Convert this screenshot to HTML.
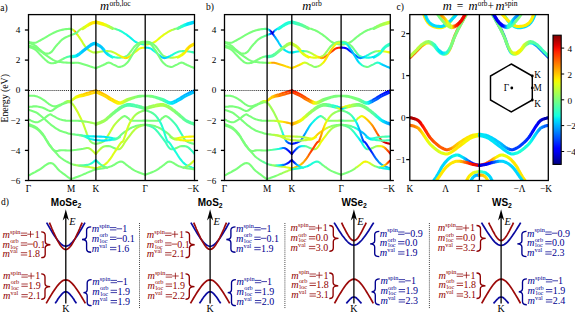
<!DOCTYPE html>
<html><head><meta charset="utf-8"><title>fig</title>
<style>
html,body{margin:0;padding:0;background:#fff;}
body{width:575px;height:313px;overflow:hidden;font-family:"Liberation Serif",serif;}
svg{display:block;}
</style></head><body>
<svg width="575" height="313" viewBox="0 0 575 313">
<defs>
<clipPath id="clipa"><rect x="28.5" y="14.6" width="166" height="165.9"/></clipPath>
<clipPath id="clipb"><rect x="224.5" y="14.6" width="165.8" height="165.9"/></clipPath>
<clipPath id="clipc"><rect x="409.8" y="14.6" width="138.5" height="165.9"/></clipPath>
<linearGradient id="cbar" x1="0" y1="0" x2="0" y2="1"><stop offset="0.000" stop-color="#800000"/><stop offset="0.025" stop-color="#9c0000"/><stop offset="0.050" stop-color="#b90000"/><stop offset="0.075" stop-color="#d60000"/><stop offset="0.100" stop-color="#f30900"/><stop offset="0.125" stop-color="#ff2100"/><stop offset="0.150" stop-color="#ff3900"/><stop offset="0.175" stop-color="#ff5000"/><stop offset="0.200" stop-color="#ff6800"/><stop offset="0.225" stop-color="#ff8000"/><stop offset="0.250" stop-color="#ff9700"/><stop offset="0.275" stop-color="#ffaf00"/><stop offset="0.300" stop-color="#ffc600"/><stop offset="0.325" stop-color="#ffde00"/><stop offset="0.350" stop-color="#f7f600"/><stop offset="0.375" stop-color="#e2ff15"/><stop offset="0.400" stop-color="#ceff29"/><stop offset="0.425" stop-color="#b9ff3e"/><stop offset="0.450" stop-color="#a5ff52"/><stop offset="0.475" stop-color="#90ff67"/><stop offset="0.500" stop-color="#7bff7b"/><stop offset="0.525" stop-color="#67ff90"/><stop offset="0.550" stop-color="#52ffa5"/><stop offset="0.575" stop-color="#3effb9"/><stop offset="0.600" stop-color="#29ffce"/><stop offset="0.625" stop-color="#15ffe2"/><stop offset="0.650" stop-color="#00e5f7"/><stop offset="0.675" stop-color="#00ccff"/><stop offset="0.700" stop-color="#00b2ff"/><stop offset="0.725" stop-color="#0099ff"/><stop offset="0.750" stop-color="#0080ff"/><stop offset="0.775" stop-color="#0066ff"/><stop offset="0.800" stop-color="#004dff"/><stop offset="0.825" stop-color="#0033ff"/><stop offset="0.850" stop-color="#0019ff"/><stop offset="0.875" stop-color="#0000ff"/><stop offset="0.900" stop-color="#0000f3"/><stop offset="0.925" stop-color="#0000d6"/><stop offset="0.950" stop-color="#0000b9"/><stop offset="0.975" stop-color="#00009c"/><stop offset="1.000" stop-color="#000080"/></linearGradient>
<linearGradient id="g1" gradientUnits="userSpaceOnUse" x1="28.6" y1="0" x2="95.9" y2="0"><stop offset="0.0000" stop-color="#7bff7b"/><stop offset="0.6345" stop-color="#7bff7b"/><stop offset="0.6485" stop-color="#a0ff56"/><stop offset="0.6605" stop-color="#c5ff31"/><stop offset="0.6709" stop-color="#deff19"/><stop offset="0.6801" stop-color="#ffe700"/><stop offset="0.6886" stop-color="#ffbd00"/><stop offset="0.6969" stop-color="#ff9200"/><stop offset="0.7044" stop-color="#ffaf00"/><stop offset="0.7109" stop-color="#ffcb00"/><stop offset="0.7166" stop-color="#ffd900"/><stop offset="0.7220" stop-color="#f7f600"/><stop offset="0.7277" stop-color="#deff19"/><stop offset="0.7340" stop-color="#d2ff25"/><stop offset="0.7901" stop-color="#d2ff25"/><stop offset="0.8031" stop-color="#c5ff31"/><stop offset="0.9166" stop-color="#c5ff31"/><stop offset="0.9298" stop-color="#b9ff3e"/></linearGradient>
<linearGradient id="g2" gradientUnits="userSpaceOnUse" x1="28.6" y1="0" x2="95.9" y2="0"><stop offset="0.0000" stop-color="#7bff7b"/><stop offset="0.6499" stop-color="#7bff7b"/><stop offset="0.6639" stop-color="#6fff88"/><stop offset="0.6882" stop-color="#6fff88"/><stop offset="0.6989" stop-color="#63ff94"/><stop offset="0.7088" stop-color="#63ff94"/><stop offset="0.7172" stop-color="#6fff88"/><stop offset="0.7241" stop-color="#7bff7b"/><stop offset="0.7299" stop-color="#88ff6f"/><stop offset="0.7356" stop-color="#94ff63"/><stop offset="0.7416" stop-color="#94ff63"/><stop offset="0.7489" stop-color="#a0ff56"/><stop offset="0.7567" stop-color="#adff4a"/><stop offset="0.7645" stop-color="#adff4a"/><stop offset="0.7728" stop-color="#b9ff3e"/><stop offset="0.7820" stop-color="#c5ff31"/><stop offset="0.7927" stop-color="#c5ff31"/><stop offset="0.8053" stop-color="#d2ff25"/><stop offset="0.8209" stop-color="#d2ff25"/><stop offset="0.8390" stop-color="#deff19"/><stop offset="0.8586" stop-color="#eaff0c"/><stop offset="0.8785" stop-color="#eaff0c"/><stop offset="0.8978" stop-color="#f7f600"/><stop offset="0.9153" stop-color="#ffe700"/></linearGradient>
<linearGradient id="g4" gradientUnits="userSpaceOnUse" x1="28.6" y1="0" x2="95.9" y2="0"><stop offset="0.0000" stop-color="#7bff7b"/><stop offset="0.4948" stop-color="#7bff7b"/><stop offset="0.5093" stop-color="#6fff88"/><stop offset="0.5233" stop-color="#6fff88"/><stop offset="0.5366" stop-color="#63ff94"/><stop offset="0.5494" stop-color="#63ff94"/><stop offset="0.5617" stop-color="#56ffa0"/><stop offset="0.5736" stop-color="#56ffa0"/><stop offset="0.5844" stop-color="#4affad"/><stop offset="0.5942" stop-color="#4affad"/><stop offset="0.6035" stop-color="#3effb9"/><stop offset="0.6128" stop-color="#31ffc5"/><stop offset="0.6230" stop-color="#31ffc5"/><stop offset="0.6345" stop-color="#25ffd2"/><stop offset="0.6473" stop-color="#25ffd2"/><stop offset="0.6609" stop-color="#19ffde"/><stop offset="0.6752" stop-color="#0cf5ea"/><stop offset="0.6903" stop-color="#0cf5ea"/><stop offset="0.7059" stop-color="#00e5f7"/><stop offset="0.7221" stop-color="#00d6ff"/><stop offset="0.7757" stop-color="#00d6ff"/><stop offset="0.7946" stop-color="#00c7ff"/><stop offset="0.9674" stop-color="#00c7ff"/><stop offset="0.9779" stop-color="#00d6ff"/></linearGradient>
<linearGradient id="g5" gradientUnits="userSpaceOnUse" x1="71.3" y1="0" x2="95.9" y2="0"><stop offset="0.0000" stop-color="#25ffd2"/><stop offset="0.0254" stop-color="#25ffd2"/><stop offset="0.0599" stop-color="#19ffde"/><stop offset="0.1011" stop-color="#0cf5ea"/><stop offset="0.1465" stop-color="#0cf5ea"/><stop offset="0.1936" stop-color="#00e5f7"/><stop offset="0.2398" stop-color="#00d6ff"/><stop offset="0.3864" stop-color="#00d6ff"/><stop offset="0.4381" stop-color="#00c7ff"/><stop offset="0.9107" stop-color="#00c7ff"/><stop offset="0.9395" stop-color="#00d6ff"/></linearGradient>
<linearGradient id="g6" gradientUnits="userSpaceOnUse" x1="82.8" y1="0" x2="95.9" y2="0"><stop offset="0.0000" stop-color="#d2ff25"/><stop offset="0.0630" stop-color="#d2ff25"/><stop offset="0.1513" stop-color="#deff19"/><stop offset="0.2552" stop-color="#eaff0c"/><stop offset="0.3653" stop-color="#eaff0c"/><stop offset="0.4717" stop-color="#f7f600"/><stop offset="0.5649" stop-color="#ffe700"/></linearGradient>
<linearGradient id="g7" gradientUnits="userSpaceOnUse" x1="29.1" y1="0" x2="95.9" y2="0"><stop offset="0.0000" stop-color="#7bff7b"/><stop offset="0.4746" stop-color="#7bff7b"/><stop offset="0.4902" stop-color="#88ff6f"/><stop offset="0.5062" stop-color="#88ff6f"/><stop offset="0.5222" stop-color="#94ff63"/><stop offset="0.5377" stop-color="#94ff63"/><stop offset="0.5524" stop-color="#a0ff56"/><stop offset="0.5659" stop-color="#a0ff56"/><stop offset="0.5776" stop-color="#adff4a"/><stop offset="0.5972" stop-color="#adff4a"/><stop offset="0.6065" stop-color="#b9ff3e"/><stop offset="0.6272" stop-color="#b9ff3e"/><stop offset="0.6391" stop-color="#c5ff31"/><stop offset="0.6510" stop-color="#d2ff25"/><stop offset="0.6635" stop-color="#deff19"/><stop offset="0.6770" stop-color="#deff19"/><stop offset="0.6917" stop-color="#eaff0c"/><stop offset="0.7081" stop-color="#f7f600"/><stop offset="0.7262" stop-color="#f7f600"/><stop offset="0.7457" stop-color="#ffe700"/><stop offset="0.7665" stop-color="#ffe700"/><stop offset="0.7884" stop-color="#ffd900"/><stop offset="0.8114" stop-color="#ffd900"/><stop offset="0.8353" stop-color="#ffcb00"/><stop offset="0.8935" stop-color="#ffcb00"/><stop offset="0.9256" stop-color="#ffbd00"/><stop offset="0.9817" stop-color="#ffbd00"/><stop offset="1.0000" stop-color="#ffaf00"/></linearGradient>
<linearGradient id="g8" gradientUnits="userSpaceOnUse" x1="71.0" y1="0" x2="95.9" y2="0"><stop offset="0.0000" stop-color="#b9ff3e"/><stop offset="0.0222" stop-color="#c5ff31"/><stop offset="0.0516" stop-color="#d2ff25"/><stop offset="0.0871" stop-color="#d2ff25"/><stop offset="0.1273" stop-color="#deff19"/><stop offset="0.1710" stop-color="#eaff0c"/><stop offset="0.2169" stop-color="#eaff0c"/><stop offset="0.2654" stop-color="#f7f600"/><stop offset="0.3735" stop-color="#f7f600"/><stop offset="0.4324" stop-color="#ffe700"/><stop offset="0.6312" stop-color="#ffe700"/><stop offset="0.7144" stop-color="#ffd900"/></linearGradient>
<linearGradient id="g9" gradientUnits="userSpaceOnUse" x1="29.1" y1="0" x2="95.8" y2="0"><stop offset="0.0000" stop-color="#7bff7b"/><stop offset="0.5367" stop-color="#7bff7b"/><stop offset="0.5539" stop-color="#88ff6f"/><stop offset="0.5699" stop-color="#88ff6f"/><stop offset="0.5851" stop-color="#94ff63"/><stop offset="0.5996" stop-color="#a0ff56"/><stop offset="0.6139" stop-color="#a0ff56"/><stop offset="0.6282" stop-color="#adff4a"/><stop offset="0.6422" stop-color="#adff4a"/><stop offset="0.6558" stop-color="#b9ff3e"/><stop offset="0.6690" stop-color="#b9ff3e"/><stop offset="0.6822" stop-color="#c5ff31"/><stop offset="0.6955" stop-color="#c5ff31"/><stop offset="0.7091" stop-color="#d2ff25"/><stop offset="0.7946" stop-color="#d2ff25"/><stop offset="0.8049" stop-color="#c5ff31"/><stop offset="0.8364" stop-color="#c5ff31"/><stop offset="0.8456" stop-color="#b9ff3e"/><stop offset="0.8558" stop-color="#b9ff3e"/><stop offset="0.8666" stop-color="#adff4a"/><stop offset="0.8779" stop-color="#adff4a"/><stop offset="0.8897" stop-color="#a0ff56"/><stop offset="0.9019" stop-color="#a0ff56"/><stop offset="0.9145" stop-color="#94ff63"/><stop offset="0.9288" stop-color="#94ff63"/><stop offset="0.9450" stop-color="#88ff6f"/><stop offset="0.9772" stop-color="#88ff6f"/><stop offset="0.9905" stop-color="#7bff7b"/></linearGradient>
<linearGradient id="g10" gradientUnits="userSpaceOnUse" x1="29.1" y1="0" x2="95.9" y2="0"><stop offset="0.0000" stop-color="#7bff7b"/><stop offset="0.6482" stop-color="#7bff7b"/><stop offset="0.6738" stop-color="#6fff88"/><stop offset="0.7019" stop-color="#6fff88"/><stop offset="0.7306" stop-color="#63ff94"/><stop offset="0.7578" stop-color="#63ff94"/><stop offset="0.7814" stop-color="#56ffa0"/><stop offset="0.8011" stop-color="#4affad"/><stop offset="0.8182" stop-color="#3effb9"/><stop offset="0.8338" stop-color="#31ffc5"/><stop offset="0.8490" stop-color="#25ffd2"/><stop offset="0.8646" stop-color="#19ffde"/><stop offset="0.8817" stop-color="#0cf5ea"/><stop offset="0.9471" stop-color="#0cf5ea"/><stop offset="0.9687" stop-color="#00e5f7"/></linearGradient>
<linearGradient id="g11" gradientUnits="userSpaceOnUse" x1="79.0" y1="0" x2="95.9" y2="0"><stop offset="0.0000" stop-color="#7bff7b"/><stop offset="0.0322" stop-color="#6fff88"/><stop offset="0.0767" stop-color="#63ff94"/><stop offset="0.1294" stop-color="#56ffa0"/><stop offset="0.1863" stop-color="#4affad"/><stop offset="0.2431" stop-color="#4affad"/><stop offset="0.2959" stop-color="#3effb9"/><stop offset="0.3439" stop-color="#31ffc5"/><stop offset="0.3903" stop-color="#31ffc5"/><stop offset="0.4368" stop-color="#25ffd2"/><stop offset="0.4848" stop-color="#19ffde"/><stop offset="0.5359" stop-color="#19ffde"/><stop offset="0.5917" stop-color="#0cf5ea"/><stop offset="0.8143" stop-color="#0cf5ea"/><stop offset="0.8900" stop-color="#00e5f7"/></linearGradient>
<linearGradient id="g12" gradientUnits="userSpaceOnUse" x1="29.1" y1="0" x2="95.7" y2="0"><stop offset="0.0000" stop-color="#7bff7b"/><stop offset="0.7754" stop-color="#7bff7b"/><stop offset="0.7974" stop-color="#88ff6f"/><stop offset="0.8196" stop-color="#88ff6f"/><stop offset="0.8417" stop-color="#94ff63"/><stop offset="0.8634" stop-color="#94ff63"/><stop offset="0.8844" stop-color="#a0ff56"/></linearGradient>
<linearGradient id="g13" gradientUnits="userSpaceOnUse" x1="29.1" y1="0" x2="95.8" y2="0"><stop offset="0.0000" stop-color="#7bff7b"/><stop offset="0.7916" stop-color="#7bff7b"/><stop offset="0.8127" stop-color="#88ff6f"/><stop offset="0.8312" stop-color="#88ff6f"/><stop offset="0.8480" stop-color="#94ff63"/><stop offset="0.8640" stop-color="#94ff63"/><stop offset="0.8799" stop-color="#a0ff56"/><stop offset="0.8966" stop-color="#a0ff56"/><stop offset="0.9151" stop-color="#adff4a"/><stop offset="0.9350" stop-color="#b9ff3e"/><stop offset="0.9548" stop-color="#c5ff31"/><stop offset="0.9732" stop-color="#c5ff31"/><stop offset="0.9888" stop-color="#d2ff25"/><stop offset="1.0000" stop-color="#deff19"/></linearGradient>
<linearGradient id="g14" gradientUnits="userSpaceOnUse" x1="29.1" y1="0" x2="95.8" y2="0"><stop offset="0.0000" stop-color="#7bff7b"/><stop offset="0.6237" stop-color="#7bff7b"/><stop offset="0.6455" stop-color="#88ff6f"/><stop offset="0.6662" stop-color="#88ff6f"/><stop offset="0.6865" stop-color="#94ff63"/><stop offset="0.7068" stop-color="#94ff63"/><stop offset="0.7276" stop-color="#a0ff56"/><stop offset="0.7496" stop-color="#a0ff56"/><stop offset="0.7734" stop-color="#adff4a"/><stop offset="0.8245" stop-color="#adff4a"/><stop offset="0.8500" stop-color="#b9ff3e"/><stop offset="0.8966" stop-color="#b9ff3e"/><stop offset="0.9175" stop-color="#c5ff31"/><stop offset="0.9892" stop-color="#c5ff31"/><stop offset="1.0000" stop-color="#d2ff25"/></linearGradient>
<linearGradient id="g15" gradientUnits="userSpaceOnUse" x1="79.1" y1="0" x2="95.8" y2="0"><stop offset="0.0000" stop-color="#7bff7b"/><stop offset="0.0659" stop-color="#6fff88"/><stop offset="0.1586" stop-color="#63ff94"/><stop offset="0.2676" stop-color="#56ffa0"/><stop offset="0.3823" stop-color="#4affad"/><stop offset="0.4923" stop-color="#4affad"/><stop offset="0.5868" stop-color="#3effb9"/><stop offset="0.6705" stop-color="#31ffc5"/><stop offset="0.7527" stop-color="#25ffd2"/><stop offset="0.8301" stop-color="#19ffde"/><stop offset="0.8993" stop-color="#19ffde"/><stop offset="0.9571" stop-color="#0cf5ea"/><stop offset="1.0000" stop-color="#00e5f7"/></linearGradient>
<linearGradient id="g17" gradientUnits="userSpaceOnUse" x1="95.9" y1="0" x2="145.2" y2="0"><stop offset="0.0000" stop-color="#ffe700"/><stop offset="0.0497" stop-color="#ffe700"/><stop offset="0.0838" stop-color="#f7f600"/><stop offset="0.1553" stop-color="#f7f600"/><stop offset="0.1866" stop-color="#eaff0c"/><stop offset="0.2140" stop-color="#deff19"/><stop offset="0.2400" stop-color="#d2ff25"/><stop offset="0.2650" stop-color="#c5ff31"/><stop offset="0.2895" stop-color="#adff4a"/><stop offset="0.3139" stop-color="#a0ff56"/><stop offset="0.3387" stop-color="#94ff63"/><stop offset="0.3639" stop-color="#88ff6f"/><stop offset="0.3889" stop-color="#6fff88"/><stop offset="0.4139" stop-color="#63ff94"/><stop offset="0.4389" stop-color="#4affad"/><stop offset="0.4639" stop-color="#3effb9"/><stop offset="0.4888" stop-color="#25ffd2"/><stop offset="0.5389" stop-color="#25ffd2"/><stop offset="0.5639" stop-color="#19ffde"/><stop offset="0.6139" stop-color="#19ffde"/><stop offset="0.6389" stop-color="#0cf5ea"/><stop offset="0.8105" stop-color="#0cf5ea"/><stop offset="0.8309" stop-color="#19ffde"/><stop offset="0.9228" stop-color="#19ffde"/><stop offset="0.9415" stop-color="#25ffd2"/><stop offset="0.9596" stop-color="#25ffd2"/><stop offset="0.9760" stop-color="#31ffc5"/><stop offset="0.9899" stop-color="#31ffc5"/><stop offset="1.0000" stop-color="#3effb9"/></linearGradient>
<linearGradient id="g18" gradientUnits="userSpaceOnUse" x1="145.2" y1="0" x2="194.5" y2="0"><stop offset="0.0000" stop-color="#b9ff3e"/><stop offset="0.0101" stop-color="#c5ff31"/><stop offset="0.0240" stop-color="#c5ff31"/><stop offset="0.0404" stop-color="#d2ff25"/><stop offset="0.0585" stop-color="#d2ff25"/><stop offset="0.0772" stop-color="#deff19"/><stop offset="0.1691" stop-color="#deff19"/><stop offset="0.1895" stop-color="#eaff0c"/><stop offset="0.3611" stop-color="#eaff0c"/><stop offset="0.3861" stop-color="#deff19"/><stop offset="0.4361" stop-color="#deff19"/><stop offset="0.4611" stop-color="#d2ff25"/><stop offset="0.5112" stop-color="#d2ff25"/><stop offset="0.5361" stop-color="#b9ff3e"/><stop offset="0.5611" stop-color="#adff4a"/><stop offset="0.5861" stop-color="#94ff63"/><stop offset="0.6111" stop-color="#88ff6f"/><stop offset="0.6361" stop-color="#6fff88"/><stop offset="0.6613" stop-color="#63ff94"/><stop offset="0.6861" stop-color="#56ffa0"/><stop offset="0.7105" stop-color="#4affad"/><stop offset="0.7350" stop-color="#31ffc5"/><stop offset="0.7600" stop-color="#25ffd2"/><stop offset="0.7860" stop-color="#19ffde"/><stop offset="0.8134" stop-color="#0cf5ea"/><stop offset="0.8447" stop-color="#00e5f7"/><stop offset="0.9162" stop-color="#00e5f7"/><stop offset="0.9503" stop-color="#00d6ff"/></linearGradient>
<linearGradient id="g19" gradientUnits="userSpaceOnUse" x1="95.9" y1="0" x2="145.2" y2="0"><stop offset="0.0000" stop-color="#00d6ff"/><stop offset="0.0487" stop-color="#00d6ff"/><stop offset="0.0701" stop-color="#00c7ff"/><stop offset="0.1304" stop-color="#00c7ff"/><stop offset="0.1493" stop-color="#00d6ff"/><stop offset="0.1872" stop-color="#00d6ff"/><stop offset="0.2062" stop-color="#00e5f7"/><stop offset="0.2437" stop-color="#00e5f7"/><stop offset="0.2617" stop-color="#0cf5ea"/><stop offset="0.2982" stop-color="#0cf5ea"/><stop offset="0.3177" stop-color="#19ffde"/><stop offset="0.3387" stop-color="#19ffde"/><stop offset="0.3616" stop-color="#25ffd2"/><stop offset="0.3861" stop-color="#31ffc5"/><stop offset="0.4115" stop-color="#31ffc5"/><stop offset="0.4375" stop-color="#3effb9"/><stop offset="0.4634" stop-color="#4affad"/><stop offset="0.4888" stop-color="#56ffa0"/><stop offset="0.5139" stop-color="#56ffa0"/><stop offset="0.5389" stop-color="#63ff94"/><stop offset="0.5639" stop-color="#63ff94"/><stop offset="0.5889" stop-color="#6fff88"/><stop offset="0.6139" stop-color="#6fff88"/><stop offset="0.6389" stop-color="#7bff7b"/></linearGradient>
<linearGradient id="g20" gradientUnits="userSpaceOnUse" x1="145.2" y1="0" x2="194.5" y2="0"><stop offset="0.0000" stop-color="#7bff7b"/><stop offset="0.3611" stop-color="#7bff7b"/><stop offset="0.3861" stop-color="#88ff6f"/><stop offset="0.4111" stop-color="#88ff6f"/><stop offset="0.4361" stop-color="#94ff63"/><stop offset="0.4611" stop-color="#94ff63"/><stop offset="0.4861" stop-color="#a0ff56"/><stop offset="0.5112" stop-color="#a0ff56"/><stop offset="0.5366" stop-color="#adff4a"/><stop offset="0.5625" stop-color="#b9ff3e"/><stop offset="0.5885" stop-color="#c5ff31"/><stop offset="0.6139" stop-color="#c5ff31"/><stop offset="0.6384" stop-color="#d2ff25"/><stop offset="0.6613" stop-color="#deff19"/><stop offset="0.6823" stop-color="#deff19"/><stop offset="0.7018" stop-color="#eaff0c"/><stop offset="0.7383" stop-color="#eaff0c"/><stop offset="0.7563" stop-color="#f7f600"/><stop offset="0.7938" stop-color="#f7f600"/><stop offset="0.8128" stop-color="#ffe700"/><stop offset="0.8507" stop-color="#ffe700"/><stop offset="0.8696" stop-color="#ffd900"/><stop offset="0.9299" stop-color="#ffd900"/><stop offset="0.9513" stop-color="#ffe700"/></linearGradient>
<linearGradient id="g21" gradientUnits="userSpaceOnUse" x1="95.9" y1="0" x2="145.2" y2="0"><stop offset="0.0000" stop-color="#b9ff3e"/><stop offset="0.0497" stop-color="#b9ff3e"/><stop offset="0.0838" stop-color="#adff4a"/><stop offset="0.1553" stop-color="#adff4a"/><stop offset="0.1866" stop-color="#a0ff56"/><stop offset="0.2136" stop-color="#adff4a"/><stop offset="0.2627" stop-color="#adff4a"/><stop offset="0.2868" stop-color="#b9ff3e"/><stop offset="0.3387" stop-color="#b9ff3e"/><stop offset="0.3687" stop-color="#c5ff31"/><stop offset="0.4011" stop-color="#d2ff25"/><stop offset="0.4345" stop-color="#deff19"/><stop offset="0.4673" stop-color="#deff19"/><stop offset="0.4981" stop-color="#eaff0c"/><stop offset="0.5254" stop-color="#f7f600"/><stop offset="0.5481" stop-color="#f7f600"/><stop offset="0.5673" stop-color="#ffe700"/><stop offset="0.6011" stop-color="#ffe700"/><stop offset="0.6187" stop-color="#ffd900"/><stop offset="0.6389" stop-color="#ffd900"/><stop offset="0.6622" stop-color="#ffe700"/><stop offset="0.6876" stop-color="#ffe700"/><stop offset="0.7139" stop-color="#f7f600"/><stop offset="0.7402" stop-color="#eaff0c"/><stop offset="0.7656" stop-color="#eaff0c"/><stop offset="0.7890" stop-color="#deff19"/><stop offset="0.8309" stop-color="#deff19"/><stop offset="0.8503" stop-color="#eaff0c"/><stop offset="0.9047" stop-color="#eaff0c"/><stop offset="0.9228" stop-color="#f7f600"/><stop offset="0.9899" stop-color="#f7f600"/><stop offset="1.0000" stop-color="#ffe700"/></linearGradient>
<linearGradient id="g22" gradientUnits="userSpaceOnUse" x1="145.2" y1="0" x2="194.5" y2="0"><stop offset="0.0000" stop-color="#00d6ff"/><stop offset="0.0101" stop-color="#00e5f7"/><stop offset="0.0772" stop-color="#00e5f7"/><stop offset="0.0953" stop-color="#0cf5ea"/><stop offset="0.1497" stop-color="#0cf5ea"/><stop offset="0.1691" stop-color="#19ffde"/><stop offset="0.2110" stop-color="#19ffde"/><stop offset="0.2344" stop-color="#0cf5ea"/><stop offset="0.2598" stop-color="#0cf5ea"/><stop offset="0.2861" stop-color="#00e5f7"/><stop offset="0.3124" stop-color="#00d6ff"/><stop offset="0.3378" stop-color="#00d6ff"/><stop offset="0.3611" stop-color="#00c7ff"/><stop offset="0.3813" stop-color="#00c7ff"/><stop offset="0.3989" stop-color="#00d6ff"/><stop offset="0.4327" stop-color="#00d6ff"/><stop offset="0.4519" stop-color="#00e5f7"/><stop offset="0.4746" stop-color="#00e5f7"/><stop offset="0.5019" stop-color="#0cf5ea"/><stop offset="0.5327" stop-color="#19ffde"/><stop offset="0.5655" stop-color="#19ffde"/><stop offset="0.5989" stop-color="#25ffd2"/><stop offset="0.6313" stop-color="#31ffc5"/><stop offset="0.6613" stop-color="#3effb9"/><stop offset="0.7132" stop-color="#3effb9"/><stop offset="0.7373" stop-color="#4affad"/><stop offset="0.7864" stop-color="#4affad"/><stop offset="0.8134" stop-color="#56ffa0"/><stop offset="0.8447" stop-color="#4affad"/><stop offset="0.9162" stop-color="#4affad"/><stop offset="0.9503" stop-color="#3effb9"/></linearGradient>
<linearGradient id="g25" gradientUnits="userSpaceOnUse" x1="95.9" y1="0" x2="112.6" y2="0"><stop offset="0.0000" stop-color="#00d6ff"/><stop offset="0.1437" stop-color="#00d6ff"/><stop offset="0.2069" stop-color="#00c7ff"/><stop offset="0.3849" stop-color="#00c7ff"/><stop offset="0.4407" stop-color="#00d6ff"/><stop offset="0.5527" stop-color="#00d6ff"/><stop offset="0.6087" stop-color="#00e5f7"/><stop offset="0.7244" stop-color="#00e5f7"/><stop offset="0.7889" stop-color="#0cf5ea"/><stop offset="0.9131" stop-color="#0cf5ea"/><stop offset="0.9635" stop-color="#19ffde"/></linearGradient>
<linearGradient id="g26" gradientUnits="userSpaceOnUse" x1="177.8" y1="0" x2="194.5" y2="0"><stop offset="0.0000" stop-color="#deff19"/><stop offset="0.0365" stop-color="#deff19"/><stop offset="0.0869" stop-color="#eaff0c"/><stop offset="0.2111" stop-color="#eaff0c"/><stop offset="0.2756" stop-color="#f7f600"/><stop offset="0.3913" stop-color="#f7f600"/><stop offset="0.4473" stop-color="#ffe700"/><stop offset="0.5593" stop-color="#ffe700"/><stop offset="0.6151" stop-color="#ffd900"/><stop offset="0.7931" stop-color="#ffd900"/><stop offset="0.8563" stop-color="#ffe700"/></linearGradient>
<linearGradient id="g27" gradientUnits="userSpaceOnUse" x1="95.9" y1="0" x2="112.6" y2="0"><stop offset="0.0000" stop-color="#ffe700"/><stop offset="0.1466" stop-color="#ffe700"/><stop offset="0.2474" stop-color="#f7f600"/><stop offset="0.4586" stop-color="#f7f600"/><stop offset="0.5509" stop-color="#eaff0c"/><stop offset="0.6368" stop-color="#deff19"/><stop offset="0.7248" stop-color="#d2ff25"/><stop offset="0.8099" stop-color="#c5ff31"/><stop offset="0.8873" stop-color="#adff4a"/><stop offset="0.9523" stop-color="#a0ff56"/><stop offset="1.0000" stop-color="#94ff63"/></linearGradient>
<linearGradient id="g28" gradientUnits="userSpaceOnUse" x1="177.8" y1="0" x2="194.5" y2="0"><stop offset="0.0000" stop-color="#63ff94"/><stop offset="0.0477" stop-color="#56ffa0"/><stop offset="0.1127" stop-color="#4affad"/><stop offset="0.1901" stop-color="#31ffc5"/><stop offset="0.2752" stop-color="#25ffd2"/><stop offset="0.3632" stop-color="#19ffde"/><stop offset="0.4491" stop-color="#0cf5ea"/><stop offset="0.5414" stop-color="#00e5f7"/><stop offset="0.7526" stop-color="#00e5f7"/><stop offset="0.8534" stop-color="#00d6ff"/></linearGradient>
<linearGradient id="g29" gradientUnits="userSpaceOnUse" x1="95.9" y1="0" x2="145.2" y2="0"><stop offset="0.0000" stop-color="#ffaf00"/><stop offset="0.0193" stop-color="#ffbd00"/><stop offset="0.1454" stop-color="#ffbd00"/><stop offset="0.1765" stop-color="#ffcb00"/><stop offset="0.2638" stop-color="#ffcb00"/><stop offset="0.2924" stop-color="#ffd900"/><stop offset="0.3718" stop-color="#ffd900"/><stop offset="0.3952" stop-color="#ffe700"/><stop offset="0.4403" stop-color="#ffe700"/><stop offset="0.4637" stop-color="#f7f600"/><stop offset="0.4888" stop-color="#f7f600"/><stop offset="0.5155" stop-color="#eaff0c"/><stop offset="0.5431" stop-color="#deff19"/><stop offset="0.5715" stop-color="#d2ff25"/><stop offset="0.6007" stop-color="#c5ff31"/><stop offset="0.6306" stop-color="#adff4a"/><stop offset="0.6613" stop-color="#a0ff56"/><stop offset="0.6935" stop-color="#a0ff56"/><stop offset="0.7277" stop-color="#94ff63"/><stop offset="0.7627" stop-color="#94ff63"/><stop offset="0.7972" stop-color="#88ff6f"/><stop offset="0.8300" stop-color="#88ff6f"/><stop offset="0.8600" stop-color="#7bff7b"/></linearGradient>
<linearGradient id="g30" gradientUnits="userSpaceOnUse" x1="145.2" y1="0" x2="194.5" y2="0"><stop offset="0.0000" stop-color="#7bff7b"/><stop offset="0.1400" stop-color="#7bff7b"/><stop offset="0.1700" stop-color="#6fff88"/><stop offset="0.2028" stop-color="#6fff88"/><stop offset="0.2373" stop-color="#63ff94"/><stop offset="0.2723" stop-color="#63ff94"/><stop offset="0.3065" stop-color="#56ffa0"/><stop offset="0.3387" stop-color="#56ffa0"/><stop offset="0.3694" stop-color="#4affad"/><stop offset="0.3993" stop-color="#31ffc5"/><stop offset="0.4285" stop-color="#25ffd2"/><stop offset="0.4569" stop-color="#19ffde"/><stop offset="0.4845" stop-color="#0cf5ea"/><stop offset="0.5112" stop-color="#00e5f7"/><stop offset="0.5363" stop-color="#00e5f7"/><stop offset="0.5597" stop-color="#00d6ff"/><stop offset="0.6048" stop-color="#00d6ff"/><stop offset="0.6282" stop-color="#00c7ff"/><stop offset="0.7076" stop-color="#00c7ff"/><stop offset="0.7362" stop-color="#00b8ff"/><stop offset="0.8235" stop-color="#00b8ff"/><stop offset="0.8546" stop-color="#00a8ff"/><stop offset="0.9807" stop-color="#00a8ff"/><stop offset="1.0000" stop-color="#0099ff"/></linearGradient>
<linearGradient id="g31" gradientUnits="userSpaceOnUse" x1="95.9" y1="0" x2="145.2" y2="0"><stop offset="0.0000" stop-color="#ffd900"/><stop offset="0.2924" stop-color="#ffd900"/><stop offset="0.3202" stop-color="#ffe700"/><stop offset="0.3952" stop-color="#ffe700"/><stop offset="0.4177" stop-color="#f7f600"/><stop offset="0.4637" stop-color="#f7f600"/><stop offset="0.4888" stop-color="#eaff0c"/><stop offset="0.5155" stop-color="#deff19"/><stop offset="0.5431" stop-color="#d2ff25"/><stop offset="0.5715" stop-color="#c5ff31"/><stop offset="0.6007" stop-color="#b9ff3e"/><stop offset="0.6306" stop-color="#adff4a"/><stop offset="0.6613" stop-color="#a0ff56"/><stop offset="0.6935" stop-color="#a0ff56"/><stop offset="0.7277" stop-color="#94ff63"/><stop offset="0.7627" stop-color="#94ff63"/><stop offset="0.7972" stop-color="#88ff6f"/><stop offset="0.8300" stop-color="#88ff6f"/><stop offset="0.8600" stop-color="#7bff7b"/></linearGradient>
<linearGradient id="g32" gradientUnits="userSpaceOnUse" x1="145.2" y1="0" x2="194.5" y2="0"><stop offset="0.0000" stop-color="#7bff7b"/><stop offset="0.1400" stop-color="#7bff7b"/><stop offset="0.1700" stop-color="#6fff88"/><stop offset="0.2028" stop-color="#6fff88"/><stop offset="0.2373" stop-color="#63ff94"/><stop offset="0.2723" stop-color="#63ff94"/><stop offset="0.3065" stop-color="#56ffa0"/><stop offset="0.3387" stop-color="#56ffa0"/><stop offset="0.3694" stop-color="#4affad"/><stop offset="0.3993" stop-color="#3effb9"/><stop offset="0.4285" stop-color="#31ffc5"/><stop offset="0.4569" stop-color="#25ffd2"/><stop offset="0.4845" stop-color="#19ffde"/><stop offset="0.5112" stop-color="#0cf5ea"/><stop offset="0.5363" stop-color="#00e5f7"/><stop offset="0.5823" stop-color="#00e5f7"/><stop offset="0.6048" stop-color="#00d6ff"/><stop offset="0.6798" stop-color="#00d6ff"/><stop offset="0.7076" stop-color="#00c7ff"/></linearGradient>
<linearGradient id="g33" gradientUnits="userSpaceOnUse" x1="95.7" y1="0" x2="145.2" y2="0"><stop offset="0.0000" stop-color="#a0ff56"/><stop offset="0.1798" stop-color="#a0ff56"/><stop offset="0.2087" stop-color="#94ff63"/><stop offset="0.2371" stop-color="#94ff63"/><stop offset="0.2653" stop-color="#88ff6f"/><stop offset="0.2933" stop-color="#88ff6f"/><stop offset="0.3213" stop-color="#7bff7b"/><stop offset="0.3781" stop-color="#7bff7b"/><stop offset="0.4070" stop-color="#6fff88"/><stop offset="0.4646" stop-color="#6fff88"/><stop offset="0.4924" stop-color="#63ff94"/><stop offset="0.5440" stop-color="#63ff94"/><stop offset="0.5669" stop-color="#56ffa0"/><stop offset="0.6117" stop-color="#56ffa0"/><stop offset="0.6359" stop-color="#4affad"/><stop offset="0.7969" stop-color="#4affad"/><stop offset="0.8304" stop-color="#56ffa0"/><stop offset="0.8888" stop-color="#56ffa0"/><stop offset="0.9166" stop-color="#63ff94"/><stop offset="0.9427" stop-color="#63ff94"/><stop offset="0.9660" stop-color="#6fff88"/><stop offset="0.9855" stop-color="#6fff88"/><stop offset="1.0000" stop-color="#7bff7b"/></linearGradient>
<linearGradient id="g34" gradientUnits="userSpaceOnUse" x1="145.2" y1="0" x2="194.7" y2="0"><stop offset="0.0000" stop-color="#7bff7b"/><stop offset="0.0145" stop-color="#88ff6f"/><stop offset="0.0340" stop-color="#88ff6f"/><stop offset="0.0573" stop-color="#94ff63"/><stop offset="0.0834" stop-color="#94ff63"/><stop offset="0.1112" stop-color="#a0ff56"/><stop offset="0.1696" stop-color="#a0ff56"/><stop offset="0.2031" stop-color="#adff4a"/><stop offset="0.3641" stop-color="#adff4a"/><stop offset="0.3883" stop-color="#a0ff56"/><stop offset="0.4331" stop-color="#a0ff56"/><stop offset="0.4560" stop-color="#94ff63"/><stop offset="0.5076" stop-color="#94ff63"/><stop offset="0.5354" stop-color="#88ff6f"/><stop offset="0.5930" stop-color="#88ff6f"/><stop offset="0.6219" stop-color="#7bff7b"/><stop offset="0.6787" stop-color="#7bff7b"/><stop offset="0.7067" stop-color="#6fff88"/><stop offset="0.7347" stop-color="#6fff88"/><stop offset="0.7629" stop-color="#63ff94"/><stop offset="0.7913" stop-color="#63ff94"/><stop offset="0.8202" stop-color="#56ffa0"/></linearGradient>
<linearGradient id="g35" gradientUnits="userSpaceOnUse" x1="95.7" y1="0" x2="145.2" y2="0"><stop offset="0.0000" stop-color="#a0ff56"/><stop offset="0.1798" stop-color="#a0ff56"/><stop offset="0.2087" stop-color="#94ff63"/><stop offset="0.2371" stop-color="#94ff63"/><stop offset="0.2653" stop-color="#88ff6f"/><stop offset="0.2933" stop-color="#88ff6f"/><stop offset="0.3213" stop-color="#7bff7b"/><stop offset="0.3781" stop-color="#7bff7b"/><stop offset="0.4070" stop-color="#6fff88"/><stop offset="0.4646" stop-color="#6fff88"/><stop offset="0.4924" stop-color="#63ff94"/><stop offset="0.5440" stop-color="#63ff94"/><stop offset="0.5669" stop-color="#56ffa0"/><stop offset="0.6117" stop-color="#56ffa0"/><stop offset="0.6359" stop-color="#4affad"/><stop offset="0.7969" stop-color="#4affad"/><stop offset="0.8304" stop-color="#56ffa0"/><stop offset="0.8888" stop-color="#56ffa0"/><stop offset="0.9166" stop-color="#63ff94"/><stop offset="0.9427" stop-color="#63ff94"/><stop offset="0.9660" stop-color="#6fff88"/><stop offset="0.9855" stop-color="#6fff88"/><stop offset="1.0000" stop-color="#7bff7b"/></linearGradient>
<linearGradient id="g36" gradientUnits="userSpaceOnUse" x1="145.2" y1="0" x2="194.7" y2="0"><stop offset="0.0000" stop-color="#7bff7b"/><stop offset="0.0145" stop-color="#88ff6f"/><stop offset="0.0340" stop-color="#88ff6f"/><stop offset="0.0573" stop-color="#94ff63"/><stop offset="0.0834" stop-color="#94ff63"/><stop offset="0.1112" stop-color="#a0ff56"/><stop offset="0.1696" stop-color="#a0ff56"/><stop offset="0.2031" stop-color="#adff4a"/><stop offset="0.3641" stop-color="#adff4a"/><stop offset="0.3883" stop-color="#a0ff56"/><stop offset="0.4331" stop-color="#a0ff56"/><stop offset="0.4560" stop-color="#94ff63"/><stop offset="0.5076" stop-color="#94ff63"/><stop offset="0.5354" stop-color="#88ff6f"/><stop offset="0.5930" stop-color="#88ff6f"/><stop offset="0.6219" stop-color="#7bff7b"/><stop offset="0.6787" stop-color="#7bff7b"/><stop offset="0.7067" stop-color="#6fff88"/><stop offset="0.7347" stop-color="#6fff88"/><stop offset="0.7629" stop-color="#63ff94"/><stop offset="0.7913" stop-color="#63ff94"/><stop offset="0.8202" stop-color="#56ffa0"/></linearGradient>
<linearGradient id="g37" gradientUnits="userSpaceOnUse" x1="95.8" y1="0" x2="145.2" y2="0"><stop offset="0.0000" stop-color="#7bff7b"/><stop offset="0.0197" stop-color="#7bff7b"/><stop offset="0.0478" stop-color="#88ff6f"/><stop offset="0.1146" stop-color="#88ff6f"/><stop offset="0.1463" stop-color="#94ff63"/><stop offset="0.1721" stop-color="#94ff63"/><stop offset="0.1910" stop-color="#a0ff56"/><stop offset="0.2057" stop-color="#a0ff56"/><stop offset="0.2181" stop-color="#adff4a"/><stop offset="0.2299" stop-color="#b9ff3e"/><stop offset="0.2430" stop-color="#b9ff3e"/><stop offset="0.2591" stop-color="#c5ff31"/><stop offset="0.3423" stop-color="#c5ff31"/><stop offset="0.3660" stop-color="#b9ff3e"/><stop offset="0.3907" stop-color="#b9ff3e"/><stop offset="0.4177" stop-color="#adff4a"/><stop offset="0.4474" stop-color="#adff4a"/><stop offset="0.4782" stop-color="#a0ff56"/><stop offset="0.5085" stop-color="#94ff63"/><stop offset="0.5365" stop-color="#88ff6f"/><stop offset="0.5607" stop-color="#7bff7b"/></linearGradient>
<linearGradient id="g38" gradientUnits="userSpaceOnUse" x1="145.2" y1="0" x2="194.6" y2="0"><stop offset="0.0000" stop-color="#7bff7b"/><stop offset="0.4393" stop-color="#7bff7b"/><stop offset="0.4635" stop-color="#6fff88"/><stop offset="0.4915" stop-color="#63ff94"/><stop offset="0.5218" stop-color="#56ffa0"/><stop offset="0.5526" stop-color="#4affad"/><stop offset="0.5823" stop-color="#4affad"/><stop offset="0.6093" stop-color="#3effb9"/><stop offset="0.6340" stop-color="#3effb9"/><stop offset="0.6577" stop-color="#31ffc5"/><stop offset="0.7409" stop-color="#31ffc5"/><stop offset="0.7570" stop-color="#3effb9"/><stop offset="0.7701" stop-color="#3effb9"/><stop offset="0.7819" stop-color="#4affad"/><stop offset="0.7943" stop-color="#56ffa0"/><stop offset="0.8090" stop-color="#56ffa0"/><stop offset="0.8279" stop-color="#63ff94"/><stop offset="0.8537" stop-color="#63ff94"/><stop offset="0.8854" stop-color="#6fff88"/><stop offset="0.9522" stop-color="#6fff88"/><stop offset="0.9803" stop-color="#7bff7b"/></linearGradient>
<linearGradient id="g39" gradientUnits="userSpaceOnUse" x1="95.9" y1="0" x2="145.2" y2="0"><stop offset="0.0000" stop-color="#00e5f7"/><stop offset="0.2208" stop-color="#00e5f7"/><stop offset="0.2494" stop-color="#0cf5ea"/><stop offset="0.3266" stop-color="#0cf5ea"/><stop offset="0.3468" stop-color="#19ffde"/><stop offset="0.3643" stop-color="#25ffd2"/><stop offset="0.3801" stop-color="#31ffc5"/><stop offset="0.3952" stop-color="#31ffc5"/><stop offset="0.4109" stop-color="#3effb9"/><stop offset="0.4280" stop-color="#4affad"/><stop offset="0.4461" stop-color="#56ffa0"/><stop offset="0.4642" stop-color="#56ffa0"/><stop offset="0.4828" stop-color="#63ff94"/><stop offset="0.5022" stop-color="#6fff88"/><stop offset="0.5230" stop-color="#6fff88"/><stop offset="0.5456" stop-color="#7bff7b"/></linearGradient>
<linearGradient id="g40" gradientUnits="userSpaceOnUse" x1="145.2" y1="0" x2="194.5" y2="0"><stop offset="0.0000" stop-color="#7bff7b"/><stop offset="0.4544" stop-color="#7bff7b"/><stop offset="0.4770" stop-color="#88ff6f"/><stop offset="0.4978" stop-color="#88ff6f"/><stop offset="0.5172" stop-color="#94ff63"/><stop offset="0.5358" stop-color="#a0ff56"/><stop offset="0.5539" stop-color="#a0ff56"/><stop offset="0.5720" stop-color="#adff4a"/><stop offset="0.5891" stop-color="#b9ff3e"/><stop offset="0.6048" stop-color="#c5ff31"/><stop offset="0.6199" stop-color="#c5ff31"/><stop offset="0.6357" stop-color="#d2ff25"/><stop offset="0.6532" stop-color="#deff19"/><stop offset="0.6734" stop-color="#eaff0c"/><stop offset="0.7506" stop-color="#eaff0c"/><stop offset="0.7792" stop-color="#f7f600"/></linearGradient>
<linearGradient id="g41" gradientUnits="userSpaceOnUse" x1="95.9" y1="0" x2="120.0" y2="0"><stop offset="0.0000" stop-color="#00e5f7"/><stop offset="0.4532" stop-color="#00e5f7"/><stop offset="0.5127" stop-color="#0cf5ea"/><stop offset="0.6680" stop-color="#0cf5ea"/><stop offset="0.7053" stop-color="#19ffde"/><stop offset="0.7357" stop-color="#25ffd2"/><stop offset="0.7614" stop-color="#31ffc5"/><stop offset="0.7848" stop-color="#31ffc5"/><stop offset="0.8083" stop-color="#3effb9"/><stop offset="0.8340" stop-color="#4affad"/><stop offset="0.8636" stop-color="#56ffa0"/><stop offset="0.8955" stop-color="#56ffa0"/><stop offset="0.9274" stop-color="#63ff94"/><stop offset="0.9570" stop-color="#6fff88"/><stop offset="0.9819" stop-color="#6fff88"/><stop offset="1.0000" stop-color="#7bff7b"/></linearGradient>
<linearGradient id="g42" gradientUnits="userSpaceOnUse" x1="170.4" y1="0" x2="194.5" y2="0"><stop offset="0.0000" stop-color="#7bff7b"/><stop offset="0.0181" stop-color="#88ff6f"/><stop offset="0.0430" stop-color="#88ff6f"/><stop offset="0.0726" stop-color="#94ff63"/><stop offset="0.1045" stop-color="#a0ff56"/><stop offset="0.1364" stop-color="#a0ff56"/><stop offset="0.1660" stop-color="#adff4a"/><stop offset="0.1917" stop-color="#b9ff3e"/><stop offset="0.2152" stop-color="#c5ff31"/><stop offset="0.2386" stop-color="#c5ff31"/><stop offset="0.2643" stop-color="#d2ff25"/><stop offset="0.2947" stop-color="#deff19"/><stop offset="0.3320" stop-color="#eaff0c"/><stop offset="0.4873" stop-color="#eaff0c"/><stop offset="0.5468" stop-color="#f7f600"/></linearGradient>
<linearGradient id="g43" gradientUnits="userSpaceOnUse" x1="95.8" y1="0" x2="145.2" y2="0"><stop offset="0.0000" stop-color="#deff19"/><stop offset="0.0154" stop-color="#d2ff25"/><stop offset="0.0368" stop-color="#c5ff31"/><stop offset="0.0621" stop-color="#c5ff31"/><stop offset="0.0894" stop-color="#b9ff3e"/><stop offset="0.1166" stop-color="#adff4a"/><stop offset="0.1417" stop-color="#a0ff56"/><stop offset="0.1651" stop-color="#a0ff56"/><stop offset="0.1883" stop-color="#94ff63"/><stop offset="0.2115" stop-color="#94ff63"/><stop offset="0.2347" stop-color="#88ff6f"/><stop offset="0.2580" stop-color="#88ff6f"/><stop offset="0.2814" stop-color="#7bff7b"/><stop offset="0.4231" stop-color="#7bff7b"/><stop offset="0.4405" stop-color="#88ff6f"/><stop offset="0.4553" stop-color="#94ff63"/><stop offset="0.4686" stop-color="#a0ff56"/><stop offset="0.4815" stop-color="#adff4a"/><stop offset="0.4950" stop-color="#adff4a"/><stop offset="0.5101" stop-color="#b9ff3e"/><stop offset="0.8178" stop-color="#b9ff3e"/><stop offset="0.8512" stop-color="#adff4a"/><stop offset="0.8865" stop-color="#adff4a"/><stop offset="0.9213" stop-color="#a0ff56"/><stop offset="0.9534" stop-color="#94ff63"/><stop offset="0.9804" stop-color="#88ff6f"/><stop offset="1.0000" stop-color="#7bff7b"/></linearGradient>
<linearGradient id="g44" gradientUnits="userSpaceOnUse" x1="145.2" y1="0" x2="194.6" y2="0"><stop offset="0.0000" stop-color="#7bff7b"/><stop offset="0.0196" stop-color="#6fff88"/><stop offset="0.0466" stop-color="#63ff94"/><stop offset="0.0787" stop-color="#56ffa0"/><stop offset="0.1135" stop-color="#4affad"/><stop offset="0.1488" stop-color="#4affad"/><stop offset="0.1822" stop-color="#3effb9"/><stop offset="0.4899" stop-color="#3effb9"/><stop offset="0.5050" stop-color="#4affad"/><stop offset="0.5185" stop-color="#4affad"/><stop offset="0.5314" stop-color="#56ffa0"/><stop offset="0.5447" stop-color="#63ff94"/><stop offset="0.5595" stop-color="#6fff88"/><stop offset="0.5769" stop-color="#7bff7b"/><stop offset="0.7186" stop-color="#7bff7b"/><stop offset="0.7420" stop-color="#6fff88"/><stop offset="0.7653" stop-color="#6fff88"/><stop offset="0.7885" stop-color="#63ff94"/><stop offset="0.8117" stop-color="#63ff94"/><stop offset="0.8349" stop-color="#56ffa0"/><stop offset="0.8583" stop-color="#56ffa0"/><stop offset="0.8834" stop-color="#4affad"/><stop offset="0.9106" stop-color="#3effb9"/><stop offset="0.9379" stop-color="#31ffc5"/><stop offset="0.9632" stop-color="#31ffc5"/><stop offset="0.9846" stop-color="#25ffd2"/><stop offset="1.0000" stop-color="#19ffde"/></linearGradient>
<linearGradient id="g45" gradientUnits="userSpaceOnUse" x1="95.8" y1="0" x2="145.2" y2="0"><stop offset="0.0000" stop-color="#d2ff25"/><stop offset="0.0781" stop-color="#d2ff25"/><stop offset="0.1114" stop-color="#deff19"/><stop offset="0.4347" stop-color="#deff19"/><stop offset="0.4551" stop-color="#d2ff25"/><stop offset="0.6761" stop-color="#d2ff25"/><stop offset="0.6976" stop-color="#c5ff31"/><stop offset="0.7197" stop-color="#c5ff31"/><stop offset="0.7427" stop-color="#b9ff3e"/><stop offset="0.7665" stop-color="#adff4a"/><stop offset="0.7915" stop-color="#adff4a"/><stop offset="0.8178" stop-color="#a0ff56"/><stop offset="0.8479" stop-color="#a0ff56"/><stop offset="0.8823" stop-color="#94ff63"/><stop offset="0.9178" stop-color="#94ff63"/><stop offset="0.9513" stop-color="#88ff6f"/><stop offset="0.9797" stop-color="#88ff6f"/><stop offset="1.0000" stop-color="#7bff7b"/></linearGradient>
<linearGradient id="g46" gradientUnits="userSpaceOnUse" x1="145.2" y1="0" x2="194.6" y2="0"><stop offset="0.0000" stop-color="#7bff7b"/><stop offset="0.0203" stop-color="#6fff88"/><stop offset="0.0487" stop-color="#6fff88"/><stop offset="0.0822" stop-color="#63ff94"/><stop offset="0.1177" stop-color="#63ff94"/><stop offset="0.1521" stop-color="#56ffa0"/><stop offset="0.1822" stop-color="#56ffa0"/><stop offset="0.2085" stop-color="#4affad"/><stop offset="0.2335" stop-color="#4affad"/><stop offset="0.2573" stop-color="#3effb9"/><stop offset="0.2803" stop-color="#31ffc5"/><stop offset="0.3024" stop-color="#31ffc5"/><stop offset="0.3239" stop-color="#25ffd2"/><stop offset="0.5449" stop-color="#25ffd2"/><stop offset="0.5653" stop-color="#19ffde"/><stop offset="0.8886" stop-color="#19ffde"/><stop offset="0.9219" stop-color="#25ffd2"/></linearGradient>
<linearGradient id="g47" gradientUnits="userSpaceOnUse" x1="95.8" y1="0" x2="107.0" y2="0"><stop offset="0.0000" stop-color="#00e5f7"/><stop offset="0.0544" stop-color="#0cf5ea"/><stop offset="0.1296" stop-color="#19ffde"/><stop offset="0.2188" stop-color="#25ffd2"/><stop offset="0.3148" stop-color="#31ffc5"/><stop offset="0.4109" stop-color="#4affad"/><stop offset="0.5000" stop-color="#56ffa0"/><stop offset="0.5891" stop-color="#56ffa0"/><stop offset="0.6852" stop-color="#63ff94"/><stop offset="0.7813" stop-color="#63ff94"/><stop offset="0.8704" stop-color="#6fff88"/><stop offset="0.9456" stop-color="#6fff88"/><stop offset="1.0000" stop-color="#7bff7b"/></linearGradient>
<linearGradient id="g48" gradientUnits="userSpaceOnUse" x1="183.4" y1="0" x2="194.6" y2="0"><stop offset="0.0000" stop-color="#7bff7b"/><stop offset="0.0544" stop-color="#88ff6f"/><stop offset="0.1296" stop-color="#88ff6f"/><stop offset="0.2187" stop-color="#94ff63"/><stop offset="0.3148" stop-color="#94ff63"/><stop offset="0.4109" stop-color="#a0ff56"/><stop offset="0.5000" stop-color="#a0ff56"/><stop offset="0.5891" stop-color="#adff4a"/><stop offset="0.6852" stop-color="#c5ff31"/><stop offset="0.7813" stop-color="#d2ff25"/><stop offset="0.8704" stop-color="#deff19"/><stop offset="0.9456" stop-color="#eaff0c"/><stop offset="1.0000" stop-color="#f7f600"/></linearGradient>
<linearGradient id="g51" gradientUnits="userSpaceOnUse" x1="224.6" y1="0" x2="291.9" y2="0"><stop offset="0.0000" stop-color="#7bff7b"/><stop offset="0.5141" stop-color="#7bff7b"/><stop offset="0.5360" stop-color="#6fff88"/><stop offset="0.5578" stop-color="#6fff88"/><stop offset="0.5791" stop-color="#63ff94"/><stop offset="0.5994" stop-color="#63ff94"/><stop offset="0.6180" stop-color="#56ffa0"/><stop offset="0.6345" stop-color="#56ffa0"/><stop offset="0.6485" stop-color="#19ffde"/><stop offset="0.6605" stop-color="#00c7ff"/><stop offset="0.6709" stop-color="#007aff"/><stop offset="0.6801" stop-color="#002eff"/><stop offset="0.6886" stop-color="#0000ff"/><stop offset="0.6969" stop-color="#0000a8"/><stop offset="0.7044" stop-color="#0000dc"/><stop offset="0.7109" stop-color="#0000ff"/><stop offset="0.7166" stop-color="#000fff"/><stop offset="0.7220" stop-color="#002eff"/><stop offset="0.7277" stop-color="#004dff"/><stop offset="0.7340" stop-color="#007aff"/><stop offset="0.7406" stop-color="#008aff"/><stop offset="0.7470" stop-color="#008aff"/><stop offset="0.7535" stop-color="#0099ff"/><stop offset="0.7607" stop-color="#00a8ff"/><stop offset="0.7689" stop-color="#00b8ff"/><stop offset="0.7786" stop-color="#00c7ff"/><stop offset="0.8031" stop-color="#00c7ff"/><stop offset="0.8171" stop-color="#00d6ff"/><stop offset="0.8742" stop-color="#00d6ff"/><stop offset="0.8884" stop-color="#00e5f7"/></linearGradient>
<linearGradient id="g52" gradientUnits="userSpaceOnUse" x1="224.6" y1="0" x2="291.9" y2="0"><stop offset="0.0000" stop-color="#7bff7b"/><stop offset="0.5141" stop-color="#7bff7b"/><stop offset="0.5335" stop-color="#6fff88"/><stop offset="0.5544" stop-color="#6fff88"/><stop offset="0.5759" stop-color="#63ff94"/><stop offset="0.5970" stop-color="#63ff94"/><stop offset="0.6168" stop-color="#56ffa0"/><stop offset="0.6345" stop-color="#56ffa0"/><stop offset="0.6499" stop-color="#19ffde"/><stop offset="0.6639" stop-color="#00c7ff"/><stop offset="0.6766" stop-color="#007aff"/><stop offset="0.6882" stop-color="#002eff"/><stop offset="0.6989" stop-color="#0000ff"/><stop offset="0.7088" stop-color="#0000a8"/><stop offset="0.7172" stop-color="#0000dc"/><stop offset="0.7241" stop-color="#0000ff"/><stop offset="0.7299" stop-color="#002eff"/><stop offset="0.7356" stop-color="#005cff"/><stop offset="0.7416" stop-color="#008aff"/><stop offset="0.7489" stop-color="#00b8ff"/><stop offset="0.7567" stop-color="#00c7ff"/><stop offset="0.7645" stop-color="#00c7ff"/><stop offset="0.7728" stop-color="#00d6ff"/><stop offset="0.7820" stop-color="#00e5f7"/><stop offset="0.7927" stop-color="#0cf5ea"/><stop offset="0.8053" stop-color="#19ffde"/><stop offset="0.9485" stop-color="#19ffde"/><stop offset="0.9645" stop-color="#25ffd2"/></linearGradient>
<linearGradient id="g53" gradientUnits="userSpaceOnUse" x1="224.6" y1="0" x2="291.9" y2="0"><stop offset="0.0000" stop-color="#7bff7b"/><stop offset="0.6345" stop-color="#7bff7b"/><stop offset="0.6504" stop-color="#a0ff56"/><stop offset="0.6638" stop-color="#c5ff31"/><stop offset="0.6752" stop-color="#deff19"/><stop offset="0.6854" stop-color="#ffe700"/><stop offset="0.6949" stop-color="#ffbd00"/><stop offset="0.7043" stop-color="#ff9200"/><stop offset="0.7123" stop-color="#ffa100"/><stop offset="0.7377" stop-color="#ffa100"/><stop offset="0.7504" stop-color="#ffaf00"/><stop offset="0.7682" stop-color="#ffaf00"/><stop offset="0.7901" stop-color="#ffbd00"/><stop offset="0.8145" stop-color="#ffbd00"/><stop offset="0.8399" stop-color="#ffcb00"/><stop offset="0.8646" stop-color="#ffcb00"/><stop offset="0.8871" stop-color="#ffd900"/></linearGradient>
<linearGradient id="g54" gradientUnits="userSpaceOnUse" x1="224.6" y1="0" x2="291.9" y2="0"><stop offset="0.0000" stop-color="#7bff7b"/><stop offset="0.5736" stop-color="#7bff7b"/><stop offset="0.5844" stop-color="#6fff88"/><stop offset="0.5942" stop-color="#63ff94"/><stop offset="0.6035" stop-color="#56ffa0"/><stop offset="0.6128" stop-color="#4affad"/><stop offset="0.6230" stop-color="#4affad"/><stop offset="0.6345" stop-color="#3effb9"/><stop offset="0.6609" stop-color="#3effb9"/><stop offset="0.6752" stop-color="#4affad"/><stop offset="0.7059" stop-color="#4affad"/><stop offset="0.7221" stop-color="#56ffa0"/><stop offset="0.7392" stop-color="#56ffa0"/><stop offset="0.7571" stop-color="#63ff94"/><stop offset="0.7757" stop-color="#63ff94"/><stop offset="0.7946" stop-color="#6fff88"/><stop offset="0.8135" stop-color="#6fff88"/><stop offset="0.8321" stop-color="#7bff7b"/><stop offset="0.8510" stop-color="#88ff6f"/><stop offset="0.8707" stop-color="#88ff6f"/><stop offset="0.8903" stop-color="#94ff63"/><stop offset="0.9093" stop-color="#a0ff56"/><stop offset="0.9267" stop-color="#a0ff56"/><stop offset="0.9421" stop-color="#adff4a"/><stop offset="0.9674" stop-color="#adff4a"/><stop offset="0.9779" stop-color="#b9ff3e"/></linearGradient>
<linearGradient id="g55" gradientUnits="userSpaceOnUse" x1="267.3" y1="0" x2="291.9" y2="0"><stop offset="0.0000" stop-color="#3effb9"/><stop offset="0.0599" stop-color="#3effb9"/><stop offset="0.1011" stop-color="#4affad"/><stop offset="0.1936" stop-color="#4affad"/><stop offset="0.2398" stop-color="#56ffa0"/><stop offset="0.2864" stop-color="#56ffa0"/><stop offset="0.3356" stop-color="#63ff94"/><stop offset="0.3864" stop-color="#63ff94"/><stop offset="0.4381" stop-color="#6fff88"/><stop offset="0.4898" stop-color="#6fff88"/><stop offset="0.5407" stop-color="#7bff7b"/><stop offset="0.5924" stop-color="#88ff6f"/><stop offset="0.6462" stop-color="#88ff6f"/><stop offset="0.6999" stop-color="#94ff63"/><stop offset="0.7517" stop-color="#a0ff56"/><stop offset="0.7996" stop-color="#a0ff56"/><stop offset="0.8415" stop-color="#adff4a"/><stop offset="0.9107" stop-color="#adff4a"/><stop offset="0.9395" stop-color="#b9ff3e"/></linearGradient>
<linearGradient id="g56" gradientUnits="userSpaceOnUse" x1="278.8" y1="0" x2="291.9" y2="0"><stop offset="0.0000" stop-color="#19ffde"/><stop offset="0.1513" stop-color="#19ffde"/><stop offset="0.2552" stop-color="#25ffd2"/></linearGradient>
<linearGradient id="g57" gradientUnits="userSpaceOnUse" x1="225.1" y1="0" x2="291.9" y2="0"><stop offset="0.0000" stop-color="#7bff7b"/><stop offset="0.4746" stop-color="#7bff7b"/><stop offset="0.4902" stop-color="#88ff6f"/><stop offset="0.5062" stop-color="#94ff63"/><stop offset="0.5222" stop-color="#a0ff56"/><stop offset="0.5377" stop-color="#adff4a"/><stop offset="0.5524" stop-color="#adff4a"/><stop offset="0.5659" stop-color="#b9ff3e"/><stop offset="0.5776" stop-color="#c5ff31"/><stop offset="0.5878" stop-color="#d2ff25"/><stop offset="0.5972" stop-color="#deff19"/><stop offset="0.6065" stop-color="#deff19"/><stop offset="0.6162" stop-color="#eaff0c"/><stop offset="0.6272" stop-color="#f7f600"/><stop offset="0.6391" stop-color="#ffe700"/><stop offset="0.6510" stop-color="#ffe700"/><stop offset="0.6635" stop-color="#ffd900"/><stop offset="0.6770" stop-color="#ffd900"/><stop offset="0.6917" stop-color="#ffcb00"/><stop offset="0.7081" stop-color="#ffcb00"/><stop offset="0.7262" stop-color="#ffbd00"/><stop offset="0.7457" stop-color="#ffa100"/><stop offset="0.7665" stop-color="#ff9200"/><stop offset="0.7884" stop-color="#ff8400"/><stop offset="0.8114" stop-color="#ff7600"/><stop offset="0.8353" stop-color="#ff6800"/><stop offset="0.8625" stop-color="#ff5a00"/><stop offset="0.8935" stop-color="#ff4c00"/><stop offset="0.9256" stop-color="#ff3d00"/><stop offset="0.9559" stop-color="#ff2f00"/><stop offset="0.9817" stop-color="#ff1300"/><stop offset="1.0000" stop-color="#ee0500"/></linearGradient>
<linearGradient id="g58" gradientUnits="userSpaceOnUse" x1="267.0" y1="0" x2="291.9" y2="0"><stop offset="0.0000" stop-color="#f7f600"/><stop offset="0.0222" stop-color="#ffe700"/><stop offset="0.0516" stop-color="#ffe700"/><stop offset="0.0871" stop-color="#ffd900"/><stop offset="0.1273" stop-color="#ffd900"/><stop offset="0.1710" stop-color="#ffcb00"/><stop offset="0.2169" stop-color="#ffcb00"/><stop offset="0.2654" stop-color="#ffbd00"/><stop offset="0.3177" stop-color="#ffaf00"/><stop offset="0.3735" stop-color="#ffa100"/><stop offset="0.4324" stop-color="#ff9200"/><stop offset="0.4941" stop-color="#ff8400"/><stop offset="0.5582" stop-color="#ff7600"/><stop offset="0.6312" stop-color="#ff7600"/><stop offset="0.7144" stop-color="#ff6800"/><stop offset="0.8005" stop-color="#ff5a00"/><stop offset="0.8817" stop-color="#ff4c00"/><stop offset="0.9508" stop-color="#ff3d00"/></linearGradient>
<linearGradient id="g59" gradientUnits="userSpaceOnUse" x1="225.1" y1="0" x2="291.8" y2="0"><stop offset="0.0000" stop-color="#7bff7b"/><stop offset="0.5367" stop-color="#7bff7b"/><stop offset="0.5539" stop-color="#88ff6f"/><stop offset="0.5699" stop-color="#88ff6f"/><stop offset="0.5851" stop-color="#94ff63"/><stop offset="0.5996" stop-color="#94ff63"/><stop offset="0.6139" stop-color="#a0ff56"/><stop offset="0.7946" stop-color="#a0ff56"/><stop offset="0.8049" stop-color="#94ff63"/><stop offset="0.8135" stop-color="#88ff6f"/><stop offset="0.8211" stop-color="#7bff7b"/><stop offset="0.8285" stop-color="#6fff88"/><stop offset="0.8364" stop-color="#63ff94"/><stop offset="0.8456" stop-color="#56ffa0"/><stop offset="0.8558" stop-color="#31ffc5"/><stop offset="0.8666" stop-color="#19ffde"/><stop offset="0.8779" stop-color="#00e5f7"/><stop offset="0.8897" stop-color="#00c7ff"/><stop offset="0.9019" stop-color="#00a8ff"/><stop offset="0.9145" stop-color="#007aff"/><stop offset="0.9288" stop-color="#006bff"/><stop offset="0.9450" stop-color="#004dff"/><stop offset="0.9616" stop-color="#003dff"/><stop offset="0.9772" stop-color="#002eff"/><stop offset="0.9905" stop-color="#000fff"/><stop offset="1.0000" stop-color="#0000ff"/></linearGradient>
<linearGradient id="g60" gradientUnits="userSpaceOnUse" x1="225.1" y1="0" x2="291.9" y2="0"><stop offset="0.0000" stop-color="#7bff7b"/><stop offset="0.6272" stop-color="#7bff7b"/><stop offset="0.6482" stop-color="#88ff6f"/><stop offset="0.6738" stop-color="#94ff63"/><stop offset="0.7019" stop-color="#a0ff56"/><stop offset="0.7306" stop-color="#adff4a"/><stop offset="0.7578" stop-color="#adff4a"/><stop offset="0.7814" stop-color="#b9ff3e"/><stop offset="0.8011" stop-color="#c5ff31"/><stop offset="0.8646" stop-color="#c5ff31"/><stop offset="0.8817" stop-color="#d2ff25"/></linearGradient>
<linearGradient id="g61" gradientUnits="userSpaceOnUse" x1="275.0" y1="0" x2="291.9" y2="0"><stop offset="0.0000" stop-color="#b9ff3e"/><stop offset="0.2959" stop-color="#b9ff3e"/><stop offset="0.3439" stop-color="#c5ff31"/><stop offset="0.5359" stop-color="#c5ff31"/><stop offset="0.5917" stop-color="#d2ff25"/></linearGradient>
<linearGradient id="g62" gradientUnits="userSpaceOnUse" x1="225.1" y1="0" x2="291.7" y2="0"><stop offset="0.0000" stop-color="#7bff7b"/><stop offset="0.6291" stop-color="#7bff7b"/><stop offset="0.6462" stop-color="#88ff6f"/><stop offset="0.6658" stop-color="#94ff63"/><stop offset="0.6871" stop-color="#a0ff56"/><stop offset="0.7094" stop-color="#adff4a"/><stop offset="0.7319" stop-color="#adff4a"/><stop offset="0.7538" stop-color="#b9ff3e"/><stop offset="0.7754" stop-color="#c5ff31"/><stop offset="0.7974" stop-color="#deff19"/><stop offset="0.8196" stop-color="#eaff0c"/><stop offset="0.8417" stop-color="#f7f600"/><stop offset="0.8634" stop-color="#ffe700"/><stop offset="0.8844" stop-color="#ffd900"/><stop offset="0.9059" stop-color="#ffcb00"/><stop offset="0.9283" stop-color="#ffbd00"/><stop offset="0.9504" stop-color="#ffbd00"/><stop offset="0.9706" stop-color="#ffaf00"/><stop offset="0.9876" stop-color="#ffa100"/><stop offset="1.0000" stop-color="#ff9200"/></linearGradient>
<linearGradient id="g63" gradientUnits="userSpaceOnUse" x1="225.1" y1="0" x2="291.8" y2="0"><stop offset="0.0000" stop-color="#7bff7b"/><stop offset="0.6252" stop-color="#7bff7b"/><stop offset="0.6524" stop-color="#6fff88"/><stop offset="0.6814" stop-color="#63ff94"/><stop offset="0.7109" stop-color="#56ffa0"/><stop offset="0.7399" stop-color="#4affad"/><stop offset="0.7672" stop-color="#31ffc5"/><stop offset="0.7916" stop-color="#25ffd2"/><stop offset="0.8127" stop-color="#0cf5ea"/><stop offset="0.8312" stop-color="#00d6ff"/><stop offset="0.8480" stop-color="#00b8ff"/><stop offset="0.8640" stop-color="#008aff"/><stop offset="0.8799" stop-color="#006bff"/><stop offset="0.8966" stop-color="#004dff"/><stop offset="0.9151" stop-color="#002eff"/><stop offset="0.9350" stop-color="#001fff"/><stop offset="0.9548" stop-color="#0000ff"/><stop offset="0.9732" stop-color="#0000ee"/><stop offset="0.9888" stop-color="#0000dc"/><stop offset="1.0000" stop-color="#0000b9"/></linearGradient>
<linearGradient id="g64" gradientUnits="userSpaceOnUse" x1="225.1" y1="0" x2="291.8" y2="0"><stop offset="0.0000" stop-color="#7bff7b"/><stop offset="0.4798" stop-color="#7bff7b"/><stop offset="0.5011" stop-color="#6fff88"/><stop offset="0.5247" stop-color="#6fff88"/><stop offset="0.5498" stop-color="#63ff94"/><stop offset="0.5752" stop-color="#63ff94"/><stop offset="0.6002" stop-color="#56ffa0"/><stop offset="0.6237" stop-color="#56ffa0"/><stop offset="0.6455" stop-color="#63ff94"/><stop offset="0.6662" stop-color="#6fff88"/><stop offset="0.6865" stop-color="#7bff7b"/><stop offset="0.7068" stop-color="#88ff6f"/><stop offset="0.7276" stop-color="#94ff63"/><stop offset="0.7496" stop-color="#a0ff56"/><stop offset="0.7734" stop-color="#adff4a"/><stop offset="0.7987" stop-color="#adff4a"/><stop offset="0.8245" stop-color="#b9ff3e"/><stop offset="0.8500" stop-color="#c5ff31"/><stop offset="0.8743" stop-color="#c5ff31"/><stop offset="0.8966" stop-color="#d2ff25"/><stop offset="0.9175" stop-color="#deff19"/><stop offset="0.9381" stop-color="#deff19"/><stop offset="0.9575" stop-color="#eaff0c"/><stop offset="0.9748" stop-color="#f7f600"/><stop offset="0.9892" stop-color="#ffe700"/><stop offset="1.0000" stop-color="#ffd900"/></linearGradient>
<linearGradient id="g65" gradientUnits="userSpaceOnUse" x1="275.1" y1="0" x2="291.8" y2="0"><stop offset="0.0000" stop-color="#7bff7b"/><stop offset="0.0659" stop-color="#56ffa0"/><stop offset="0.1586" stop-color="#25ffd2"/><stop offset="0.2676" stop-color="#00e5f7"/><stop offset="0.3823" stop-color="#00b8ff"/><stop offset="0.4923" stop-color="#007aff"/><stop offset="0.5868" stop-color="#004dff"/><stop offset="0.6705" stop-color="#002eff"/><stop offset="0.7527" stop-color="#001fff"/><stop offset="0.8301" stop-color="#0000ff"/><stop offset="0.8993" stop-color="#0000ee"/><stop offset="0.9571" stop-color="#0000dc"/><stop offset="1.0000" stop-color="#0000b9"/></linearGradient>
<linearGradient id="g66" gradientUnits="userSpaceOnUse" x1="225.2" y1="0" x2="291.8" y2="0"><stop offset="0.0000" stop-color="#7bff7b"/><stop offset="0.7492" stop-color="#7bff7b"/><stop offset="0.7724" stop-color="#88ff6f"/><stop offset="0.7975" stop-color="#88ff6f"/><stop offset="0.8235" stop-color="#94ff63"/><stop offset="0.8493" stop-color="#94ff63"/><stop offset="0.8740" stop-color="#a0ff56"/><stop offset="0.8964" stop-color="#a0ff56"/><stop offset="0.9174" stop-color="#adff4a"/><stop offset="0.9574" stop-color="#adff4a"/><stop offset="0.9748" stop-color="#b9ff3e"/></linearGradient>
<linearGradient id="g67" gradientUnits="userSpaceOnUse" x1="291.9" y1="0" x2="341.2" y2="0"><stop offset="0.0000" stop-color="#25ffd2"/><stop offset="0.0207" stop-color="#31ffc5"/><stop offset="0.0497" stop-color="#31ffc5"/><stop offset="0.0838" stop-color="#3effb9"/><stop offset="0.1201" stop-color="#4affad"/><stop offset="0.1553" stop-color="#4affad"/><stop offset="0.1866" stop-color="#56ffa0"/><stop offset="0.2140" stop-color="#56ffa0"/><stop offset="0.2400" stop-color="#63ff94"/><stop offset="0.2650" stop-color="#63ff94"/><stop offset="0.2895" stop-color="#6fff88"/><stop offset="0.3139" stop-color="#6fff88"/><stop offset="0.3387" stop-color="#7bff7b"/></linearGradient>
<linearGradient id="g68" gradientUnits="userSpaceOnUse" x1="341.2" y1="0" x2="390.5" y2="0"><stop offset="0.0000" stop-color="#7bff7b"/><stop offset="0.6613" stop-color="#7bff7b"/><stop offset="0.6861" stop-color="#88ff6f"/><stop offset="0.7105" stop-color="#88ff6f"/><stop offset="0.7350" stop-color="#94ff63"/><stop offset="0.7600" stop-color="#94ff63"/><stop offset="0.7860" stop-color="#a0ff56"/><stop offset="0.8134" stop-color="#a0ff56"/><stop offset="0.8447" stop-color="#adff4a"/><stop offset="0.8799" stop-color="#adff4a"/><stop offset="0.9162" stop-color="#b9ff3e"/><stop offset="0.9503" stop-color="#c5ff31"/><stop offset="0.9793" stop-color="#c5ff31"/><stop offset="1.0000" stop-color="#d2ff25"/></linearGradient>
<linearGradient id="g69" gradientUnits="userSpaceOnUse" x1="291.9" y1="0" x2="341.2" y2="0"><stop offset="0.0000" stop-color="#b9ff3e"/><stop offset="0.0121" stop-color="#c5ff31"/><stop offset="0.0916" stop-color="#c5ff31"/><stop offset="0.1116" stop-color="#d2ff25"/><stop offset="0.1682" stop-color="#d2ff25"/><stop offset="0.1872" stop-color="#deff19"/><stop offset="0.2437" stop-color="#deff19"/><stop offset="0.2617" stop-color="#eaff0c"/><stop offset="0.2982" stop-color="#eaff0c"/><stop offset="0.3177" stop-color="#f7f600"/><stop offset="0.3616" stop-color="#f7f600"/><stop offset="0.3861" stop-color="#eaff0c"/><stop offset="0.4375" stop-color="#eaff0c"/><stop offset="0.4634" stop-color="#deff19"/><stop offset="0.4888" stop-color="#deff19"/><stop offset="0.5139" stop-color="#d2ff25"/><stop offset="0.5389" stop-color="#d2ff25"/><stop offset="0.5639" stop-color="#c5ff31"/><stop offset="0.5889" stop-color="#b9ff3e"/><stop offset="0.6139" stop-color="#b9ff3e"/><stop offset="0.6389" stop-color="#adff4a"/><stop offset="0.6644" stop-color="#a0ff56"/><stop offset="0.6903" stop-color="#a0ff56"/><stop offset="0.7162" stop-color="#94ff63"/><stop offset="0.7416" stop-color="#88ff6f"/><stop offset="0.7660" stop-color="#88ff6f"/><stop offset="0.7890" stop-color="#7bff7b"/></linearGradient>
<linearGradient id="g70" gradientUnits="userSpaceOnUse" x1="341.2" y1="0" x2="390.5" y2="0"><stop offset="0.0000" stop-color="#7bff7b"/><stop offset="0.2110" stop-color="#7bff7b"/><stop offset="0.2340" stop-color="#6fff88"/><stop offset="0.2584" stop-color="#6fff88"/><stop offset="0.2838" stop-color="#63ff94"/><stop offset="0.3097" stop-color="#56ffa0"/><stop offset="0.3356" stop-color="#56ffa0"/><stop offset="0.3611" stop-color="#4affad"/><stop offset="0.3861" stop-color="#3effb9"/><stop offset="0.4111" stop-color="#3effb9"/><stop offset="0.4361" stop-color="#31ffc5"/><stop offset="0.4611" stop-color="#25ffd2"/><stop offset="0.4861" stop-color="#25ffd2"/><stop offset="0.5112" stop-color="#19ffde"/><stop offset="0.5366" stop-color="#19ffde"/><stop offset="0.5625" stop-color="#0cf5ea"/><stop offset="0.6139" stop-color="#0cf5ea"/><stop offset="0.6384" stop-color="#00e5f7"/><stop offset="0.6823" stop-color="#00e5f7"/><stop offset="0.7018" stop-color="#0cf5ea"/><stop offset="0.7383" stop-color="#0cf5ea"/><stop offset="0.7563" stop-color="#19ffde"/><stop offset="0.8128" stop-color="#19ffde"/><stop offset="0.8318" stop-color="#25ffd2"/><stop offset="0.8884" stop-color="#25ffd2"/><stop offset="0.9084" stop-color="#31ffc5"/><stop offset="0.9879" stop-color="#31ffc5"/><stop offset="1.0000" stop-color="#3effb9"/></linearGradient>
<linearGradient id="g71" gradientUnits="userSpaceOnUse" x1="291.9" y1="0" x2="341.2" y2="0"><stop offset="0.0000" stop-color="#00e5f7"/><stop offset="0.0207" stop-color="#00e5f7"/><stop offset="0.0497" stop-color="#0cf5ea"/><stop offset="0.1201" stop-color="#0cf5ea"/><stop offset="0.1553" stop-color="#19ffde"/><stop offset="0.1866" stop-color="#19ffde"/><stop offset="0.2136" stop-color="#31ffc5"/><stop offset="0.2386" stop-color="#3effb9"/><stop offset="0.2627" stop-color="#56ffa0"/><stop offset="0.2868" stop-color="#6fff88"/><stop offset="0.3118" stop-color="#7bff7b"/><stop offset="0.3387" stop-color="#94ff63"/><stop offset="0.3687" stop-color="#a0ff56"/><stop offset="0.4011" stop-color="#b9ff3e"/><stop offset="0.4345" stop-color="#c5ff31"/><stop offset="0.4673" stop-color="#deff19"/><stop offset="0.4981" stop-color="#eaff0c"/><stop offset="0.5254" stop-color="#ffe700"/><stop offset="0.5481" stop-color="#ffd900"/><stop offset="0.5673" stop-color="#ffcb00"/><stop offset="0.5844" stop-color="#ffbd00"/><stop offset="0.6011" stop-color="#ffaf00"/><stop offset="0.6187" stop-color="#ffa100"/><stop offset="0.6389" stop-color="#ff9200"/><stop offset="0.6622" stop-color="#ff8400"/><stop offset="0.6876" stop-color="#ff7600"/><stop offset="0.7139" stop-color="#ff6800"/><stop offset="0.7402" stop-color="#ff6800"/><stop offset="0.7656" stop-color="#ff5a00"/><stop offset="0.7890" stop-color="#ff4c00"/><stop offset="0.8105" stop-color="#ff4c00"/><stop offset="0.8309" stop-color="#ff3d00"/><stop offset="0.8503" stop-color="#ff3d00"/><stop offset="0.8689" stop-color="#ff2f00"/><stop offset="0.8870" stop-color="#ff2f00"/><stop offset="0.9047" stop-color="#ff2100"/><stop offset="0.9596" stop-color="#ff2100"/><stop offset="0.9760" stop-color="#ff1300"/></linearGradient>
<linearGradient id="g72" gradientUnits="userSpaceOnUse" x1="341.2" y1="0" x2="390.5" y2="0"><stop offset="0.0000" stop-color="#0000ff"/><stop offset="0.0953" stop-color="#0000ff"/><stop offset="0.1130" stop-color="#000fff"/><stop offset="0.1311" stop-color="#000fff"/><stop offset="0.1497" stop-color="#001fff"/><stop offset="0.1691" stop-color="#001fff"/><stop offset="0.1895" stop-color="#002eff"/><stop offset="0.2110" stop-color="#002eff"/><stop offset="0.2344" stop-color="#003dff"/><stop offset="0.2598" stop-color="#004dff"/><stop offset="0.2861" stop-color="#004dff"/><stop offset="0.3124" stop-color="#005cff"/><stop offset="0.3378" stop-color="#006bff"/><stop offset="0.3611" stop-color="#007aff"/><stop offset="0.3813" stop-color="#008aff"/><stop offset="0.3989" stop-color="#0099ff"/><stop offset="0.4156" stop-color="#00a8ff"/><stop offset="0.4327" stop-color="#00b8ff"/><stop offset="0.4519" stop-color="#00c7ff"/><stop offset="0.4746" stop-color="#00d6ff"/><stop offset="0.5019" stop-color="#0cf5ea"/><stop offset="0.5327" stop-color="#19ffde"/><stop offset="0.5655" stop-color="#31ffc5"/><stop offset="0.5989" stop-color="#3effb9"/><stop offset="0.6313" stop-color="#56ffa0"/><stop offset="0.6613" stop-color="#63ff94"/><stop offset="0.6882" stop-color="#7bff7b"/><stop offset="0.7132" stop-color="#88ff6f"/><stop offset="0.7373" stop-color="#a0ff56"/><stop offset="0.7614" stop-color="#b9ff3e"/><stop offset="0.7864" stop-color="#c5ff31"/><stop offset="0.8134" stop-color="#deff19"/><stop offset="0.8447" stop-color="#deff19"/><stop offset="0.8799" stop-color="#eaff0c"/><stop offset="0.9503" stop-color="#eaff0c"/><stop offset="0.9793" stop-color="#f7f600"/></linearGradient>
<linearGradient id="g73" gradientUnits="userSpaceOnUse" x1="291.9" y1="0" x2="341.2" y2="0"><stop offset="0.0000" stop-color="#ffd900"/><stop offset="0.1501" stop-color="#ffd900"/><stop offset="0.1709" stop-color="#ffe700"/><stop offset="0.1901" stop-color="#f7f600"/><stop offset="0.2082" stop-color="#eaff0c"/><stop offset="0.2258" stop-color="#deff19"/><stop offset="0.2434" stop-color="#deff19"/><stop offset="0.2617" stop-color="#d2ff25"/><stop offset="0.2805" stop-color="#c5ff31"/><stop offset="0.2994" stop-color="#c5ff31"/><stop offset="0.3183" stop-color="#b9ff3e"/><stop offset="0.3373" stop-color="#adff4a"/><stop offset="0.3563" stop-color="#adff4a"/><stop offset="0.3753" stop-color="#a0ff56"/><stop offset="0.3938" stop-color="#a0ff56"/><stop offset="0.4118" stop-color="#94ff63"/><stop offset="0.4298" stop-color="#94ff63"/><stop offset="0.4483" stop-color="#88ff6f"/><stop offset="0.4678" stop-color="#88ff6f"/><stop offset="0.4888" stop-color="#7bff7b"/><stop offset="0.5117" stop-color="#94ff63"/><stop offset="0.5362" stop-color="#a0ff56"/><stop offset="0.5616" stop-color="#b9ff3e"/><stop offset="0.5876" stop-color="#d2ff25"/><stop offset="0.6135" stop-color="#deff19"/><stop offset="0.6389" stop-color="#f7f600"/><stop offset="0.6644" stop-color="#ffe700"/><stop offset="0.6903" stop-color="#ffe700"/><stop offset="0.7162" stop-color="#ffd900"/><stop offset="0.7416" stop-color="#ffd900"/><stop offset="0.7660" stop-color="#ffcb00"/><stop offset="0.7890" stop-color="#ffcb00"/><stop offset="0.8105" stop-color="#ffd900"/><stop offset="0.8309" stop-color="#ffe700"/><stop offset="0.8503" stop-color="#f7f600"/><stop offset="0.8689" stop-color="#eaff0c"/><stop offset="0.8870" stop-color="#deff19"/><stop offset="0.9047" stop-color="#d2ff25"/></linearGradient>
<linearGradient id="g74" gradientUnits="userSpaceOnUse" x1="341.2" y1="0" x2="390.5" y2="0"><stop offset="0.0000" stop-color="#25ffd2"/><stop offset="0.0953" stop-color="#25ffd2"/><stop offset="0.1130" stop-color="#19ffde"/><stop offset="0.1311" stop-color="#0cf5ea"/><stop offset="0.1497" stop-color="#00e5f7"/><stop offset="0.1691" stop-color="#00d6ff"/><stop offset="0.1895" stop-color="#00c7ff"/><stop offset="0.2110" stop-color="#00b8ff"/><stop offset="0.2340" stop-color="#00b8ff"/><stop offset="0.2584" stop-color="#00c7ff"/><stop offset="0.2838" stop-color="#00c7ff"/><stop offset="0.3097" stop-color="#00d6ff"/><stop offset="0.3356" stop-color="#00d6ff"/><stop offset="0.3611" stop-color="#00e5f7"/><stop offset="0.3865" stop-color="#19ffde"/><stop offset="0.4124" stop-color="#25ffd2"/><stop offset="0.4384" stop-color="#3effb9"/><stop offset="0.4638" stop-color="#56ffa0"/><stop offset="0.4883" stop-color="#63ff94"/><stop offset="0.5112" stop-color="#7bff7b"/><stop offset="0.5322" stop-color="#6fff88"/><stop offset="0.5517" stop-color="#6fff88"/><stop offset="0.5702" stop-color="#63ff94"/><stop offset="0.5882" stop-color="#63ff94"/><stop offset="0.6062" stop-color="#56ffa0"/><stop offset="0.6247" stop-color="#56ffa0"/><stop offset="0.6437" stop-color="#4affad"/><stop offset="0.6627" stop-color="#4affad"/><stop offset="0.6817" stop-color="#3effb9"/><stop offset="0.7006" stop-color="#31ffc5"/><stop offset="0.7195" stop-color="#31ffc5"/><stop offset="0.7383" stop-color="#25ffd2"/><stop offset="0.7566" stop-color="#19ffde"/><stop offset="0.7742" stop-color="#19ffde"/><stop offset="0.7918" stop-color="#0cf5ea"/><stop offset="0.8099" stop-color="#00e5f7"/><stop offset="0.8291" stop-color="#00d6ff"/><stop offset="0.8499" stop-color="#00c7ff"/></linearGradient>
<linearGradient id="g75" gradientUnits="userSpaceOnUse" x1="291.9" y1="0" x2="308.6" y2="0"><stop offset="0.0000" stop-color="#b9ff3e"/><stop offset="0.0358" stop-color="#c5ff31"/><stop offset="0.2703" stop-color="#c5ff31"/><stop offset="0.3293" stop-color="#d2ff25"/><stop offset="0.4966" stop-color="#d2ff25"/><stop offset="0.5527" stop-color="#deff19"/><stop offset="0.7244" stop-color="#deff19"/><stop offset="0.7889" stop-color="#eaff0c"/><stop offset="0.9131" stop-color="#eaff0c"/><stop offset="0.9635" stop-color="#f7f600"/></linearGradient>
<linearGradient id="g76" gradientUnits="userSpaceOnUse" x1="373.8" y1="0" x2="390.5" y2="0"><stop offset="0.0000" stop-color="#00e5f7"/><stop offset="0.0365" stop-color="#00e5f7"/><stop offset="0.0869" stop-color="#0cf5ea"/><stop offset="0.2111" stop-color="#0cf5ea"/><stop offset="0.2756" stop-color="#19ffde"/><stop offset="0.4473" stop-color="#19ffde"/><stop offset="0.5034" stop-color="#25ffd2"/><stop offset="0.6707" stop-color="#25ffd2"/><stop offset="0.7297" stop-color="#31ffc5"/><stop offset="0.9642" stop-color="#31ffc5"/><stop offset="1.0000" stop-color="#3effb9"/></linearGradient>
<linearGradient id="g77" gradientUnits="userSpaceOnUse" x1="291.9" y1="0" x2="308.6" y2="0"><stop offset="0.0000" stop-color="#25ffd2"/><stop offset="0.0611" stop-color="#31ffc5"/><stop offset="0.1466" stop-color="#31ffc5"/><stop offset="0.2474" stop-color="#3effb9"/><stop offset="0.3544" stop-color="#4affad"/><stop offset="0.4586" stop-color="#4affad"/><stop offset="0.5509" stop-color="#56ffa0"/><stop offset="0.6368" stop-color="#56ffa0"/><stop offset="0.7248" stop-color="#63ff94"/><stop offset="0.8099" stop-color="#63ff94"/><stop offset="0.8873" stop-color="#6fff88"/><stop offset="0.9523" stop-color="#6fff88"/><stop offset="1.0000" stop-color="#7bff7b"/></linearGradient>
<linearGradient id="g78" gradientUnits="userSpaceOnUse" x1="373.8" y1="0" x2="390.5" y2="0"><stop offset="0.0000" stop-color="#7bff7b"/><stop offset="0.0477" stop-color="#88ff6f"/><stop offset="0.1127" stop-color="#88ff6f"/><stop offset="0.1901" stop-color="#94ff63"/><stop offset="0.2752" stop-color="#94ff63"/><stop offset="0.3632" stop-color="#a0ff56"/><stop offset="0.4491" stop-color="#a0ff56"/><stop offset="0.5414" stop-color="#adff4a"/><stop offset="0.6456" stop-color="#adff4a"/><stop offset="0.7526" stop-color="#b9ff3e"/><stop offset="0.8534" stop-color="#c5ff31"/><stop offset="0.9389" stop-color="#c5ff31"/><stop offset="1.0000" stop-color="#d2ff25"/></linearGradient>
<linearGradient id="g79" gradientUnits="userSpaceOnUse" x1="291.9" y1="0" x2="341.2" y2="0"><stop offset="0.0000" stop-color="#ee0500"/><stop offset="0.0193" stop-color="#ff1300"/><stop offset="0.0460" stop-color="#ff1300"/><stop offset="0.0776" stop-color="#ff2100"/><stop offset="0.1116" stop-color="#ff2f00"/><stop offset="0.1454" stop-color="#ff2f00"/><stop offset="0.1765" stop-color="#ff3d00"/><stop offset="0.2055" stop-color="#ff3d00"/><stop offset="0.2348" stop-color="#ff4c00"/><stop offset="0.2638" stop-color="#ff4c00"/><stop offset="0.2924" stop-color="#ff5a00"/><stop offset="0.3202" stop-color="#ff5a00"/><stop offset="0.3469" stop-color="#ff6800"/><stop offset="0.3718" stop-color="#ff8400"/><stop offset="0.3952" stop-color="#ffa100"/><stop offset="0.4177" stop-color="#ffcb00"/><stop offset="0.4403" stop-color="#ffe700"/><stop offset="0.4637" stop-color="#eaff0c"/><stop offset="0.4888" stop-color="#d2ff25"/><stop offset="0.5155" stop-color="#c5ff31"/><stop offset="0.5431" stop-color="#adff4a"/><stop offset="0.5715" stop-color="#a0ff56"/><stop offset="0.6007" stop-color="#94ff63"/><stop offset="0.6306" stop-color="#88ff6f"/><stop offset="0.6613" stop-color="#7bff7b"/></linearGradient>
<linearGradient id="g80" gradientUnits="userSpaceOnUse" x1="341.2" y1="0" x2="390.5" y2="0"><stop offset="0.0000" stop-color="#7bff7b"/><stop offset="0.3387" stop-color="#7bff7b"/><stop offset="0.3694" stop-color="#6fff88"/><stop offset="0.3993" stop-color="#63ff94"/><stop offset="0.4285" stop-color="#56ffa0"/><stop offset="0.4569" stop-color="#4affad"/><stop offset="0.4845" stop-color="#31ffc5"/><stop offset="0.5112" stop-color="#25ffd2"/><stop offset="0.5363" stop-color="#0cf5ea"/><stop offset="0.5597" stop-color="#00d6ff"/><stop offset="0.5823" stop-color="#00b8ff"/><stop offset="0.6048" stop-color="#008aff"/><stop offset="0.6282" stop-color="#006bff"/><stop offset="0.6531" stop-color="#004dff"/><stop offset="0.6798" stop-color="#003dff"/><stop offset="0.7076" stop-color="#003dff"/><stop offset="0.7362" stop-color="#002eff"/><stop offset="0.7652" stop-color="#002eff"/><stop offset="0.7945" stop-color="#001fff"/><stop offset="0.8235" stop-color="#001fff"/><stop offset="0.8546" stop-color="#000fff"/><stop offset="0.8884" stop-color="#000fff"/><stop offset="0.9224" stop-color="#0000ff"/><stop offset="0.9807" stop-color="#0000ff"/><stop offset="1.0000" stop-color="#0000ee"/></linearGradient>
<linearGradient id="g81" gradientUnits="userSpaceOnUse" x1="291.9" y1="0" x2="341.2" y2="0"><stop offset="0.0000" stop-color="#ff3d00"/><stop offset="0.0460" stop-color="#ff3d00"/><stop offset="0.0776" stop-color="#ff4c00"/><stop offset="0.1454" stop-color="#ff4c00"/><stop offset="0.1765" stop-color="#ff5a00"/><stop offset="0.2055" stop-color="#ff5a00"/><stop offset="0.2348" stop-color="#ff6800"/><stop offset="0.2638" stop-color="#ff7600"/><stop offset="0.2924" stop-color="#ff7600"/><stop offset="0.3202" stop-color="#ff8400"/><stop offset="0.3469" stop-color="#ff9200"/><stop offset="0.3718" stop-color="#ffa100"/><stop offset="0.3952" stop-color="#ffbd00"/><stop offset="0.4177" stop-color="#ffd900"/><stop offset="0.4403" stop-color="#f7f600"/><stop offset="0.4637" stop-color="#deff19"/><stop offset="0.4888" stop-color="#d2ff25"/><stop offset="0.5155" stop-color="#c5ff31"/><stop offset="0.5431" stop-color="#adff4a"/><stop offset="0.5715" stop-color="#a0ff56"/><stop offset="0.6007" stop-color="#94ff63"/><stop offset="0.6306" stop-color="#88ff6f"/><stop offset="0.6613" stop-color="#7bff7b"/></linearGradient>
<linearGradient id="g82" gradientUnits="userSpaceOnUse" x1="341.2" y1="0" x2="390.5" y2="0"><stop offset="0.0000" stop-color="#7bff7b"/><stop offset="0.3387" stop-color="#7bff7b"/><stop offset="0.3694" stop-color="#6fff88"/><stop offset="0.3993" stop-color="#63ff94"/><stop offset="0.4285" stop-color="#56ffa0"/><stop offset="0.4569" stop-color="#4affad"/><stop offset="0.4845" stop-color="#31ffc5"/><stop offset="0.5112" stop-color="#25ffd2"/><stop offset="0.5363" stop-color="#19ffde"/><stop offset="0.5597" stop-color="#00e5f7"/><stop offset="0.5823" stop-color="#00c7ff"/><stop offset="0.6048" stop-color="#00a8ff"/><stop offset="0.6282" stop-color="#008aff"/><stop offset="0.6531" stop-color="#007aff"/><stop offset="0.6798" stop-color="#006bff"/><stop offset="0.7076" stop-color="#005cff"/><stop offset="0.7362" stop-color="#005cff"/><stop offset="0.7652" stop-color="#004dff"/><stop offset="0.7945" stop-color="#003dff"/><stop offset="0.8235" stop-color="#003dff"/><stop offset="0.8546" stop-color="#002eff"/><stop offset="0.9224" stop-color="#002eff"/><stop offset="0.9540" stop-color="#001fff"/></linearGradient>
<linearGradient id="g83" gradientUnits="userSpaceOnUse" x1="291.7" y1="0" x2="341.2" y2="0"><stop offset="0.0000" stop-color="#ff9200"/><stop offset="0.0197" stop-color="#ffa100"/><stop offset="0.0470" stop-color="#ffbd00"/><stop offset="0.0793" stop-color="#ffcb00"/><stop offset="0.1140" stop-color="#ffd900"/><stop offset="0.1483" stop-color="#ffe700"/><stop offset="0.1798" stop-color="#f7f600"/><stop offset="0.2087" stop-color="#eaff0c"/><stop offset="0.2371" stop-color="#deff19"/><stop offset="0.2653" stop-color="#d2ff25"/><stop offset="0.2933" stop-color="#c5ff31"/><stop offset="0.3213" stop-color="#adff4a"/><stop offset="0.3495" stop-color="#a0ff56"/><stop offset="0.3781" stop-color="#a0ff56"/><stop offset="0.4070" stop-color="#94ff63"/><stop offset="0.4360" stop-color="#94ff63"/><stop offset="0.4646" stop-color="#88ff6f"/><stop offset="0.4924" stop-color="#88ff6f"/><stop offset="0.5192" stop-color="#7bff7b"/><stop offset="0.6626" stop-color="#7bff7b"/><stop offset="0.6931" stop-color="#6fff88"/><stop offset="0.7267" stop-color="#63ff94"/><stop offset="0.7619" stop-color="#56ffa0"/><stop offset="0.7969" stop-color="#4affad"/><stop offset="0.8304" stop-color="#31ffc5"/><stop offset="0.8606" stop-color="#25ffd2"/><stop offset="0.8888" stop-color="#19ffde"/><stop offset="0.9166" stop-color="#0cf5ea"/><stop offset="0.9427" stop-color="#00e5f7"/><stop offset="0.9660" stop-color="#00d6ff"/><stop offset="0.9855" stop-color="#00c7ff"/><stop offset="1.0000" stop-color="#00b8ff"/></linearGradient>
<linearGradient id="g84" gradientUnits="userSpaceOnUse" x1="341.2" y1="0" x2="390.7" y2="0"><stop offset="0.0000" stop-color="#ffcb00"/><stop offset="0.0145" stop-color="#ffd900"/><stop offset="0.0340" stop-color="#ffe700"/><stop offset="0.0573" stop-color="#f7f600"/><stop offset="0.0834" stop-color="#eaff0c"/><stop offset="0.1112" stop-color="#deff19"/><stop offset="0.1394" stop-color="#d2ff25"/><stop offset="0.1696" stop-color="#c5ff31"/><stop offset="0.2031" stop-color="#adff4a"/><stop offset="0.2381" stop-color="#a0ff56"/><stop offset="0.2733" stop-color="#94ff63"/><stop offset="0.3069" stop-color="#88ff6f"/><stop offset="0.3374" stop-color="#7bff7b"/><stop offset="0.4808" stop-color="#7bff7b"/><stop offset="0.5076" stop-color="#6fff88"/><stop offset="0.5354" stop-color="#6fff88"/><stop offset="0.5640" stop-color="#63ff94"/><stop offset="0.5930" stop-color="#63ff94"/><stop offset="0.6219" stop-color="#56ffa0"/><stop offset="0.6505" stop-color="#56ffa0"/><stop offset="0.6787" stop-color="#4affad"/><stop offset="0.7067" stop-color="#31ffc5"/><stop offset="0.7347" stop-color="#25ffd2"/><stop offset="0.7629" stop-color="#19ffde"/><stop offset="0.7913" stop-color="#0cf5ea"/><stop offset="0.8202" stop-color="#00e5f7"/><stop offset="0.8517" stop-color="#00d6ff"/><stop offset="0.8860" stop-color="#00c7ff"/><stop offset="0.9207" stop-color="#00b8ff"/><stop offset="0.9530" stop-color="#00a8ff"/><stop offset="0.9803" stop-color="#008aff"/><stop offset="1.0000" stop-color="#007aff"/></linearGradient>
<linearGradient id="g85" gradientUnits="userSpaceOnUse" x1="291.7" y1="0" x2="341.2" y2="0"><stop offset="0.0000" stop-color="#ff9200"/><stop offset="0.0197" stop-color="#ffa100"/><stop offset="0.0470" stop-color="#ffbd00"/><stop offset="0.0793" stop-color="#ffcb00"/><stop offset="0.1140" stop-color="#ffd900"/><stop offset="0.1483" stop-color="#ffe700"/><stop offset="0.1798" stop-color="#f7f600"/><stop offset="0.2087" stop-color="#eaff0c"/><stop offset="0.2371" stop-color="#deff19"/><stop offset="0.2653" stop-color="#d2ff25"/><stop offset="0.2933" stop-color="#c5ff31"/><stop offset="0.3213" stop-color="#adff4a"/><stop offset="0.3495" stop-color="#a0ff56"/><stop offset="0.3781" stop-color="#a0ff56"/><stop offset="0.4070" stop-color="#94ff63"/><stop offset="0.4360" stop-color="#94ff63"/><stop offset="0.4646" stop-color="#88ff6f"/><stop offset="0.4924" stop-color="#88ff6f"/><stop offset="0.5192" stop-color="#7bff7b"/><stop offset="0.6626" stop-color="#7bff7b"/><stop offset="0.6931" stop-color="#6fff88"/><stop offset="0.7267" stop-color="#63ff94"/><stop offset="0.7619" stop-color="#56ffa0"/><stop offset="0.7969" stop-color="#4affad"/><stop offset="0.8304" stop-color="#31ffc5"/><stop offset="0.8606" stop-color="#25ffd2"/><stop offset="0.8888" stop-color="#63ff94"/><stop offset="0.9166" stop-color="#94ff63"/><stop offset="0.9427" stop-color="#d2ff25"/><stop offset="0.9660" stop-color="#ffe700"/><stop offset="0.9855" stop-color="#ffa100"/><stop offset="1.0000" stop-color="#ff6800"/></linearGradient>
<linearGradient id="g86" gradientUnits="userSpaceOnUse" x1="341.2" y1="0" x2="390.7" y2="0"><stop offset="0.0000" stop-color="#004dff"/><stop offset="0.0145" stop-color="#008aff"/><stop offset="0.0340" stop-color="#00d6ff"/><stop offset="0.0573" stop-color="#25ffd2"/><stop offset="0.0834" stop-color="#63ff94"/><stop offset="0.1112" stop-color="#94ff63"/><stop offset="0.1394" stop-color="#d2ff25"/><stop offset="0.1696" stop-color="#c5ff31"/><stop offset="0.2031" stop-color="#adff4a"/><stop offset="0.2381" stop-color="#a0ff56"/><stop offset="0.2733" stop-color="#94ff63"/><stop offset="0.3069" stop-color="#88ff6f"/><stop offset="0.3374" stop-color="#7bff7b"/><stop offset="0.4808" stop-color="#7bff7b"/><stop offset="0.5076" stop-color="#6fff88"/><stop offset="0.5354" stop-color="#6fff88"/><stop offset="0.5640" stop-color="#63ff94"/><stop offset="0.5930" stop-color="#63ff94"/><stop offset="0.6219" stop-color="#56ffa0"/><stop offset="0.6505" stop-color="#56ffa0"/><stop offset="0.6787" stop-color="#4affad"/><stop offset="0.7067" stop-color="#31ffc5"/><stop offset="0.7347" stop-color="#25ffd2"/><stop offset="0.7629" stop-color="#19ffde"/><stop offset="0.7913" stop-color="#0cf5ea"/><stop offset="0.8202" stop-color="#00e5f7"/><stop offset="0.8517" stop-color="#00d6ff"/><stop offset="0.8860" stop-color="#00c7ff"/><stop offset="0.9207" stop-color="#00b8ff"/><stop offset="0.9530" stop-color="#00a8ff"/><stop offset="0.9803" stop-color="#008aff"/><stop offset="1.0000" stop-color="#007aff"/></linearGradient>
<linearGradient id="g87" gradientUnits="userSpaceOnUse" x1="291.8" y1="0" x2="341.2" y2="0"><stop offset="0.0000" stop-color="#0000ff"/><stop offset="0.0197" stop-color="#000fff"/><stop offset="0.0478" stop-color="#000fff"/><stop offset="0.0806" stop-color="#001fff"/><stop offset="0.1146" stop-color="#002eff"/><stop offset="0.1463" stop-color="#003dff"/><stop offset="0.1721" stop-color="#004dff"/><stop offset="0.1910" stop-color="#005cff"/><stop offset="0.2057" stop-color="#006bff"/><stop offset="0.2181" stop-color="#007aff"/><stop offset="0.2299" stop-color="#008aff"/><stop offset="0.2430" stop-color="#008aff"/><stop offset="0.2591" stop-color="#0099ff"/><stop offset="0.2780" stop-color="#00a8ff"/><stop offset="0.2982" stop-color="#00b8ff"/><stop offset="0.3197" stop-color="#00c7ff"/><stop offset="0.3423" stop-color="#00c7ff"/><stop offset="0.3660" stop-color="#00d6ff"/><stop offset="0.3907" stop-color="#00e5f7"/><stop offset="0.4177" stop-color="#0cf5ea"/><stop offset="0.4474" stop-color="#0cf5ea"/><stop offset="0.4782" stop-color="#19ffde"/><stop offset="0.5085" stop-color="#19ffde"/><stop offset="0.5365" stop-color="#25ffd2"/><stop offset="0.5607" stop-color="#25ffd2"/><stop offset="0.5806" stop-color="#31ffc5"/><stop offset="0.5973" stop-color="#4affad"/><stop offset="0.6118" stop-color="#56ffa0"/><stop offset="0.6251" stop-color="#63ff94"/><stop offset="0.6381" stop-color="#6fff88"/><stop offset="0.6518" stop-color="#7bff7b"/><stop offset="0.7328" stop-color="#7bff7b"/><stop offset="0.7696" stop-color="#88ff6f"/><stop offset="0.8180" stop-color="#88ff6f"/><stop offset="0.8715" stop-color="#94ff63"/><stop offset="0.9238" stop-color="#94ff63"/><stop offset="0.9688" stop-color="#a0ff56"/></linearGradient>
<linearGradient id="g88" gradientUnits="userSpaceOnUse" x1="341.2" y1="0" x2="390.6" y2="0"><stop offset="0.0000" stop-color="#56ffa0"/><stop offset="0.0312" stop-color="#63ff94"/><stop offset="0.0762" stop-color="#6fff88"/><stop offset="0.1285" stop-color="#7bff7b"/><stop offset="0.1820" stop-color="#88ff6f"/><stop offset="0.2304" stop-color="#94ff63"/><stop offset="0.2672" stop-color="#a0ff56"/><stop offset="0.2914" stop-color="#adff4a"/><stop offset="0.3076" stop-color="#b9ff3e"/><stop offset="0.3187" stop-color="#c5ff31"/><stop offset="0.3273" stop-color="#c5ff31"/><stop offset="0.3363" stop-color="#d2ff25"/><stop offset="0.3482" stop-color="#deff19"/><stop offset="0.3619" stop-color="#deff19"/><stop offset="0.3749" stop-color="#eaff0c"/><stop offset="0.4027" stop-color="#eaff0c"/><stop offset="0.4194" stop-color="#f7f600"/><stop offset="0.4393" stop-color="#f7f600"/><stop offset="0.4635" stop-color="#ffe700"/><stop offset="0.4915" stop-color="#ffd900"/><stop offset="0.5218" stop-color="#ffcb00"/><stop offset="0.5526" stop-color="#ffbd00"/><stop offset="0.5823" stop-color="#ffaf00"/><stop offset="0.6093" stop-color="#ffa100"/><stop offset="0.6340" stop-color="#ff9200"/><stop offset="0.6577" stop-color="#ff8400"/><stop offset="0.6803" stop-color="#ff7600"/><stop offset="0.7018" stop-color="#ff6800"/><stop offset="0.7220" stop-color="#ff6800"/><stop offset="0.7409" stop-color="#ff5a00"/><stop offset="0.7570" stop-color="#ff4c00"/><stop offset="0.7701" stop-color="#ff3d00"/><stop offset="0.7819" stop-color="#ff2f00"/><stop offset="0.7943" stop-color="#ff2100"/><stop offset="0.8090" stop-color="#ff1300"/><stop offset="0.8279" stop-color="#ee0500"/><stop offset="0.8537" stop-color="#ee0500"/><stop offset="0.8854" stop-color="#dc0000"/><stop offset="0.9194" stop-color="#cb0000"/><stop offset="0.9522" stop-color="#cb0000"/><stop offset="0.9803" stop-color="#b90000"/><stop offset="1.0000" stop-color="#a80000"/></linearGradient>
<linearGradient id="g89" gradientUnits="userSpaceOnUse" x1="291.9" y1="0" x2="341.2" y2="0"><stop offset="0.0000" stop-color="#d2ff25"/><stop offset="0.0179" stop-color="#c5ff31"/><stop offset="0.0427" stop-color="#c5ff31"/><stop offset="0.0720" stop-color="#b9ff3e"/><stop offset="0.1036" stop-color="#adff4a"/><stop offset="0.1351" stop-color="#adff4a"/><stop offset="0.1643" stop-color="#a0ff56"/><stop offset="0.1922" stop-color="#adff4a"/><stop offset="0.2208" stop-color="#adff4a"/><stop offset="0.2494" stop-color="#b9ff3e"/><stop offset="0.2771" stop-color="#c5ff31"/><stop offset="0.3031" stop-color="#c5ff31"/><stop offset="0.3266" stop-color="#d2ff25"/><stop offset="0.3468" stop-color="#d2ff25"/><stop offset="0.3643" stop-color="#deff19"/><stop offset="0.3801" stop-color="#deff19"/><stop offset="0.3952" stop-color="#eaff0c"/><stop offset="0.4109" stop-color="#eaff0c"/><stop offset="0.4280" stop-color="#f7f600"/><stop offset="0.4461" stop-color="#ffe700"/><stop offset="0.4642" stop-color="#ffe700"/><stop offset="0.4828" stop-color="#ffd900"/><stop offset="0.5022" stop-color="#ffd900"/><stop offset="0.5230" stop-color="#ffcb00"/><stop offset="0.5456" stop-color="#ffcb00"/><stop offset="0.5708" stop-color="#ffd900"/><stop offset="0.5984" stop-color="#ffe700"/><stop offset="0.6273" stop-color="#f7f600"/><stop offset="0.6565" stop-color="#eaff0c"/><stop offset="0.6851" stop-color="#deff19"/><stop offset="0.7120" stop-color="#d2ff25"/><stop offset="0.7370" stop-color="#c5ff31"/><stop offset="0.7609" stop-color="#adff4a"/><stop offset="0.7842" stop-color="#a0ff56"/><stop offset="0.8072" stop-color="#94ff63"/><stop offset="0.8303" stop-color="#88ff6f"/><stop offset="0.8540" stop-color="#7bff7b"/></linearGradient>
<linearGradient id="g90" gradientUnits="userSpaceOnUse" x1="341.2" y1="0" x2="390.5" y2="0"><stop offset="0.0000" stop-color="#7bff7b"/><stop offset="0.1460" stop-color="#7bff7b"/><stop offset="0.1697" stop-color="#6fff88"/><stop offset="0.1928" stop-color="#63ff94"/><stop offset="0.2158" stop-color="#56ffa0"/><stop offset="0.2391" stop-color="#4affad"/><stop offset="0.2630" stop-color="#31ffc5"/><stop offset="0.2880" stop-color="#25ffd2"/><stop offset="0.3149" stop-color="#19ffde"/><stop offset="0.3435" stop-color="#0cf5ea"/><stop offset="0.3727" stop-color="#00e5f7"/><stop offset="0.4016" stop-color="#00d6ff"/><stop offset="0.4292" stop-color="#00c7ff"/><stop offset="0.4544" stop-color="#00b8ff"/><stop offset="0.4770" stop-color="#00b8ff"/><stop offset="0.4978" stop-color="#00c7ff"/><stop offset="0.5172" stop-color="#00c7ff"/><stop offset="0.5358" stop-color="#00d6ff"/><stop offset="0.5539" stop-color="#00d6ff"/><stop offset="0.5720" stop-color="#00e5f7"/><stop offset="0.5891" stop-color="#0cf5ea"/><stop offset="0.6048" stop-color="#0cf5ea"/><stop offset="0.6199" stop-color="#19ffde"/><stop offset="0.6357" stop-color="#19ffde"/><stop offset="0.6532" stop-color="#25ffd2"/><stop offset="0.6734" stop-color="#25ffd2"/><stop offset="0.6969" stop-color="#31ffc5"/><stop offset="0.7229" stop-color="#31ffc5"/><stop offset="0.7506" stop-color="#3effb9"/><stop offset="0.7792" stop-color="#4affad"/><stop offset="0.8078" stop-color="#4affad"/><stop offset="0.8357" stop-color="#56ffa0"/><stop offset="0.8649" stop-color="#4affad"/><stop offset="0.8964" stop-color="#4affad"/><stop offset="0.9280" stop-color="#3effb9"/><stop offset="0.9573" stop-color="#31ffc5"/><stop offset="0.9821" stop-color="#31ffc5"/><stop offset="1.0000" stop-color="#25ffd2"/></linearGradient>
<linearGradient id="g91" gradientUnits="userSpaceOnUse" x1="291.9" y1="0" x2="316.0" y2="0"><stop offset="0.0000" stop-color="#d2ff25"/><stop offset="0.0366" stop-color="#c5ff31"/><stop offset="0.0873" stop-color="#c5ff31"/><stop offset="0.1473" stop-color="#b9ff3e"/><stop offset="0.2119" stop-color="#adff4a"/><stop offset="0.2764" stop-color="#adff4a"/><stop offset="0.3361" stop-color="#a0ff56"/><stop offset="0.3936" stop-color="#adff4a"/><stop offset="0.4532" stop-color="#adff4a"/><stop offset="0.5127" stop-color="#b9ff3e"/><stop offset="0.5698" stop-color="#c5ff31"/><stop offset="0.6224" stop-color="#c5ff31"/><stop offset="0.6680" stop-color="#d2ff25"/><stop offset="0.7053" stop-color="#d2ff25"/><stop offset="0.7357" stop-color="#deff19"/><stop offset="0.7614" stop-color="#deff19"/><stop offset="0.7848" stop-color="#eaff0c"/><stop offset="0.8083" stop-color="#eaff0c"/><stop offset="0.8340" stop-color="#f7f600"/></linearGradient>
<linearGradient id="g92" gradientUnits="userSpaceOnUse" x1="366.4" y1="0" x2="390.5" y2="0"><stop offset="0.0000" stop-color="#00e5f7"/><stop offset="0.1660" stop-color="#00e5f7"/><stop offset="0.1917" stop-color="#0cf5ea"/><stop offset="0.2152" stop-color="#0cf5ea"/><stop offset="0.2386" stop-color="#19ffde"/><stop offset="0.2643" stop-color="#19ffde"/><stop offset="0.2947" stop-color="#25ffd2"/><stop offset="0.3320" stop-color="#25ffd2"/><stop offset="0.3776" stop-color="#31ffc5"/><stop offset="0.4302" stop-color="#31ffc5"/><stop offset="0.4873" stop-color="#3effb9"/><stop offset="0.5468" stop-color="#4affad"/><stop offset="0.6064" stop-color="#4affad"/><stop offset="0.6639" stop-color="#56ffa0"/><stop offset="0.7236" stop-color="#4affad"/><stop offset="0.7881" stop-color="#4affad"/><stop offset="0.8527" stop-color="#3effb9"/><stop offset="0.9127" stop-color="#31ffc5"/><stop offset="0.9634" stop-color="#31ffc5"/><stop offset="1.0000" stop-color="#25ffd2"/></linearGradient>
<linearGradient id="g93" gradientUnits="userSpaceOnUse" x1="291.8" y1="0" x2="341.2" y2="0"><stop offset="0.0000" stop-color="#0000b9"/><stop offset="0.0154" stop-color="#0000ee"/><stop offset="0.0368" stop-color="#000fff"/><stop offset="0.0621" stop-color="#002eff"/><stop offset="0.0894" stop-color="#005cff"/><stop offset="0.1166" stop-color="#008aff"/><stop offset="0.1417" stop-color="#00b8ff"/><stop offset="0.1651" stop-color="#00c7ff"/><stop offset="0.1883" stop-color="#00e5f7"/><stop offset="0.2115" stop-color="#19ffde"/><stop offset="0.2347" stop-color="#25ffd2"/><stop offset="0.2580" stop-color="#3effb9"/><stop offset="0.2814" stop-color="#56ffa0"/><stop offset="0.3055" stop-color="#56ffa0"/><stop offset="0.3305" stop-color="#63ff94"/><stop offset="0.3555" stop-color="#63ff94"/><stop offset="0.3798" stop-color="#6fff88"/><stop offset="0.4026" stop-color="#6fff88"/><stop offset="0.4231" stop-color="#7bff7b"/><stop offset="0.4405" stop-color="#88ff6f"/><stop offset="0.4553" stop-color="#94ff63"/><stop offset="0.4686" stop-color="#a0ff56"/><stop offset="0.4815" stop-color="#adff4a"/><stop offset="0.4950" stop-color="#c5ff31"/><stop offset="0.5101" stop-color="#d2ff25"/><stop offset="0.5260" stop-color="#d2ff25"/><stop offset="0.5416" stop-color="#deff19"/><stop offset="0.5578" stop-color="#deff19"/><stop offset="0.5756" stop-color="#eaff0c"/><stop offset="0.5958" stop-color="#eaff0c"/><stop offset="0.6194" stop-color="#f7f600"/><stop offset="0.6475" stop-color="#eaff0c"/><stop offset="0.6796" stop-color="#deff19"/><stop offset="0.7141" stop-color="#d2ff25"/><stop offset="0.7496" stop-color="#c5ff31"/><stop offset="0.7847" stop-color="#adff4a"/><stop offset="0.8178" stop-color="#a0ff56"/><stop offset="0.8512" stop-color="#a0ff56"/><stop offset="0.8865" stop-color="#94ff63"/><stop offset="0.9213" stop-color="#94ff63"/><stop offset="0.9534" stop-color="#88ff6f"/><stop offset="0.9804" stop-color="#88ff6f"/><stop offset="1.0000" stop-color="#7bff7b"/></linearGradient>
<linearGradient id="g94" gradientUnits="userSpaceOnUse" x1="341.2" y1="0" x2="390.6" y2="0"><stop offset="0.0000" stop-color="#7bff7b"/><stop offset="0.0196" stop-color="#6fff88"/><stop offset="0.0466" stop-color="#6fff88"/><stop offset="0.0787" stop-color="#63ff94"/><stop offset="0.1135" stop-color="#63ff94"/><stop offset="0.1488" stop-color="#56ffa0"/><stop offset="0.1822" stop-color="#56ffa0"/><stop offset="0.2153" stop-color="#4affad"/><stop offset="0.2504" stop-color="#31ffc5"/><stop offset="0.2859" stop-color="#25ffd2"/><stop offset="0.3204" stop-color="#19ffde"/><stop offset="0.3525" stop-color="#0cf5ea"/><stop offset="0.3806" stop-color="#00e5f7"/><stop offset="0.4042" stop-color="#0cf5ea"/><stop offset="0.4244" stop-color="#0cf5ea"/><stop offset="0.4422" stop-color="#19ffde"/><stop offset="0.4584" stop-color="#19ffde"/><stop offset="0.4740" stop-color="#25ffd2"/><stop offset="0.4899" stop-color="#25ffd2"/><stop offset="0.5050" stop-color="#31ffc5"/><stop offset="0.5185" stop-color="#4affad"/><stop offset="0.5314" stop-color="#56ffa0"/><stop offset="0.5447" stop-color="#63ff94"/><stop offset="0.5595" stop-color="#6fff88"/><stop offset="0.5769" stop-color="#7bff7b"/><stop offset="0.5974" stop-color="#88ff6f"/><stop offset="0.6202" stop-color="#88ff6f"/><stop offset="0.6445" stop-color="#94ff63"/><stop offset="0.6695" stop-color="#94ff63"/><stop offset="0.6945" stop-color="#a0ff56"/><stop offset="0.7186" stop-color="#a0ff56"/><stop offset="0.7420" stop-color="#b9ff3e"/><stop offset="0.7653" stop-color="#d2ff25"/><stop offset="0.7885" stop-color="#deff19"/><stop offset="0.8117" stop-color="#f7f600"/><stop offset="0.8349" stop-color="#ffd900"/><stop offset="0.8583" stop-color="#ffcb00"/><stop offset="0.8834" stop-color="#ffa100"/><stop offset="0.9106" stop-color="#ff7600"/><stop offset="0.9379" stop-color="#ff4c00"/><stop offset="0.9632" stop-color="#ff2f00"/><stop offset="0.9846" stop-color="#ee0500"/><stop offset="1.0000" stop-color="#b90000"/></linearGradient>
<linearGradient id="g95" gradientUnits="userSpaceOnUse" x1="291.8" y1="0" x2="341.2" y2="0"><stop offset="0.0000" stop-color="#ffd900"/><stop offset="0.0463" stop-color="#ffd900"/><stop offset="0.0781" stop-color="#ffcb00"/><stop offset="0.1700" stop-color="#ffcb00"/><stop offset="0.1920" stop-color="#ffbd00"/><stop offset="0.2114" stop-color="#ffbd00"/><stop offset="0.2293" stop-color="#ffaf00"/><stop offset="0.2463" stop-color="#ffa100"/><stop offset="0.2634" stop-color="#ffa100"/><stop offset="0.2814" stop-color="#ff9200"/><stop offset="0.3002" stop-color="#ff8400"/><stop offset="0.3190" stop-color="#ff7600"/><stop offset="0.3379" stop-color="#ff6800"/><stop offset="0.3569" stop-color="#ff5a00"/><stop offset="0.3758" stop-color="#ff4c00"/><stop offset="0.3947" stop-color="#ff3d00"/><stop offset="0.5199" stop-color="#ff3d00"/><stop offset="0.5285" stop-color="#ff4c00"/><stop offset="0.5354" stop-color="#ff4c00"/><stop offset="0.5424" stop-color="#ff5a00"/><stop offset="0.5509" stop-color="#ff5a00"/><stop offset="0.5628" stop-color="#ff6800"/><stop offset="0.5779" stop-color="#ff8400"/><stop offset="0.5951" stop-color="#ff9200"/><stop offset="0.6140" stop-color="#ffaf00"/><stop offset="0.6341" stop-color="#ffcb00"/><stop offset="0.6549" stop-color="#ffd900"/><stop offset="0.6761" stop-color="#f7f600"/><stop offset="0.6976" stop-color="#eaff0c"/><stop offset="0.7197" stop-color="#deff19"/><stop offset="0.7427" stop-color="#d2ff25"/><stop offset="0.7665" stop-color="#c5ff31"/><stop offset="0.7915" stop-color="#adff4a"/><stop offset="0.8178" stop-color="#a0ff56"/><stop offset="0.8479" stop-color="#a0ff56"/><stop offset="0.8823" stop-color="#94ff63"/><stop offset="0.9178" stop-color="#94ff63"/><stop offset="0.9513" stop-color="#88ff6f"/><stop offset="0.9797" stop-color="#88ff6f"/><stop offset="1.0000" stop-color="#7bff7b"/></linearGradient>
<linearGradient id="g96" gradientUnits="userSpaceOnUse" x1="341.2" y1="0" x2="390.6" y2="0"><stop offset="0.0000" stop-color="#7bff7b"/><stop offset="0.0203" stop-color="#6fff88"/><stop offset="0.0487" stop-color="#6fff88"/><stop offset="0.0822" stop-color="#63ff94"/><stop offset="0.1177" stop-color="#63ff94"/><stop offset="0.1521" stop-color="#56ffa0"/><stop offset="0.1822" stop-color="#56ffa0"/><stop offset="0.2085" stop-color="#4affad"/><stop offset="0.2335" stop-color="#31ffc5"/><stop offset="0.2573" stop-color="#25ffd2"/><stop offset="0.2803" stop-color="#19ffde"/><stop offset="0.3024" stop-color="#0cf5ea"/><stop offset="0.3239" stop-color="#00e5f7"/><stop offset="0.3451" stop-color="#00c7ff"/><stop offset="0.3659" stop-color="#00b8ff"/><stop offset="0.3860" stop-color="#0099ff"/><stop offset="0.4049" stop-color="#007aff"/><stop offset="0.4221" stop-color="#006bff"/><stop offset="0.4372" stop-color="#004dff"/><stop offset="0.4491" stop-color="#003dff"/><stop offset="0.4576" stop-color="#003dff"/><stop offset="0.4646" stop-color="#002eff"/><stop offset="0.4715" stop-color="#002eff"/><stop offset="0.4801" stop-color="#001fff"/><stop offset="0.6053" stop-color="#001fff"/><stop offset="0.6242" stop-color="#002eff"/><stop offset="0.6431" stop-color="#003dff"/><stop offset="0.6621" stop-color="#004dff"/><stop offset="0.6810" stop-color="#005cff"/><stop offset="0.6998" stop-color="#006bff"/><stop offset="0.7186" stop-color="#007aff"/><stop offset="0.7366" stop-color="#008aff"/><stop offset="0.7537" stop-color="#008aff"/><stop offset="0.7707" stop-color="#0099ff"/><stop offset="0.7886" stop-color="#00a8ff"/><stop offset="0.8080" stop-color="#00a8ff"/><stop offset="0.8300" stop-color="#00b8ff"/><stop offset="0.9219" stop-color="#00b8ff"/><stop offset="0.9537" stop-color="#00c7ff"/></linearGradient>
<linearGradient id="g97" gradientUnits="userSpaceOnUse" x1="291.8" y1="0" x2="303.0" y2="0"><stop offset="0.0000" stop-color="#0000b9"/><stop offset="0.0544" stop-color="#0000ee"/><stop offset="0.1296" stop-color="#000fff"/><stop offset="0.2187" stop-color="#002eff"/><stop offset="0.3148" stop-color="#005cff"/><stop offset="0.4109" stop-color="#008aff"/><stop offset="0.5000" stop-color="#00b8ff"/><stop offset="0.5891" stop-color="#00c7ff"/><stop offset="0.6852" stop-color="#00e5f7"/><stop offset="0.7813" stop-color="#19ffde"/><stop offset="0.8704" stop-color="#25ffd2"/><stop offset="0.9456" stop-color="#3effb9"/><stop offset="1.0000" stop-color="#56ffa0"/></linearGradient>
<linearGradient id="g98" gradientUnits="userSpaceOnUse" x1="379.4" y1="0" x2="390.6" y2="0"><stop offset="0.0000" stop-color="#a0ff56"/><stop offset="0.0544" stop-color="#b9ff3e"/><stop offset="0.1296" stop-color="#d2ff25"/><stop offset="0.2187" stop-color="#deff19"/><stop offset="0.3148" stop-color="#f7f600"/><stop offset="0.4109" stop-color="#ffd900"/><stop offset="0.5000" stop-color="#ffcb00"/><stop offset="0.5891" stop-color="#ffa100"/><stop offset="0.6852" stop-color="#ff7600"/><stop offset="0.7813" stop-color="#ff4c00"/><stop offset="0.8704" stop-color="#ff2f00"/><stop offset="0.9456" stop-color="#ee0500"/><stop offset="1.0000" stop-color="#b90000"/></linearGradient>
<linearGradient id="g99" gradientUnits="userSpaceOnUse" x1="291.8" y1="0" x2="341.2" y2="0"><stop offset="0.0000" stop-color="#3effb9"/><stop offset="0.0223" stop-color="#31ffc5"/><stop offset="0.0536" stop-color="#31ffc5"/><stop offset="0.0905" stop-color="#25ffd2"/><stop offset="0.1293" stop-color="#25ffd2"/><stop offset="0.1664" stop-color="#19ffde"/><stop offset="0.2914" stop-color="#19ffde"/><stop offset="0.3137" stop-color="#0cf5ea"/><stop offset="0.3381" stop-color="#0cf5ea"/><stop offset="0.3649" stop-color="#19ffde"/><stop offset="0.4228" stop-color="#19ffde"/><stop offset="0.4522" stop-color="#25ffd2"/><stop offset="0.5081" stop-color="#25ffd2"/><stop offset="0.5336" stop-color="#31ffc5"/><stop offset="0.5582" stop-color="#4affad"/><stop offset="0.5820" stop-color="#56ffa0"/><stop offset="0.6053" stop-color="#63ff94"/><stop offset="0.6285" stop-color="#6fff88"/><stop offset="0.6518" stop-color="#7bff7b"/></linearGradient>
<linearGradient id="g100" gradientUnits="userSpaceOnUse" x1="341.2" y1="0" x2="390.6" y2="0"><stop offset="0.0000" stop-color="#7bff7b"/><stop offset="0.2105" stop-color="#7bff7b"/><stop offset="0.2376" stop-color="#88ff6f"/><stop offset="0.2616" stop-color="#94ff63"/><stop offset="0.2835" stop-color="#a0ff56"/><stop offset="0.3045" stop-color="#adff4a"/><stop offset="0.3257" stop-color="#c5ff31"/><stop offset="0.3482" stop-color="#d2ff25"/><stop offset="0.3715" stop-color="#d2ff25"/><stop offset="0.3947" stop-color="#deff19"/><stop offset="0.4180" stop-color="#eaff0c"/><stop offset="0.4418" stop-color="#eaff0c"/><stop offset="0.4664" stop-color="#f7f600"/><stop offset="0.4919" stop-color="#ffe700"/><stop offset="0.5191" stop-color="#eaff0c"/><stop offset="0.5478" stop-color="#deff19"/><stop offset="0.5772" stop-color="#d2ff25"/><stop offset="0.6065" stop-color="#c5ff31"/><stop offset="0.6351" stop-color="#b9ff3e"/><stop offset="0.6619" stop-color="#a0ff56"/><stop offset="0.6863" stop-color="#88ff6f"/><stop offset="0.7086" stop-color="#7bff7b"/><stop offset="0.7300" stop-color="#63ff94"/><stop offset="0.7518" stop-color="#4affad"/><stop offset="0.7753" stop-color="#31ffc5"/><stop offset="0.8016" stop-color="#19ffde"/><stop offset="0.8336" stop-color="#19ffde"/><stop offset="0.8707" stop-color="#0cf5ea"/><stop offset="0.9464" stop-color="#0cf5ea"/><stop offset="0.9777" stop-color="#00e5f7"/></linearGradient>
<linearGradient id="g101" gradientUnits="userSpaceOnUse" x1="410.0" y1="0" x2="465.5" y2="0"><stop offset="0.0000" stop-color="#ff5a00"/><stop offset="0.0473" stop-color="#ff5a00"/><stop offset="0.0681" stop-color="#ff6800"/><stop offset="0.1081" stop-color="#ff6800"/><stop offset="0.1260" stop-color="#ff7600"/><stop offset="0.1439" stop-color="#ff7600"/><stop offset="0.1617" stop-color="#ff8400"/><stop offset="0.1796" stop-color="#ff8400"/><stop offset="0.1978" stop-color="#ff9200"/><stop offset="0.2162" stop-color="#ff9200"/><stop offset="0.2352" stop-color="#ffaf00"/><stop offset="0.2547" stop-color="#ffcb00"/><stop offset="0.2743" stop-color="#ffd900"/><stop offset="0.2939" stop-color="#f7f600"/><stop offset="0.3131" stop-color="#deff19"/><stop offset="0.3315" stop-color="#d2ff25"/><stop offset="0.3495" stop-color="#b9ff3e"/><stop offset="0.3673" stop-color="#a0ff56"/><stop offset="0.3847" stop-color="#94ff63"/><stop offset="0.4015" stop-color="#7bff7b"/><stop offset="0.4175" stop-color="#63ff94"/><stop offset="0.4324" stop-color="#56ffa0"/><stop offset="0.4461" stop-color="#4affad"/><stop offset="0.4584" stop-color="#3effb9"/><stop offset="0.4699" stop-color="#31ffc5"/><stop offset="0.4811" stop-color="#31ffc5"/><stop offset="0.4925" stop-color="#25ffd2"/><stop offset="0.5045" stop-color="#19ffde"/><stop offset="0.5820" stop-color="#19ffde"/><stop offset="0.5959" stop-color="#31ffc5"/><stop offset="0.6105" stop-color="#4affad"/><stop offset="0.6252" stop-color="#63ff94"/><stop offset="0.6398" stop-color="#7bff7b"/><stop offset="0.6537" stop-color="#88ff6f"/><stop offset="0.6667" stop-color="#a0ff56"/><stop offset="0.6785" stop-color="#b9ff3e"/><stop offset="0.6896" stop-color="#d2ff25"/><stop offset="0.7001" stop-color="#deff19"/><stop offset="0.7102" stop-color="#f7f600"/><stop offset="0.7200" stop-color="#ffd900"/><stop offset="0.7297" stop-color="#ffcb00"/><stop offset="0.7392" stop-color="#ffbd00"/><stop offset="0.7481" stop-color="#ffa100"/><stop offset="0.7568" stop-color="#ff9200"/><stop offset="0.7654" stop-color="#ff8400"/><stop offset="0.7744" stop-color="#ff7600"/><stop offset="0.7838" stop-color="#ff6800"/><stop offset="0.8039" stop-color="#ff6800"/><stop offset="0.8144" stop-color="#ff5a00"/><stop offset="0.9619" stop-color="#ff5a00"/><stop offset="0.9774" stop-color="#ff6800"/></linearGradient>
<linearGradient id="g102" gradientUnits="userSpaceOnUse" x1="493.3" y1="0" x2="548.8" y2="0"><stop offset="0.0000" stop-color="#004dff"/><stop offset="0.0226" stop-color="#004dff"/><stop offset="0.0381" stop-color="#003dff"/><stop offset="0.1856" stop-color="#003dff"/><stop offset="0.1961" stop-color="#004dff"/><stop offset="0.2162" stop-color="#004dff"/><stop offset="0.2256" stop-color="#005cff"/><stop offset="0.2346" stop-color="#006bff"/><stop offset="0.2432" stop-color="#007aff"/><stop offset="0.2519" stop-color="#008aff"/><stop offset="0.2608" stop-color="#00a8ff"/><stop offset="0.2703" stop-color="#00b8ff"/><stop offset="0.2800" stop-color="#00c7ff"/><stop offset="0.2898" stop-color="#00e5f7"/><stop offset="0.2999" stop-color="#19ffde"/><stop offset="0.3104" stop-color="#25ffd2"/><stop offset="0.3215" stop-color="#3effb9"/><stop offset="0.3333" stop-color="#56ffa0"/><stop offset="0.3463" stop-color="#6fff88"/><stop offset="0.3602" stop-color="#7bff7b"/><stop offset="0.3748" stop-color="#94ff63"/><stop offset="0.3895" stop-color="#adff4a"/><stop offset="0.4041" stop-color="#c5ff31"/><stop offset="0.4180" stop-color="#deff19"/><stop offset="0.4955" stop-color="#deff19"/><stop offset="0.5075" stop-color="#d2ff25"/><stop offset="0.5189" stop-color="#c5ff31"/><stop offset="0.5301" stop-color="#c5ff31"/><stop offset="0.5416" stop-color="#b9ff3e"/><stop offset="0.5539" stop-color="#adff4a"/><stop offset="0.5676" stop-color="#a0ff56"/><stop offset="0.5825" stop-color="#94ff63"/><stop offset="0.5985" stop-color="#7bff7b"/><stop offset="0.6153" stop-color="#63ff94"/><stop offset="0.6327" stop-color="#56ffa0"/><stop offset="0.6505" stop-color="#3effb9"/><stop offset="0.6685" stop-color="#25ffd2"/><stop offset="0.6869" stop-color="#19ffde"/><stop offset="0.7061" stop-color="#00e5f7"/><stop offset="0.7257" stop-color="#00c7ff"/><stop offset="0.7453" stop-color="#00b8ff"/><stop offset="0.7648" stop-color="#0099ff"/><stop offset="0.7838" stop-color="#007aff"/><stop offset="0.8022" stop-color="#007aff"/><stop offset="0.8204" stop-color="#006bff"/><stop offset="0.8383" stop-color="#006bff"/><stop offset="0.8561" stop-color="#005cff"/><stop offset="0.8740" stop-color="#005cff"/><stop offset="0.8919" stop-color="#004dff"/><stop offset="0.9319" stop-color="#004dff"/><stop offset="0.9527" stop-color="#003dff"/></linearGradient>
<linearGradient id="g103" gradientUnits="userSpaceOnUse" x1="410.0" y1="0" x2="466.3" y2="0"><stop offset="0.0000" stop-color="#b9ff3e"/><stop offset="0.1594" stop-color="#b9ff3e"/><stop offset="0.1771" stop-color="#adff4a"/><stop offset="0.2318" stop-color="#adff4a"/><stop offset="0.2510" stop-color="#a0ff56"/><stop offset="0.2897" stop-color="#a0ff56"/><stop offset="0.3086" stop-color="#94ff63"/><stop offset="0.3268" stop-color="#94ff63"/><stop offset="0.3445" stop-color="#88ff6f"/><stop offset="0.3621" stop-color="#7bff7b"/><stop offset="0.3792" stop-color="#63ff94"/><stop offset="0.3958" stop-color="#56ffa0"/><stop offset="0.4115" stop-color="#4affad"/><stop offset="0.4263" stop-color="#3effb9"/><stop offset="0.4397" stop-color="#31ffc5"/><stop offset="0.4519" stop-color="#25ffd2"/><stop offset="0.4633" stop-color="#19ffde"/><stop offset="0.4743" stop-color="#19ffde"/><stop offset="0.4855" stop-color="#0cf5ea"/><stop offset="0.4973" stop-color="#00e5f7"/><stop offset="0.5475" stop-color="#00e5f7"/><stop offset="0.5605" stop-color="#00d6ff"/><stop offset="0.5737" stop-color="#00d6ff"/><stop offset="0.5874" stop-color="#00e5f7"/><stop offset="0.6015" stop-color="#0cf5ea"/><stop offset="0.6158" stop-color="#0cf5ea"/><stop offset="0.6300" stop-color="#19ffde"/><stop offset="0.6439" stop-color="#25ffd2"/><stop offset="0.6572" stop-color="#25ffd2"/><stop offset="0.6699" stop-color="#31ffc5"/><stop offset="0.6823" stop-color="#4affad"/><stop offset="0.6943" stop-color="#56ffa0"/><stop offset="0.7059" stop-color="#63ff94"/><stop offset="0.7173" stop-color="#6fff88"/><stop offset="0.7282" stop-color="#7bff7b"/></linearGradient>
<linearGradient id="g104" gradientUnits="userSpaceOnUse" x1="492.5" y1="0" x2="548.8" y2="0"><stop offset="0.0000" stop-color="#7bff7b"/><stop offset="0.2718" stop-color="#7bff7b"/><stop offset="0.2827" stop-color="#88ff6f"/><stop offset="0.2941" stop-color="#94ff63"/><stop offset="0.3057" stop-color="#a0ff56"/><stop offset="0.3177" stop-color="#adff4a"/><stop offset="0.3301" stop-color="#c5ff31"/><stop offset="0.3428" stop-color="#d2ff25"/><stop offset="0.3561" stop-color="#d2ff25"/><stop offset="0.3700" stop-color="#deff19"/><stop offset="0.3842" stop-color="#eaff0c"/><stop offset="0.3985" stop-color="#eaff0c"/><stop offset="0.4126" stop-color="#f7f600"/><stop offset="0.4263" stop-color="#ffe700"/><stop offset="0.4395" stop-color="#ffe700"/><stop offset="0.4525" stop-color="#f7f600"/><stop offset="0.5027" stop-color="#f7f600"/><stop offset="0.5145" stop-color="#eaff0c"/><stop offset="0.5257" stop-color="#deff19"/><stop offset="0.5367" stop-color="#deff19"/><stop offset="0.5481" stop-color="#d2ff25"/><stop offset="0.5603" stop-color="#c5ff31"/><stop offset="0.5737" stop-color="#b9ff3e"/><stop offset="0.5885" stop-color="#adff4a"/><stop offset="0.6042" stop-color="#a0ff56"/><stop offset="0.6208" stop-color="#94ff63"/><stop offset="0.6379" stop-color="#7bff7b"/><stop offset="0.6555" stop-color="#6fff88"/><stop offset="0.6732" stop-color="#63ff94"/><stop offset="0.6914" stop-color="#63ff94"/><stop offset="0.7103" stop-color="#56ffa0"/><stop offset="0.7490" stop-color="#56ffa0"/><stop offset="0.7682" stop-color="#4affad"/><stop offset="0.8229" stop-color="#4affad"/><stop offset="0.8406" stop-color="#3effb9"/></linearGradient>
<linearGradient id="g105" gradientUnits="userSpaceOnUse" x1="423.9" y1="0" x2="455.0" y2="0"><stop offset="0.0000" stop-color="#ffe700"/><stop offset="0.3891" stop-color="#ffe700"/><stop offset="0.4207" stop-color="#f7f600"/><stop offset="0.5515" stop-color="#f7f600"/><stop offset="0.5820" stop-color="#eaff0c"/><stop offset="0.6674" stop-color="#eaff0c"/><stop offset="0.6939" stop-color="#deff19"/><stop offset="0.7850" stop-color="#deff19"/><stop offset="0.8041" stop-color="#d2ff25"/></linearGradient>
<linearGradient id="g106" gradientUnits="userSpaceOnUse" x1="503.8" y1="0" x2="534.9" y2="0"><stop offset="0.0000" stop-color="#25ffd2"/><stop offset="0.1959" stop-color="#25ffd2"/><stop offset="0.2150" stop-color="#19ffde"/><stop offset="0.3061" stop-color="#19ffde"/><stop offset="0.3326" stop-color="#0cf5ea"/><stop offset="0.4180" stop-color="#0cf5ea"/><stop offset="0.4485" stop-color="#00e5f7"/><stop offset="0.5793" stop-color="#00e5f7"/><stop offset="0.6109" stop-color="#00d6ff"/></linearGradient>
<linearGradient id="g109" gradientUnits="userSpaceOnUse" x1="438.0" y1="0" x2="465.0" y2="0"><stop offset="0.0000" stop-color="#7bff7b"/><stop offset="0.1519" stop-color="#7bff7b"/><stop offset="0.1776" stop-color="#88ff6f"/><stop offset="0.2034" stop-color="#88ff6f"/><stop offset="0.2294" stop-color="#94ff63"/><stop offset="0.2554" stop-color="#a0ff56"/><stop offset="0.2814" stop-color="#a0ff56"/><stop offset="0.3074" stop-color="#adff4a"/><stop offset="0.3602" stop-color="#adff4a"/><stop offset="0.3868" stop-color="#b9ff3e"/><stop offset="0.4630" stop-color="#b9ff3e"/><stop offset="0.4861" stop-color="#d2ff25"/><stop offset="0.5081" stop-color="#eaff0c"/><stop offset="0.5294" stop-color="#ffe700"/><stop offset="0.5503" stop-color="#ffcb00"/><stop offset="0.5713" stop-color="#ffaf00"/><stop offset="0.5926" stop-color="#ff9200"/><stop offset="0.6142" stop-color="#ff8400"/><stop offset="0.6358" stop-color="#ff7600"/><stop offset="0.6574" stop-color="#ff6800"/><stop offset="0.6790" stop-color="#ff4c00"/><stop offset="0.7006" stop-color="#ff3d00"/><stop offset="0.7222" stop-color="#ff2f00"/><stop offset="0.7647" stop-color="#ff2f00"/><stop offset="0.7859" stop-color="#ff2100"/></linearGradient>
<linearGradient id="g110" gradientUnits="userSpaceOnUse" x1="493.8" y1="0" x2="520.8" y2="0"><stop offset="0.0000" stop-color="#0000ff"/><stop offset="0.2141" stop-color="#0000ff"/><stop offset="0.2353" stop-color="#000fff"/><stop offset="0.2778" stop-color="#000fff"/><stop offset="0.2994" stop-color="#001fff"/><stop offset="0.3210" stop-color="#002eff"/><stop offset="0.3426" stop-color="#004dff"/><stop offset="0.3642" stop-color="#005cff"/><stop offset="0.3858" stop-color="#006bff"/><stop offset="0.4074" stop-color="#007aff"/><stop offset="0.4287" stop-color="#0099ff"/><stop offset="0.4497" stop-color="#00b8ff"/><stop offset="0.4706" stop-color="#00d6ff"/><stop offset="0.4919" stop-color="#0cf5ea"/><stop offset="0.5139" stop-color="#25ffd2"/><stop offset="0.5370" stop-color="#3effb9"/><stop offset="0.6132" stop-color="#3effb9"/><stop offset="0.6398" stop-color="#4affad"/><stop offset="0.6926" stop-color="#4affad"/><stop offset="0.7186" stop-color="#56ffa0"/><stop offset="0.7446" stop-color="#56ffa0"/><stop offset="0.7706" stop-color="#63ff94"/><stop offset="0.7966" stop-color="#6fff88"/><stop offset="0.8224" stop-color="#6fff88"/><stop offset="0.8481" stop-color="#7bff7b"/></linearGradient>
<linearGradient id="g111" gradientUnits="userSpaceOnUse" x1="441.1" y1="0" x2="464.5" y2="0"><stop offset="0.0000" stop-color="#ff9200"/><stop offset="0.0201" stop-color="#ff9200"/><stop offset="0.0483" stop-color="#ffa100"/><stop offset="0.0815" stop-color="#ffaf00"/><stop offset="0.1165" stop-color="#ffaf00"/><stop offset="0.1502" stop-color="#ffbd00"/><stop offset="0.1795" stop-color="#ffcb00"/><stop offset="0.2045" stop-color="#ffd900"/><stop offset="0.2279" stop-color="#ffe700"/><stop offset="0.2500" stop-color="#f7f600"/><stop offset="0.2711" stop-color="#eaff0c"/><stop offset="0.2917" stop-color="#deff19"/><stop offset="0.3120" stop-color="#d2ff25"/><stop offset="0.3310" stop-color="#c5ff31"/><stop offset="0.4013" stop-color="#c5ff31"/><stop offset="0.4231" stop-color="#b9ff3e"/><stop offset="0.4484" stop-color="#deff19"/><stop offset="0.4764" stop-color="#ffd900"/><stop offset="0.5061" stop-color="#ffaf00"/><stop offset="0.5364" stop-color="#ff8400"/><stop offset="0.5661" stop-color="#ff5a00"/><stop offset="0.5940" stop-color="#ff2f00"/><stop offset="0.6202" stop-color="#ff2f00"/><stop offset="0.6455" stop-color="#ff2100"/><stop offset="0.6701" stop-color="#ff2100"/><stop offset="0.6945" stop-color="#ff1300"/><stop offset="0.7189" stop-color="#ff1300"/><stop offset="0.7436" stop-color="#ee0500"/></linearGradient>
<linearGradient id="g112" gradientUnits="userSpaceOnUse" x1="494.3" y1="0" x2="517.7" y2="0"><stop offset="0.0000" stop-color="#0000ee"/><stop offset="0.2564" stop-color="#0000ee"/><stop offset="0.2811" stop-color="#0000ff"/><stop offset="0.3545" stop-color="#0000ff"/><stop offset="0.3798" stop-color="#000fff"/><stop offset="0.4060" stop-color="#000fff"/><stop offset="0.4339" stop-color="#003dff"/><stop offset="0.4636" stop-color="#006bff"/><stop offset="0.4939" stop-color="#0099ff"/><stop offset="0.5236" stop-color="#00c7ff"/><stop offset="0.5516" stop-color="#19ffde"/><stop offset="0.5769" stop-color="#3effb9"/><stop offset="0.5987" stop-color="#31ffc5"/><stop offset="0.6690" stop-color="#31ffc5"/><stop offset="0.6880" stop-color="#25ffd2"/><stop offset="0.7083" stop-color="#19ffde"/><stop offset="0.7289" stop-color="#0cf5ea"/><stop offset="0.7500" stop-color="#00e5f7"/><stop offset="0.7721" stop-color="#00d6ff"/><stop offset="0.7955" stop-color="#00c7ff"/><stop offset="0.8205" stop-color="#00b8ff"/><stop offset="0.8498" stop-color="#00a8ff"/><stop offset="0.8835" stop-color="#0099ff"/><stop offset="0.9185" stop-color="#0099ff"/><stop offset="0.9517" stop-color="#008aff"/><stop offset="0.9799" stop-color="#007aff"/></linearGradient>
<linearGradient id="g113" gradientUnits="userSpaceOnUse" x1="410.3" y1="0" x2="479.4" y2="0"><stop offset="0.0000" stop-color="#a80000"/><stop offset="0.0535" stop-color="#a80000"/><stop offset="0.0641" stop-color="#b90000"/><stop offset="0.0753" stop-color="#b90000"/><stop offset="0.0869" stop-color="#cb0000"/><stop offset="0.0988" stop-color="#cb0000"/><stop offset="0.1109" stop-color="#dc0000"/><stop offset="0.1351" stop-color="#dc0000"/><stop offset="0.1472" stop-color="#ee0500"/><stop offset="0.1596" stop-color="#ee0500"/><stop offset="0.1721" stop-color="#ff1300"/><stop offset="0.1850" stop-color="#ff1300"/><stop offset="0.1983" stop-color="#ff2100"/><stop offset="0.2119" stop-color="#ff2100"/><stop offset="0.2259" stop-color="#ff2f00"/><stop offset="0.2549" stop-color="#ff2f00"/><stop offset="0.2698" stop-color="#ff3d00"/><stop offset="0.2851" stop-color="#ff3d00"/><stop offset="0.3011" stop-color="#ff4c00"/><stop offset="0.3350" stop-color="#ff4c00"/><stop offset="0.3520" stop-color="#ff5a00"/><stop offset="0.5355" stop-color="#ff5a00"/><stop offset="0.5486" stop-color="#ff6800"/><stop offset="0.5616" stop-color="#ff7600"/><stop offset="0.5748" stop-color="#ff8400"/><stop offset="0.5884" stop-color="#ff9200"/><stop offset="0.6027" stop-color="#ffa100"/><stop offset="0.6179" stop-color="#ffaf00"/><stop offset="0.6339" stop-color="#ffbd00"/><stop offset="0.6502" stop-color="#ffbd00"/><stop offset="0.6672" stop-color="#ffcb00"/><stop offset="0.6852" stop-color="#ffcb00"/><stop offset="0.7044" stop-color="#ffd900"/><stop offset="0.7730" stop-color="#ffd900"/><stop offset="0.7992" stop-color="#ffe700"/><stop offset="0.8992" stop-color="#ffe700"/><stop offset="0.9236" stop-color="#f7f600"/></linearGradient>
<linearGradient id="g114" gradientUnits="userSpaceOnUse" x1="479.4" y1="0" x2="548.5" y2="0"><stop offset="0.0000" stop-color="#00e5f7"/><stop offset="0.0764" stop-color="#00e5f7"/><stop offset="0.1008" stop-color="#00d6ff"/><stop offset="0.2008" stop-color="#00d6ff"/><stop offset="0.2270" stop-color="#00c7ff"/><stop offset="0.2956" stop-color="#00c7ff"/><stop offset="0.3148" stop-color="#00b8ff"/><stop offset="0.3328" stop-color="#00b8ff"/><stop offset="0.3498" stop-color="#00a8ff"/><stop offset="0.3661" stop-color="#00a8ff"/><stop offset="0.3821" stop-color="#0099ff"/><stop offset="0.3973" stop-color="#008aff"/><stop offset="0.4116" stop-color="#007aff"/><stop offset="0.4252" stop-color="#006bff"/><stop offset="0.4384" stop-color="#005cff"/><stop offset="0.4514" stop-color="#004dff"/><stop offset="0.4645" stop-color="#003dff"/><stop offset="0.6480" stop-color="#003dff"/><stop offset="0.6650" stop-color="#002eff"/><stop offset="0.6989" stop-color="#002eff"/><stop offset="0.7149" stop-color="#001fff"/><stop offset="0.7302" stop-color="#001fff"/><stop offset="0.7451" stop-color="#000fff"/><stop offset="0.7741" stop-color="#000fff"/><stop offset="0.7881" stop-color="#0000ff"/><stop offset="0.8279" stop-color="#0000ff"/><stop offset="0.8404" stop-color="#0000ee"/><stop offset="0.8528" stop-color="#0000ee"/><stop offset="0.8649" stop-color="#0000dc"/><stop offset="0.8891" stop-color="#0000dc"/><stop offset="0.9012" stop-color="#0000cb"/><stop offset="0.9131" stop-color="#0000cb"/><stop offset="0.9247" stop-color="#0000b9"/><stop offset="0.9359" stop-color="#0000b9"/><stop offset="0.9465" stop-color="#0000a8"/></linearGradient>
<linearGradient id="g115" gradientUnits="userSpaceOnUse" x1="410.3" y1="0" x2="479.4" y2="0"><stop offset="0.0000" stop-color="#ff6800"/><stop offset="0.0133" stop-color="#ff6800"/><stop offset="0.0224" stop-color="#ff7600"/><stop offset="0.0535" stop-color="#ff7600"/><stop offset="0.0641" stop-color="#ff8400"/><stop offset="0.0753" stop-color="#ff8400"/><stop offset="0.0869" stop-color="#ff9200"/><stop offset="0.0988" stop-color="#ffa100"/><stop offset="0.1109" stop-color="#ffa100"/><stop offset="0.1230" stop-color="#ffaf00"/><stop offset="0.1351" stop-color="#ffaf00"/><stop offset="0.1472" stop-color="#ffbd00"/><stop offset="0.1596" stop-color="#ffcb00"/><stop offset="0.1721" stop-color="#ffd900"/><stop offset="0.1850" stop-color="#ffe700"/><stop offset="0.1983" stop-color="#ffe700"/><stop offset="0.2119" stop-color="#f7f600"/><stop offset="0.2259" stop-color="#f7f600"/><stop offset="0.2402" stop-color="#eaff0c"/><stop offset="0.2549" stop-color="#eaff0c"/><stop offset="0.2698" stop-color="#deff19"/><stop offset="0.3520" stop-color="#deff19"/><stop offset="0.3683" stop-color="#d2ff25"/><stop offset="0.3974" stop-color="#d2ff25"/><stop offset="0.4102" stop-color="#deff19"/><stop offset="0.4840" stop-color="#deff19"/><stop offset="0.4967" stop-color="#eaff0c"/><stop offset="0.5355" stop-color="#eaff0c"/><stop offset="0.5486" stop-color="#f7f600"/><stop offset="0.6027" stop-color="#f7f600"/><stop offset="0.6179" stop-color="#ffe700"/><stop offset="0.7479" stop-color="#ffe700"/><stop offset="0.7730" stop-color="#f7f600"/></linearGradient>
<linearGradient id="g116" gradientUnits="userSpaceOnUse" x1="479.4" y1="0" x2="548.5" y2="0"><stop offset="0.0000" stop-color="#00e5f7"/><stop offset="0.2270" stop-color="#00e5f7"/><stop offset="0.2521" stop-color="#00d6ff"/><stop offset="0.3821" stop-color="#00d6ff"/><stop offset="0.3973" stop-color="#00e5f7"/><stop offset="0.4514" stop-color="#00e5f7"/><stop offset="0.4645" stop-color="#0cf5ea"/><stop offset="0.5033" stop-color="#0cf5ea"/><stop offset="0.5160" stop-color="#19ffde"/><stop offset="0.5898" stop-color="#19ffde"/><stop offset="0.6026" stop-color="#25ffd2"/><stop offset="0.6317" stop-color="#25ffd2"/><stop offset="0.6480" stop-color="#19ffde"/><stop offset="0.7302" stop-color="#19ffde"/><stop offset="0.7451" stop-color="#0cf5ea"/><stop offset="0.7598" stop-color="#0cf5ea"/><stop offset="0.7741" stop-color="#00e5f7"/><stop offset="0.7881" stop-color="#00e5f7"/><stop offset="0.8017" stop-color="#00d6ff"/><stop offset="0.8150" stop-color="#00d6ff"/><stop offset="0.8279" stop-color="#00c7ff"/><stop offset="0.8404" stop-color="#00b8ff"/><stop offset="0.8528" stop-color="#00a8ff"/><stop offset="0.8649" stop-color="#0099ff"/><stop offset="0.8770" stop-color="#0099ff"/><stop offset="0.8891" stop-color="#008aff"/><stop offset="0.9012" stop-color="#008aff"/><stop offset="0.9131" stop-color="#007aff"/><stop offset="0.9247" stop-color="#006bff"/><stop offset="0.9359" stop-color="#006bff"/><stop offset="0.9465" stop-color="#005cff"/><stop offset="0.9776" stop-color="#005cff"/><stop offset="0.9867" stop-color="#004dff"/></linearGradient>
<linearGradient id="g117" gradientUnits="userSpaceOnUse" x1="432.9" y1="0" x2="479.4" y2="0"><stop offset="0.0000" stop-color="#00d6ff"/><stop offset="0.3097" stop-color="#00d6ff"/><stop offset="0.3264" stop-color="#00e5f7"/><stop offset="0.3927" stop-color="#00e5f7"/><stop offset="0.4108" stop-color="#0cf5ea"/><stop offset="0.5333" stop-color="#0cf5ea"/><stop offset="0.5529" stop-color="#00e5f7"/><stop offset="0.6288" stop-color="#00e5f7"/><stop offset="0.6473" stop-color="#00d6ff"/><stop offset="0.6657" stop-color="#00c7ff"/><stop offset="0.6840" stop-color="#00b8ff"/><stop offset="0.7022" stop-color="#00a8ff"/><stop offset="0.7200" stop-color="#0099ff"/><stop offset="0.7376" stop-color="#008aff"/><stop offset="0.7548" stop-color="#007aff"/><stop offset="0.7717" stop-color="#006bff"/><stop offset="0.7883" stop-color="#004dff"/><stop offset="0.8046" stop-color="#003dff"/><stop offset="0.8205" stop-color="#002eff"/><stop offset="0.8362" stop-color="#001fff"/><stop offset="0.8516" stop-color="#000fff"/><stop offset="0.8668" stop-color="#000fff"/><stop offset="0.8820" stop-color="#0000ff"/><stop offset="0.9248" stop-color="#0000ff"/><stop offset="0.9376" stop-color="#0000ee"/></linearGradient>
<linearGradient id="g118" gradientUnits="userSpaceOnUse" x1="479.4" y1="0" x2="525.9" y2="0"><stop offset="0.0000" stop-color="#ee0500"/><stop offset="0.0624" stop-color="#ee0500"/><stop offset="0.0752" stop-color="#ff1300"/><stop offset="0.0889" stop-color="#ff1300"/><stop offset="0.1032" stop-color="#ff2100"/><stop offset="0.1180" stop-color="#ff2100"/><stop offset="0.1332" stop-color="#ff2f00"/><stop offset="0.1484" stop-color="#ff2f00"/><stop offset="0.1638" stop-color="#ff3d00"/><stop offset="0.1795" stop-color="#ff4c00"/><stop offset="0.1954" stop-color="#ff5a00"/><stop offset="0.2117" stop-color="#ff6800"/><stop offset="0.2283" stop-color="#ff8400"/><stop offset="0.2452" stop-color="#ff9200"/><stop offset="0.2624" stop-color="#ffa100"/><stop offset="0.2800" stop-color="#ffaf00"/><stop offset="0.2978" stop-color="#ffbd00"/><stop offset="0.3160" stop-color="#ffcb00"/><stop offset="0.3343" stop-color="#ffd900"/><stop offset="0.3527" stop-color="#ffe700"/><stop offset="0.3712" stop-color="#f7f600"/><stop offset="0.4471" stop-color="#f7f600"/><stop offset="0.4667" stop-color="#eaff0c"/><stop offset="0.5892" stop-color="#eaff0c"/><stop offset="0.6073" stop-color="#f7f600"/><stop offset="0.6736" stop-color="#f7f600"/><stop offset="0.6903" stop-color="#ffe700"/></linearGradient>
<linearGradient id="g119" gradientUnits="userSpaceOnUse" x1="435.5" y1="0" x2="479.4" y2="0"><stop offset="0.0000" stop-color="#ffe700"/><stop offset="0.4897" stop-color="#ffe700"/><stop offset="0.5041" stop-color="#ffd900"/><stop offset="0.5353" stop-color="#ffd900"/><stop offset="0.5532" stop-color="#ffcb00"/><stop offset="0.5723" stop-color="#ffbd00"/><stop offset="0.5920" stop-color="#ffaf00"/><stop offset="0.6117" stop-color="#ffa100"/><stop offset="0.6310" stop-color="#ff8400"/><stop offset="0.6492" stop-color="#ff7600"/><stop offset="0.6660" stop-color="#ff6800"/><stop offset="0.6819" stop-color="#ff6800"/><stop offset="0.6973" stop-color="#ff5a00"/><stop offset="0.7126" stop-color="#ff4c00"/><stop offset="0.7283" stop-color="#ff3d00"/><stop offset="0.7449" stop-color="#ff2f00"/><stop offset="0.7619" stop-color="#ff2f00"/><stop offset="0.7790" stop-color="#ff2100"/><stop offset="0.7964" stop-color="#ff2100"/><stop offset="0.8146" stop-color="#ff1300"/><stop offset="0.8337" stop-color="#ff1300"/><stop offset="0.8542" stop-color="#ee0500"/></linearGradient>
<linearGradient id="g120" gradientUnits="userSpaceOnUse" x1="479.4" y1="0" x2="523.3" y2="0"><stop offset="0.0000" stop-color="#0000ee"/><stop offset="0.1458" stop-color="#0000ee"/><stop offset="0.1663" stop-color="#0000ff"/><stop offset="0.2210" stop-color="#0000ff"/><stop offset="0.2381" stop-color="#000fff"/><stop offset="0.2551" stop-color="#000fff"/><stop offset="0.2717" stop-color="#001fff"/><stop offset="0.2874" stop-color="#002eff"/><stop offset="0.3027" stop-color="#003dff"/><stop offset="0.3181" stop-color="#004dff"/><stop offset="0.3340" stop-color="#004dff"/><stop offset="0.3508" stop-color="#005cff"/><stop offset="0.3690" stop-color="#006bff"/><stop offset="0.3883" stop-color="#008aff"/><stop offset="0.4080" stop-color="#0099ff"/><stop offset="0.4277" stop-color="#00a8ff"/><stop offset="0.4468" stop-color="#00b8ff"/><stop offset="0.4647" stop-color="#00c7ff"/><stop offset="0.4959" stop-color="#00c7ff"/><stop offset="0.5103" stop-color="#00d6ff"/></linearGradient>
<linearGradient id="g121" gradientUnits="userSpaceOnUse" x1="466.0" y1="0" x2="479.4" y2="0"><stop offset="0.0000" stop-color="#ffe700"/><stop offset="0.2239" stop-color="#ffe700"/><stop offset="0.2697" stop-color="#f7f600"/><stop offset="0.4739" stop-color="#f7f600"/><stop offset="0.5224" stop-color="#eaff0c"/><stop offset="0.5686" stop-color="#eaff0c"/><stop offset="0.6139" stop-color="#deff19"/><stop offset="0.7012" stop-color="#deff19"/><stop offset="0.7431" stop-color="#d2ff25"/><stop offset="0.7836" stop-color="#d2ff25"/><stop offset="0.8247" stop-color="#c5ff31"/><stop offset="0.8671" stop-color="#c5ff31"/><stop offset="0.9081" stop-color="#b9ff3e"/><stop offset="0.9456" stop-color="#adff4a"/><stop offset="0.9770" stop-color="#adff4a"/><stop offset="1.0000" stop-color="#a0ff56"/></linearGradient>
<linearGradient id="g122" gradientUnits="userSpaceOnUse" x1="479.4" y1="0" x2="492.8" y2="0"><stop offset="0.0000" stop-color="#56ffa0"/><stop offset="0.0230" stop-color="#4affad"/><stop offset="0.0544" stop-color="#4affad"/><stop offset="0.0919" stop-color="#3effb9"/><stop offset="0.1329" stop-color="#31ffc5"/><stop offset="0.1753" stop-color="#31ffc5"/><stop offset="0.2164" stop-color="#25ffd2"/><stop offset="0.2569" stop-color="#25ffd2"/><stop offset="0.2988" stop-color="#19ffde"/><stop offset="0.3861" stop-color="#19ffde"/><stop offset="0.4314" stop-color="#0cf5ea"/><stop offset="0.4776" stop-color="#0cf5ea"/><stop offset="0.5261" stop-color="#00e5f7"/><stop offset="0.7303" stop-color="#00e5f7"/><stop offset="0.7761" stop-color="#00d6ff"/></linearGradient>
<linearGradient id="g123" gradientUnits="userSpaceOnUse" x1="470.5" y1="0" x2="479.4" y2="0"><stop offset="0.0000" stop-color="#00d6ff"/><stop offset="0.2732" stop-color="#00d6ff"/><stop offset="0.3250" stop-color="#00c7ff"/><stop offset="0.4378" stop-color="#00c7ff"/><stop offset="0.4985" stop-color="#00b8ff"/><stop offset="0.5618" stop-color="#00b8ff"/><stop offset="0.6341" stop-color="#00a8ff"/><stop offset="0.7166" stop-color="#00a8ff"/><stop offset="0.8020" stop-color="#0099ff"/><stop offset="0.8826" stop-color="#008aff"/><stop offset="0.9512" stop-color="#008aff"/><stop offset="1.0000" stop-color="#007aff"/></linearGradient>
<linearGradient id="g124" gradientUnits="userSpaceOnUse" x1="479.4" y1="0" x2="488.3" y2="0"><stop offset="0.0000" stop-color="#ff9200"/><stop offset="0.0488" stop-color="#ffa100"/><stop offset="0.1174" stop-color="#ffa100"/><stop offset="0.1980" stop-color="#ffaf00"/><stop offset="0.2834" stop-color="#ffbd00"/><stop offset="0.3659" stop-color="#ffbd00"/><stop offset="0.4382" stop-color="#ffcb00"/><stop offset="0.5015" stop-color="#ffcb00"/><stop offset="0.5622" stop-color="#ffd900"/><stop offset="0.6750" stop-color="#ffd900"/><stop offset="0.7268" stop-color="#ffe700"/></linearGradient>
</defs>
<rect x="0" y="0" width="575" height="313" fill="#fff"/>
<g clip-path="url(#clipa)" fill="none" stroke-linecap="round" stroke-linejoin="round">
<path d="M28.6 41.7 L29.3 41.9 L30.2 42.2 L31.3 42.5 L32.5 42.8 L33.8 42.9 L35.0 42.8 L36.2 42.5 L37.5 41.9 L38.8 41.2 L40.1 40.5 L41.6 39.6 L43.1 38.8 L44.7 37.9 L46.5 36.8 L48.4 35.7 L50.2 34.6 L52.1 33.6 L53.8 32.7 L55.5 32.0 L57.1 31.3 L58.7 30.8 L60.2 30.3 L61.7 29.9 L63.2 29.6 L64.7 29.3 L66.1 29.1 L67.6 29.0 L68.9 28.9 L70.2 28.9 L71.3 29.1 L72.2 29.4 L73.1 29.9 L73.8 30.4 L74.4 31.0 L74.9 31.6 L75.5 32.2 L76.0 32.7 L76.4 33.2 L76.8 33.8 L77.2 34.3 L77.6 34.9 L78.0 35.5 L78.4 36.1 L78.9 36.7 L79.3 37.4 L79.8 38.1 L80.3 38.9 L81.0 39.9 L81.8 41.1 L82.6 42.5 L83.6 44.1 L84.6 45.6 L85.6 47.0 L86.5 48.2 L87.4 49.1 L88.4 49.9 L89.4 50.5 L90.3 51.1 L91.2 51.5 L92.0 51.9 L92.8 52.2 L93.6 52.4 L94.3 52.4 L94.9 52.5 L95.5 52.5 L95.9 52.5" stroke="url(#g1)" stroke-width="2.10"/>
<path d="M28.6 42.8 L29.3 43.1 L30.3 43.4 L31.5 43.9 L32.7 44.4 L33.9 44.9 L35.0 45.5 L36.0 46.2 L36.9 46.9 L37.8 47.8 L38.6 48.6 L39.5 49.4 L40.4 50.1 L41.3 50.8 L42.2 51.5 L43.1 52.2 L44.0 52.8 L44.9 53.2 L45.8 53.5 L46.7 53.6 L47.6 53.6 L48.4 53.5 L49.3 53.2 L50.2 52.8 L51.1 52.2 L52.0 51.4 L52.8 50.4 L53.7 49.2 L54.6 47.9 L55.5 46.7 L56.5 45.5 L57.5 44.3 L58.6 43.2 L59.7 42.0 L60.8 40.8 L62.0 39.7 L63.2 38.8 L64.5 38.0 L65.9 37.3 L67.4 36.6 L68.8 36.0 L70.1 35.5 L71.3 35.0 L72.3 34.6 L73.3 34.2 L74.1 33.9 L74.9 33.6 L75.6 33.3 L76.3 33.0 L76.9 32.6 L77.3 32.2 L77.7 31.8 L78.1 31.4 L78.5 30.9 L79.0 30.5 L79.5 30.1 L80.1 29.7 L80.6 29.3 L81.2 28.9 L81.9 28.5 L82.8 27.9 L83.8 27.2 L85.1 26.4 L86.4 25.5 L87.7 24.6 L89.0 23.8 L90.2 23.2 L91.3 22.7 L92.4 22.3 L93.5 22.0 L94.5 21.8 L95.3 21.6 L95.9 21.4" stroke="url(#g2)" stroke-width="2.10"/>
<path d="M28.6 45.5 L29.3 45.7 L30.2 45.9 L31.4 46.2 L32.6 46.6 L33.8 47.0 L35.0 47.5 L36.1 48.1 L37.2 48.9 L38.4 49.7 L39.5 50.5 L40.7 51.4 L41.8 52.2 L42.9 53.0 L44.0 53.8 L45.2 54.6 L46.3 55.4 L47.4 56.2 L48.5 56.9 L49.6 57.6 L50.7 58.4 L51.9 59.1 L53.0 59.8 L54.1 60.4 L55.2 60.9 L56.3 61.3 L57.3 61.6 L58.4 61.8 L59.5 61.9 L60.6 62.0 L61.9 62.2 L63.4 62.4 L65.0 62.5 L66.7 62.6 L68.4 62.7 L70.0 62.8 L71.3 62.9 L72.4 62.9 L73.3 62.9 L74.0 62.9 L74.7 62.8 L75.4 62.8 L76.0 62.8 L76.5 62.8 L76.9 62.7 L77.3 62.7 L77.7 62.7 L78.2 62.8 L79.1 63.0 L80.3 63.3 L81.8 63.8 L83.4 64.3 L85.1 64.8 L86.8 65.3 L88.3 65.8 L89.7 66.3 L91.2 66.7 L92.7 67.2 L94.0 67.6 L95.1 67.9 L95.9 68.2" stroke="#7bff7b" stroke-width="2.10"/>
<path d="M28.6 46.8 L29.3 47.1 L30.3 47.4 L31.5 47.8 L32.7 48.3 L33.9 48.9 L35.0 49.5 L36.0 50.2 L36.9 51.1 L37.8 52.0 L38.6 52.9 L39.5 53.9 L40.4 54.8 L41.3 55.7 L42.3 56.7 L43.2 57.7 L44.1 58.6 L45.0 59.5 L45.8 60.2 L46.5 60.8 L47.2 61.4 L47.8 61.9 L48.4 62.3 L49.1 62.6 L49.8 62.9 L50.6 63.1 L51.4 63.2 L52.3 63.3 L53.3 63.3 L54.2 63.1 L55.2 62.9 L56.3 62.5 L57.4 62.0 L58.6 61.4 L59.7 60.7 L60.8 60.1 L61.9 59.5 L62.9 59.0 L63.8 58.5 L64.7 58.0 L65.6 57.6 L66.4 57.2 L67.2 56.9 L67.9 56.7 L68.6 56.6 L69.2 56.5 L69.8 56.4 L70.5 56.3 L71.3 56.2 L72.2 56.0 L73.1 55.9 L74.0 55.8 L75.1 55.5 L76.1 55.2 L77.2 54.7 L78.3 54.0 L79.6 53.1 L80.8 52.2 L82.1 51.1 L83.3 50.1 L84.6 49.1 L85.9 48.1 L87.2 47.1 L88.5 46.0 L89.8 45.1 L91.0 44.2 L92.0 43.6 L92.9 43.2 L93.7 43.0 L94.4 42.9 L95.0 42.9 L95.5 42.9 L95.9 42.9" stroke="url(#g4)" stroke-width="2.10"/>
<path d="M71.3 57.4 L71.9 57.3 L72.8 57.2 L73.8 57.0 L74.9 56.8 L76.1 56.5 L77.2 56.0 L78.3 55.3 L79.6 54.5 L80.8 53.5 L82.1 52.5 L83.3 51.5 L84.6 50.5 L85.9 49.5 L87.2 48.5 L88.5 47.4 L89.8 46.5 L91.0 45.6 L92.0 45.0 L92.9 44.6 L93.7 44.4 L94.4 44.3 L95.0 44.3 L95.5 44.3 L95.9 44.3" stroke="url(#g5)" stroke-width="2.10"/>
<path d="M82.8 29.2 L83.6 28.7 L84.8 27.9 L86.1 27.0 L87.6 26.0 L89.0 25.2 L90.2 24.5 L91.3 24.0 L92.4 23.6 L93.5 23.3 L94.5 23.1 L95.3 22.9 L95.9 22.7" stroke="url(#g6)" stroke-width="2.10"/>
<path d="M29.1 95.7 L29.9 95.7 L30.9 95.7 L32.2 95.7 L33.6 95.8 L34.9 95.9 L36.2 96.2 L37.4 96.6 L38.6 97.1 L39.9 97.7 L41.1 98.4 L42.3 99.1 L43.4 99.8 L44.5 100.5 L45.6 101.4 L46.6 102.2 L47.6 103.0 L48.6 103.8 L49.5 104.4 L50.4 104.9 L51.2 105.4 L52.0 105.8 L52.9 106.1 L53.7 106.3 L54.6 106.4 L55.6 106.3 L56.6 106.1 L57.6 105.7 L58.7 105.3 L59.8 104.8 L60.8 104.4 L61.8 103.9 L62.9 103.4 L64.0 102.8 L65.0 102.2 L66.0 101.7 L66.9 101.3 L67.7 101.1 L68.4 101.1 L69.0 101.1 L69.6 101.2 L70.3 101.1 L71.0 100.8 L71.8 100.3 L72.6 99.6 L73.4 98.8 L74.3 98.0 L75.3 97.2 L76.4 96.5 L77.6 96.0 L78.9 95.5 L80.3 95.0 L81.8 94.6 L83.3 94.2 L84.9 93.7 L86.7 93.1 L88.8 92.5 L90.9 91.8 L93.0 91.1 L94.7 90.6 L95.9 90.2" stroke="url(#g7)" stroke-width="2.10"/>
<path d="M71.0 101.2 L71.6 100.8 L72.3 100.2 L73.2 99.5 L74.2 98.8 L75.3 98.2 L76.4 97.6 L77.6 97.2 L78.9 96.8 L80.3 96.5 L81.8 96.2 L83.3 95.9 L84.9 95.5 L86.7 95.0 L88.8 94.4 L90.9 93.8 L93.0 93.2 L94.7 92.7 L95.9 92.3" stroke="url(#g8)" stroke-width="2.10"/>
<path d="M29.1 106.9 L29.9 106.8 L30.9 106.7 L32.2 106.6 L33.6 106.4 L34.9 106.4 L36.2 106.4 L37.4 106.5 L38.6 106.7 L39.8 107.0 L41.0 107.3 L42.2 107.6 L43.4 108.0 L44.6 108.5 L45.8 109.1 L47.0 109.8 L48.2 110.4 L49.4 110.9 L50.5 111.0 L51.6 110.8 L52.6 110.3 L53.5 109.6 L54.5 108.9 L55.6 108.1 L56.7 107.4 L58.0 106.7 L59.4 105.9 L60.8 105.2 L62.2 104.4 L63.6 103.8 L64.9 103.3 L66.0 102.9 L67.1 102.5 L68.1 102.2 L69.1 102.1 L70.0 102.2 L71.0 102.6 L71.9 103.3 L72.8 104.3 L73.7 105.5 L74.6 106.9 L75.5 108.4 L76.4 109.9 L77.4 111.6 L78.4 113.5 L79.4 115.5 L80.4 117.5 L81.3 119.4 L82.1 121.2 L82.8 122.8 L83.4 124.2 L83.9 125.6 L84.4 127.0 L84.9 128.4 L85.5 130.0 L86.2 131.8 L86.9 133.8 L87.7 135.9 L88.4 137.8 L89.3 139.6 L90.1 141.0 L91.1 142.0 L92.1 142.7 L93.2 143.2 L94.3 143.5 L95.2 143.8 L95.8 144.0" stroke="url(#g9)" stroke-width="2.10"/>
<path d="M29.1 110.0 L29.9 110.2 L30.9 110.5 L32.2 110.9 L33.6 111.4 L34.9 111.9 L36.2 112.5 L37.4 113.2 L38.6 114.1 L39.8 115.0 L41.0 116.0 L42.2 117.0 L43.4 118.0 L44.6 119.0 L45.7 120.1 L46.9 121.1 L48.1 122.2 L49.3 123.3 L50.5 124.3 L51.8 125.3 L53.2 126.3 L54.5 127.4 L55.9 128.3 L57.3 129.2 L58.7 130.0 L60.1 130.7 L61.6 131.3 L63.1 131.8 L64.5 132.2 L65.8 132.6 L66.9 133.0 L67.7 133.3 L68.3 133.5 L68.8 133.6 L69.3 133.7 L70.0 133.8 L71.0 134.0 L72.4 134.2 L74.1 134.4 L76.0 134.7 L77.9 134.9 L79.7 135.1 L81.3 135.3 L82.6 135.5 L83.8 135.7 L84.8 135.8 L85.8 136.0 L86.9 136.1 L88.0 136.2 L89.3 136.3 L90.8 136.4 L92.4 136.4 L93.8 136.4 L95.0 136.5 L95.9 136.5" stroke="url(#g10)" stroke-width="2.10"/>
<path d="M79.0 135.0 L79.5 135.1 L80.3 135.3 L81.2 135.5 L82.1 135.7 L83.1 136.0 L84.0 136.3 L84.8 136.6 L85.6 137.0 L86.4 137.4 L87.2 137.8 L88.1 138.2 L89.0 138.6 L90.1 138.9 L91.4 139.2 L92.8 139.5 L94.0 139.8 L95.1 140.0 L95.9 140.2" stroke="url(#g11)" stroke-width="2.10"/>
<path d="M29.1 119.7 L29.9 120.0 L31.0 120.6 L32.3 121.2 L33.6 121.7 L35.0 122.1 L36.2 122.3 L37.3 122.2 L38.3 121.9 L39.3 121.5 L40.3 120.9 L41.3 120.3 L42.4 119.7 L43.6 118.9 L44.8 118.0 L46.1 116.9 L47.4 115.9 L48.5 115.1 L49.5 114.6 L50.2 114.4 L50.7 114.4 L51.0 114.6 L51.4 114.8 L51.9 115.2 L52.6 115.6 L53.6 116.1 L54.7 116.7 L55.9 117.4 L57.2 118.1 L58.5 118.7 L59.7 119.2 L60.9 119.6 L62.2 119.9 L63.5 120.2 L64.7 120.4 L65.9 120.6 L66.9 120.7 L67.7 120.8 L68.3 120.8 L68.9 120.8 L69.4 120.7 L70.1 120.7 L71.0 120.7 L72.1 120.7 L73.4 120.7 L74.9 120.7 L76.3 120.8 L77.8 120.8 L79.3 120.9 L80.7 121.0 L82.2 121.2 L83.7 121.4 L85.2 121.6 L86.6 121.8 L88.0 122.0 L89.4 122.3 L90.9 122.6 L92.4 122.9 L93.7 123.2 L94.9 123.5 L95.7 123.7" stroke="url(#g12)" stroke-width="2.10"/>
<path d="M29.1 124.3 L29.9 124.6 L31.0 125.0 L32.3 125.5 L33.6 126.0 L35.0 126.7 L36.2 127.4 L37.3 128.2 L38.4 129.2 L39.5 130.3 L40.5 131.3 L41.5 132.4 L42.4 133.5 L43.2 134.5 L43.9 135.6 L44.6 136.6 L45.2 137.7 L45.8 138.7 L46.4 139.7 L47.0 140.7 L47.6 141.6 L48.1 142.5 L48.7 143.4 L49.3 144.3 L50.0 145.2 L50.7 146.2 L51.5 147.3 L52.2 148.4 L53.0 149.4 L53.9 150.2 L54.8 150.8 L55.7 151.1 L56.7 151.1 L57.6 150.9 L58.7 150.6 L59.8 150.4 L61.1 150.3 L62.5 150.3 L64.0 150.3 L65.6 150.4 L67.3 150.5 L69.1 150.5 L70.8 150.4 L72.6 150.2 L74.5 150.0 L76.5 149.8 L78.5 149.5 L80.3 149.2 L81.9 149.0 L83.3 148.8 L84.5 148.5 L85.7 148.2 L86.7 148.0 L87.8 148.0 L88.9 148.3 L90.1 148.9 L91.5 149.9 L92.8 151.1 L94.0 152.2 L95.1 153.2 L95.8 153.9" stroke="url(#g13)" stroke-width="2.10"/>
<path d="M29.1 125.5 L29.9 125.8 L31.0 126.2 L32.3 126.6 L33.6 127.2 L35.0 127.8 L36.2 128.5 L37.3 129.3 L38.4 130.3 L39.5 131.3 L40.5 132.4 L41.5 133.5 L42.4 134.5 L43.2 135.5 L43.9 136.5 L44.6 137.5 L45.2 138.5 L45.8 139.5 L46.4 140.5 L47.0 141.4 L47.6 142.4 L48.1 143.3 L48.7 144.2 L49.3 145.1 L50.0 146.0 L50.7 146.9 L51.5 147.8 L52.2 148.7 L53.0 149.6 L53.9 150.5 L54.8 151.5 L55.7 152.5 L56.7 153.6 L57.6 154.7 L58.7 155.9 L59.8 157.0 L61.1 158.0 L62.5 159.0 L64.1 160.1 L65.8 161.1 L67.5 162.0 L69.1 162.9 L70.7 163.6 L72.2 164.2 L73.5 164.6 L74.9 164.9 L76.2 165.2 L77.6 165.4 L79.1 165.7 L80.7 166.0 L82.4 166.2 L84.1 166.4 L85.8 166.6 L87.4 166.8 L88.9 167.0 L90.3 167.3 L91.7 167.5 L93.0 167.8 L94.1 168.1 L95.1 168.3 L95.8 168.5" stroke="url(#g14)" stroke-width="2.10"/>
<path d="M79.1 165.5 L80.2 165.4 L81.7 165.4 L83.6 165.3 L85.5 165.1 L87.3 164.9 L88.9 164.5 L90.3 163.9 L91.7 163.2 L93.0 162.3 L94.1 161.4 L95.1 160.7 L95.8 160.2" stroke="url(#g15)" stroke-width="2.10"/>
<path d="M29.2 175.2 L30.2 174.7 L31.6 173.9 L33.2 173.0 L35.1 172.1 L36.9 171.0 L38.8 170.0 L40.7 168.8 L42.7 167.3 L44.9 165.7 L47.0 164.3 L49.0 163.3 L50.8 163.0 L52.4 163.4 L53.9 164.5 L55.3 166.0 L56.7 167.6 L58.0 169.3 L59.5 170.7 L61.1 172.0 L62.9 173.4 L64.7 174.7 L66.4 176.0 L67.9 177.1 L69.1 177.9 L69.9 178.4 L70.2 178.8 L70.4 178.9 L70.6 178.9 L70.9 178.8 L71.5 178.7 L72.4 178.5 L73.6 178.2 L74.8 177.8 L76.2 177.3 L77.6 176.8 L79.1 176.2 L80.6 175.6 L82.3 174.9 L84.0 174.1 L85.8 173.4 L87.4 172.6 L88.9 172.0 L90.3 171.4 L91.7 170.9 L93.0 170.3 L94.1 169.9 L95.1 169.5 L95.8 169.2" stroke="#7bff7b" stroke-width="2.10"/>
<path d="M95.9 21.4 L96.9 21.7 L98.3 22.1 L100.0 22.6 L101.8 23.1 L103.6 23.6 L105.1 24.2 L106.4 24.8 L107.7 25.4 L109.0 26.0 L110.2 26.7 L111.4 27.3 L112.6 27.9 L113.8 28.4 L115.1 28.8 L116.3 29.2 L117.5 29.7 L118.8 30.1 L120.0 30.7 L121.2 31.3 L122.5 32.0 L123.7 32.8 L124.9 33.6 L126.2 34.4 L127.4 35.3 L128.7 36.3 L129.9 37.3 L131.2 38.4 L132.5 39.5 L133.7 40.5 L134.8 41.3 L135.9 42.0 L136.9 42.5 L137.8 42.9 L138.7 43.3 L139.6 43.6 L140.5 43.9 L141.4 44.1 L142.3 44.3 L143.2 44.4 L144.0 44.4 L144.7 44.5 L145.2 44.5" stroke="url(#g17)" stroke-width="2.10"/>
<path d="M194.5 21.4 L193.5 21.7 L192.1 22.1 L190.4 22.6 L188.6 23.1 L186.8 23.6 L185.3 24.2 L184.0 24.8 L182.7 25.4 L181.4 26.0 L180.2 26.7 L179.0 27.3 L177.8 27.9 L176.6 28.4 L175.3 28.8 L174.1 29.2 L172.9 29.7 L171.6 30.1 L170.4 30.7 L169.2 31.3 L167.9 32.0 L166.7 32.8 L165.5 33.6 L164.2 34.4 L163.0 35.3 L161.7 36.3 L160.5 37.3 L159.2 38.4 L157.9 39.5 L156.7 40.5 L155.6 41.3 L154.5 42.0 L153.5 42.5 L152.6 42.9 L151.7 43.3 L150.8 43.6 L149.9 43.9 L149.0 44.1 L148.1 44.3 L147.2 44.4 L146.4 44.4 L145.7 44.5 L145.2 44.5" stroke="url(#g18)" stroke-width="2.10"/>
<path d="M95.9 43.3 L96.5 43.6 L97.3 44.0 L98.3 44.5 L99.4 45.1 L100.4 45.7 L101.4 46.5 L102.3 47.4 L103.3 48.5 L104.2 49.7 L105.1 50.9 L106.1 52.0 L107.0 53.0 L107.9 53.8 L108.8 54.5 L109.7 55.2 L110.6 55.8 L111.6 56.3 L112.6 56.7 L113.7 57.0 L114.9 57.3 L116.2 57.5 L117.5 57.6 L118.7 57.7 L120.0 57.6 L121.2 57.5 L122.5 57.4 L123.7 57.2 L124.9 56.8 L126.2 56.3 L127.4 55.5 L128.7 54.3 L129.9 52.7 L131.2 51.0 L132.5 49.2 L133.7 47.5 L134.8 46.2 L135.9 45.2 L136.9 44.4 L137.8 43.7 L138.7 43.1 L139.6 42.7 L140.5 42.3 L141.4 42.0 L142.3 41.9 L143.2 41.8 L144.0 41.8 L144.7 41.8 L145.2 41.8" stroke="url(#g19)" stroke-width="2.10"/>
<path d="M194.5 43.3 L193.9 43.6 L193.1 44.0 L192.1 44.5 L191.0 45.1 L190.0 45.7 L189.0 46.5 L188.1 47.4 L187.1 48.5 L186.2 49.7 L185.3 50.9 L184.3 52.0 L183.4 53.0 L182.5 53.8 L181.6 54.5 L180.7 55.2 L179.8 55.8 L178.8 56.3 L177.8 56.7 L176.7 57.0 L175.5 57.3 L174.2 57.5 L172.9 57.6 L171.7 57.7 L170.4 57.6 L169.2 57.5 L167.9 57.4 L166.7 57.2 L165.5 56.8 L164.2 56.3 L163.0 55.5 L161.7 54.3 L160.5 52.7 L159.2 51.0 L157.9 49.2 L156.7 47.5 L155.6 46.2 L154.5 45.2 L153.5 44.4 L152.6 43.7 L151.7 43.1 L150.8 42.7 L149.9 42.3 L149.0 42.0 L148.1 41.9 L147.2 41.8 L146.4 41.8 L145.7 41.8 L145.2 41.8" stroke="url(#g20)" stroke-width="2.10"/>
<path d="M95.9 52.6 L96.9 52.4 L98.3 52.1 L100.0 51.8 L101.8 51.5 L103.6 51.2 L105.1 51.1 L106.4 51.1 L107.7 51.1 L108.8 51.2 L110.0 51.3 L111.3 51.6 L112.6 52.0 L114.1 52.6 L115.7 53.4 L117.3 54.3 L118.9 55.3 L120.5 56.1 L121.8 56.7 L122.9 57.2 L123.9 57.6 L124.7 57.9 L125.5 58.1 L126.4 58.0 L127.4 57.8 L128.5 57.2 L129.8 56.4 L131.1 55.3 L132.4 54.2 L133.6 53.1 L134.8 52.2 L135.9 51.4 L136.9 50.6 L137.8 49.9 L138.7 49.2 L139.6 48.7 L140.5 48.2 L141.4 47.9 L142.3 47.7 L143.2 47.7 L144.0 47.6 L144.7 47.6 L145.2 47.6" stroke="url(#g21)" stroke-width="2.10"/>
<path d="M194.5 52.6 L193.5 52.4 L192.1 52.1 L190.4 51.8 L188.6 51.5 L186.8 51.2 L185.3 51.1 L184.0 51.1 L182.7 51.1 L181.5 51.2 L180.4 51.3 L179.1 51.6 L177.8 52.0 L176.3 52.6 L174.7 53.4 L173.1 54.3 L171.5 55.3 L169.9 56.1 L168.6 56.7 L167.5 57.2 L166.5 57.6 L165.7 57.9 L164.9 58.1 L164.0 58.0 L163.0 57.8 L161.9 57.2 L160.6 56.4 L159.3 55.3 L158.0 54.2 L156.8 53.1 L155.6 52.2 L154.5 51.4 L153.5 50.6 L152.6 49.9 L151.7 49.2 L150.8 48.7 L149.9 48.2 L149.0 47.9 L148.1 47.7 L147.2 47.7 L146.4 47.6 L145.7 47.6 L145.2 47.6" stroke="url(#g22)" stroke-width="2.10"/>
<path d="M95.9 68.2 L96.7 67.8 L97.9 67.3 L99.3 66.8 L100.7 66.1 L102.1 65.5 L103.3 65.0 L104.3 64.5 L105.3 64.0 L106.2 63.5 L107.0 63.0 L107.9 62.7 L108.8 62.6 L109.7 62.7 L110.7 63.1 L111.6 63.5 L112.5 64.1 L113.5 64.6 L114.4 65.0 L115.3 65.4 L116.2 65.9 L117.1 66.4 L118.0 66.8 L119.0 67.0 L120.0 66.9 L121.1 66.6 L122.3 66.2 L123.6 65.6 L124.9 64.8 L126.1 63.7 L127.4 62.5 L128.7 60.9 L129.9 58.9 L131.2 56.7 L132.5 54.4 L133.7 52.3 L134.8 50.5 L135.9 49.0 L136.9 47.6 L137.8 46.3 L138.7 45.2 L139.6 44.3 L140.5 43.5 L141.4 43.0 L142.3 42.7 L143.2 42.6 L144.0 42.6 L144.7 42.6 L145.2 42.6" stroke="#7bff7b" stroke-width="2.10"/>
<path d="M194.5 68.2 L193.7 67.8 L192.5 67.3 L191.1 66.8 L189.7 66.1 L188.3 65.5 L187.1 65.0 L186.1 64.5 L185.1 64.0 L184.2 63.5 L183.4 63.0 L182.5 62.7 L181.6 62.6 L180.7 62.7 L179.7 63.1 L178.8 63.5 L177.9 64.1 L176.9 64.6 L176.0 65.0 L175.1 65.4 L174.2 65.9 L173.3 66.4 L172.4 66.8 L171.4 67.0 L170.4 66.9 L169.3 66.6 L168.1 66.2 L166.8 65.6 L165.5 64.8 L164.3 63.7 L163.0 62.5 L161.7 60.9 L160.5 58.9 L159.2 56.7 L157.9 54.4 L156.7 52.3 L155.6 50.5 L154.5 49.0 L153.5 47.6 L152.6 46.3 L151.7 45.2 L150.8 44.3 L149.9 43.5 L149.0 43.0 L148.1 42.7 L147.2 42.6 L146.4 42.6 L145.7 42.6 L145.2 42.6" stroke="#7bff7b" stroke-width="2.10"/>
<path d="M95.9 44.5 L96.5 44.8 L97.3 45.2 L98.3 45.8 L99.4 46.3 L100.4 47.0 L101.4 47.8 L102.3 48.7 L103.3 49.8 L104.2 51.0 L105.1 52.2 L106.1 53.3 L107.0 54.2 L108.0 55.0 L109.1 55.7 L110.2 56.3 L111.1 56.8 L112.0 57.3 L112.6 57.6" stroke="url(#g25)" stroke-width="2.10"/>
<path d="M194.5 44.5 L193.9 44.8 L193.1 45.2 L192.1 45.8 L191.0 46.3 L190.0 47.0 L189.0 47.8 L188.1 48.7 L187.1 49.8 L186.2 51.0 L185.3 52.2 L184.3 53.3 L183.4 54.2 L182.4 55.0 L181.3 55.7 L180.2 56.3 L179.3 56.8 L178.4 57.3 L177.8 57.6" stroke="url(#g26)" stroke-width="2.10"/>
<path d="M95.9 22.7 L96.9 23.0 L98.3 23.4 L100.0 23.9 L101.8 24.4 L103.6 25.0 L105.1 25.5 L106.5 26.1 L108.0 26.7 L109.4 27.4 L110.7 28.1 L111.8 28.6 L112.6 29.0" stroke="url(#g27)" stroke-width="2.10"/>
<path d="M194.5 22.7 L193.5 23.0 L192.1 23.4 L190.4 23.9 L188.6 24.4 L186.8 25.0 L185.3 25.5 L183.9 26.1 L182.4 26.7 L181.0 27.4 L179.7 28.1 L178.6 28.6 L177.8 29.0" stroke="url(#g28)" stroke-width="2.10"/>
<path d="M95.9 90.2 L96.9 90.6 L98.2 91.3 L99.7 92.0 L101.4 92.8 L103.1 93.6 L104.6 94.4 L106.0 95.2 L107.5 96.1 L108.9 97.0 L110.3 97.9 L111.7 98.7 L113.0 99.4 L114.2 100.1 L115.4 100.7 L116.5 101.3 L117.6 101.8 L118.8 102.1 L120.0 102.2 L121.3 102.0 L122.7 101.5 L124.1 100.8 L125.5 100.0 L127.0 99.3 L128.5 98.7 L130.1 98.2 L131.8 97.7 L133.5 97.2 L135.2 96.8 L136.8 96.4 L138.3 96.1 L139.7 95.9 L141.1 95.8 L142.4 95.8 L143.5 95.8 L144.5 95.8 L145.2 95.8" stroke="url(#g29)" stroke-width="2.10"/>
<path d="M194.5 90.2 L193.5 90.6 L192.2 91.3 L190.7 92.0 L189.0 92.8 L187.3 93.6 L185.8 94.4 L184.4 95.2 L182.9 96.1 L181.5 97.0 L180.1 97.9 L178.7 98.7 L177.4 99.4 L176.2 100.1 L175.0 100.7 L173.9 101.3 L172.8 101.8 L171.6 102.1 L170.4 102.2 L169.1 102.0 L167.7 101.5 L166.3 100.8 L164.9 100.0 L163.4 99.3 L161.9 98.7 L160.3 98.2 L158.6 97.7 L156.9 97.2 L155.2 96.8 L153.6 96.4 L152.1 96.1 L150.7 95.9 L149.3 95.8 L148.0 95.8 L146.9 95.8 L145.9 95.8 L145.2 95.8" stroke="url(#g30)" stroke-width="2.10"/>
<path d="M95.9 92.3 L96.9 92.7 L98.2 93.3 L99.7 94.0 L101.4 94.8 L103.1 95.6 L104.6 96.4 L106.0 97.2 L107.5 98.1 L108.9 99.0 L110.3 99.9 L111.7 100.7 L113.0 101.4 L114.2 102.0 L115.4 102.6 L116.5 103.2 L117.6 103.6 L118.8 103.8 L120.0 103.8 L121.3 103.5 L122.7 103.0 L124.1 102.2 L125.5 101.5 L127.0 100.7 L128.5 100.0 L130.1 99.4 L131.8 98.8 L133.5 98.2 L135.2 97.6 L136.8 97.2 L138.3 96.8 L139.7 96.6 L141.1 96.4 L142.4 96.3 L143.5 96.3 L144.5 96.3 L145.2 96.3" stroke="url(#g31)" stroke-width="2.10"/>
<path d="M194.5 92.3 L193.5 92.7 L192.2 93.3 L190.7 94.0 L189.0 94.8 L187.3 95.6 L185.8 96.4 L184.4 97.2 L182.9 98.1 L181.5 99.0 L180.1 99.9 L178.7 100.7 L177.4 101.4 L176.2 102.0 L175.0 102.6 L173.9 103.2 L172.8 103.6 L171.6 103.8 L170.4 103.8 L169.1 103.5 L167.7 103.0 L166.3 102.2 L164.9 101.5 L163.4 100.7 L161.9 100.0 L160.3 99.4 L158.6 98.8 L156.9 98.2 L155.2 97.6 L153.6 97.2 L152.1 96.8 L150.7 96.6 L149.3 96.4 L148.0 96.3 L146.9 96.3 L145.9 96.3 L145.2 96.3" stroke="url(#g32)" stroke-width="2.10"/>
<path d="M95.7 123.7 L96.7 123.3 L98.0 122.8 L99.6 122.2 L101.3 121.5 L103.0 120.7 L104.6 119.8 L106.0 118.8 L107.4 117.6 L108.8 116.4 L110.2 115.1 L111.6 113.9 L113.0 112.7 L114.4 111.6 L115.8 110.4 L117.3 109.3 L118.7 108.2 L120.1 107.2 L121.4 106.4 L122.6 105.7 L123.8 105.2 L124.9 104.7 L126.0 104.4 L127.2 104.1 L128.5 104.0 L130.0 104.0 L131.7 104.2 L133.4 104.6 L135.1 105.0 L136.8 105.3 L138.3 105.7 L139.7 106.1 L141.1 106.4 L142.4 106.9 L143.5 107.2 L144.5 107.6 L145.2 107.8" stroke="url(#g33)" stroke-width="2.10"/>
<path d="M194.7 123.7 L193.7 123.3 L192.4 122.8 L190.8 122.2 L189.1 121.5 L187.4 120.7 L185.8 119.8 L184.4 118.8 L183.0 117.6 L181.6 116.4 L180.2 115.1 L178.8 113.9 L177.4 112.7 L176.0 111.6 L174.6 110.4 L173.1 109.3 L171.7 108.2 L170.3 107.2 L169.0 106.4 L167.8 105.7 L166.6 105.2 L165.5 104.7 L164.4 104.4 L163.2 104.1 L161.9 104.0 L160.4 104.0 L158.7 104.2 L157.0 104.6 L155.3 105.0 L153.6 105.3 L152.1 105.7 L150.7 106.1 L149.3 106.4 L148.0 106.9 L146.9 107.2 L145.9 107.6 L145.2 107.8" stroke="url(#g34)" stroke-width="2.10"/>
<path d="M95.7 125.0 L96.7 124.6 L98.0 124.1 L99.6 123.5 L101.3 122.8 L103.0 122.1 L104.6 121.2 L106.0 120.2 L107.4 119.1 L108.8 117.8 L110.2 116.6 L111.6 115.4 L113.0 114.2 L114.4 113.1 L115.8 111.9 L117.3 110.8 L118.7 109.8 L120.1 108.8 L121.4 108.0 L122.6 107.3 L123.8 106.8 L124.9 106.3 L126.0 106.0 L127.2 105.7 L128.5 105.6 L130.0 105.6 L131.7 105.9 L133.4 106.2 L135.1 106.6 L136.8 107.0 L138.3 107.3 L139.7 107.6 L141.1 108.0 L142.4 108.4 L143.5 108.7 L144.5 109.0 L145.2 109.2" stroke="url(#g35)" stroke-width="2.10"/>
<path d="M194.7 125.0 L193.7 124.6 L192.4 124.1 L190.8 123.5 L189.1 122.8 L187.4 122.1 L185.8 121.2 L184.4 120.2 L183.0 119.1 L181.6 117.8 L180.2 116.6 L178.8 115.4 L177.4 114.2 L176.0 113.1 L174.6 111.9 L173.1 110.8 L171.7 109.8 L170.3 108.8 L169.0 108.0 L167.8 107.3 L166.6 106.8 L165.5 106.3 L164.4 106.0 L163.2 105.7 L161.9 105.6 L160.4 105.6 L158.7 105.9 L157.0 106.2 L155.3 106.6 L153.6 107.0 L152.1 107.3 L150.7 107.6 L149.3 108.0 L148.0 108.4 L146.9 108.7 L145.9 109.0 L145.2 109.2" stroke="url(#g36)" stroke-width="2.10"/>
<path d="M95.8 144.0 L96.8 143.7 L98.2 143.4 L99.8 142.9 L101.5 142.4 L103.0 141.7 L104.3 141.0 L105.2 140.2 L106.0 139.2 L106.6 138.2 L107.2 137.1 L107.8 135.8 L108.6 134.5 L109.5 133.0 L110.5 131.2 L111.6 129.4 L112.7 127.5 L113.9 125.7 L115.1 124.1 L116.4 122.6 L117.9 121.0 L119.4 119.5 L120.9 118.2 L122.3 117.1 L123.5 116.4 L124.5 116.1 L125.3 116.2 L126.0 116.6 L126.7 117.0 L127.3 117.6 L128.0 118.0 L128.6 118.4 L129.0 118.9 L129.5 119.4 L130.0 119.9 L130.8 120.3 L132.0 120.6 L133.8 120.8 L136.2 120.8 L138.8 120.8 L141.4 120.7 L143.7 120.6 L145.2 120.6" stroke="url(#g37)" stroke-width="2.10"/>
<path d="M194.6 144.0 L193.6 143.7 L192.2 143.4 L190.6 142.9 L188.9 142.4 L187.4 141.7 L186.1 141.0 L185.2 140.2 L184.4 139.2 L183.8 138.2 L183.2 137.1 L182.6 135.8 L181.8 134.5 L180.9 133.0 L179.9 131.2 L178.8 129.4 L177.7 127.5 L176.5 125.7 L175.3 124.1 L174.0 122.6 L172.5 121.0 L171.0 119.5 L169.5 118.2 L168.1 117.1 L166.9 116.4 L165.9 116.1 L165.1 116.2 L164.4 116.6 L163.7 117.0 L163.1 117.6 L162.4 118.0 L161.8 118.4 L161.4 118.9 L160.9 119.4 L160.4 119.9 L159.6 120.3 L158.4 120.6 L156.6 120.8 L154.2 120.8 L151.5 120.8 L149.0 120.7 L146.7 120.6 L145.2 120.6" stroke="url(#g38)" stroke-width="2.10"/>
<path d="M95.9 136.5 L96.8 136.5 L98.0 136.5 L99.5 136.6 L101.0 136.6 L102.6 136.7 L104.0 136.8 L105.4 137.0 L106.8 137.2 L108.2 137.4 L109.6 137.6 L110.8 137.8 L112.0 138.0 L113.0 138.2 L113.9 138.4 L114.6 138.5 L115.4 138.6 L116.2 138.6 L117.0 138.3 L117.9 137.8 L118.8 137.0 L119.7 136.2 L120.7 135.2 L121.7 134.2 L122.8 133.3 L124.0 132.4 L125.4 131.5 L126.8 130.5 L128.3 129.6 L129.7 128.7 L131.0 128.0 L132.2 127.4 L133.4 126.9 L134.6 126.5 L135.7 126.1 L136.8 125.8 L138.0 125.5 L139.3 125.3 L140.7 125.1 L142.0 125.0 L143.3 124.9 L144.4 124.9 L145.2 124.8" stroke="url(#g39)" stroke-width="2.10"/>
<path d="M194.5 136.5 L193.6 136.5 L192.4 136.5 L190.9 136.6 L189.4 136.6 L187.8 136.7 L186.4 136.8 L185.0 137.0 L183.6 137.2 L182.2 137.4 L180.8 137.6 L179.6 137.8 L178.4 138.0 L177.4 138.2 L176.5 138.4 L175.8 138.5 L175.0 138.6 L174.2 138.6 L173.4 138.3 L172.5 137.8 L171.6 137.0 L170.7 136.2 L169.7 135.2 L168.7 134.2 L167.6 133.3 L166.4 132.4 L165.0 131.5 L163.6 130.5 L162.1 129.6 L160.7 128.7 L159.4 128.0 L158.2 127.4 L157.0 126.9 L155.8 126.5 L154.7 126.1 L153.6 125.8 L152.4 125.5 L151.1 125.3 L149.7 125.1 L148.4 125.0 L147.1 124.9 L146.0 124.9 L145.2 124.8" stroke="url(#g40)" stroke-width="2.10"/>
<path d="M95.9 140.2 L96.8 140.3 L98.0 140.3 L99.5 140.4 L101.0 140.5 L102.6 140.6 L104.0 140.6 L105.4 140.5 L106.8 140.4 L108.3 140.3 L109.6 140.1 L110.9 139.9 L112.0 139.8 L112.9 139.7 L113.6 139.6 L114.2 139.6 L114.8 139.5 L115.4 139.4 L116.0 139.2 L116.7 138.9 L117.5 138.5 L118.2 138.1 L119.0 137.6 L119.6 137.3 L120.0 137.0" stroke="url(#g41)" stroke-width="2.10"/>
<path d="M194.5 140.2 L193.6 140.3 L192.4 140.3 L190.9 140.4 L189.4 140.5 L187.8 140.6 L186.4 140.6 L185.0 140.5 L183.6 140.4 L182.1 140.3 L180.8 140.1 L179.5 139.9 L178.4 139.8 L177.5 139.7 L176.8 139.6 L176.1 139.6 L175.6 139.5 L175.0 139.4 L174.4 139.2 L173.7 138.9 L172.9 138.5 L172.1 138.1 L171.4 137.6 L170.8 137.3 L170.4 137.0" stroke="url(#g42)" stroke-width="2.10"/>
<path d="M95.8 153.9 L96.6 153.1 L97.6 151.9 L98.9 150.5 L100.2 149.1 L101.6 147.9 L102.8 147.0 L104.0 146.5 L105.1 146.2 L106.3 146.0 L107.4 146.1 L108.5 146.1 L109.7 146.3 L110.9 146.6 L112.1 147.1 L113.4 147.7 L114.6 148.2 L115.7 148.7 L116.7 149.0 L117.6 149.1 L118.3 149.2 L119.0 149.2 L119.6 149.0 L120.3 148.6 L121.0 148.0 L121.8 147.1 L122.6 146.0 L123.4 144.7 L124.2 143.2 L125.2 141.6 L126.4 140.0 L127.8 138.2 L129.4 136.1 L131.1 133.9 L132.8 131.7 L134.6 129.8 L136.2 128.3 L137.9 127.2 L139.6 126.4 L141.3 125.8 L142.9 125.4 L144.2 125.1 L145.2 124.8" stroke="url(#g43)" stroke-width="2.10"/>
<path d="M194.6 153.9 L193.8 153.1 L192.8 151.9 L191.5 150.5 L190.2 149.1 L188.8 147.9 L187.6 147.0 L186.4 146.5 L185.3 146.2 L184.1 146.0 L183.0 146.1 L181.9 146.1 L180.7 146.3 L179.5 146.6 L178.3 147.1 L177.0 147.7 L175.8 148.2 L174.7 148.7 L173.7 149.0 L172.8 149.1 L172.1 149.2 L171.4 149.2 L170.8 149.0 L170.1 148.6 L169.4 148.0 L168.6 147.1 L167.8 146.0 L167.0 144.7 L166.2 143.2 L165.2 141.6 L164.0 140.0 L162.6 138.2 L161.0 136.1 L159.3 133.9 L157.6 131.7 L155.8 129.8 L154.2 128.3 L152.5 127.2 L150.8 126.4 L149.1 125.8 L147.5 125.4 L146.2 125.1 L145.2 124.8" stroke="url(#g44)" stroke-width="2.10"/>
<path d="M95.8 168.5 L96.7 168.1 L98.1 167.7 L99.7 167.1 L101.3 166.4 L102.9 165.7 L104.2 165.0 L105.3 164.2 L106.2 163.4 L107.1 162.6 L108.0 161.6 L108.8 160.6 L109.7 159.5 L110.6 158.3 L111.6 156.9 L112.5 155.5 L113.4 154.0 L114.4 152.5 L115.3 151.1 L116.3 149.6 L117.3 148.1 L118.3 146.6 L119.2 145.2 L120.1 143.9 L120.9 142.8 L121.5 142.2 L121.9 141.9 L122.3 141.9 L122.6 141.7 L123.0 141.2 L123.6 140.0 L124.3 138.0 L125.2 135.4 L126.1 132.5 L127.1 129.4 L128.2 126.5 L129.2 124.1 L130.3 122.0 L131.4 120.2 L132.5 118.5 L133.7 116.9 L134.9 115.5 L136.2 114.3 L137.7 113.2 L139.4 112.3 L141.1 111.6 L142.8 111.0 L144.2 110.5 L145.2 110.1" stroke="url(#g45)" stroke-width="2.10"/>
<path d="M194.6 168.5 L193.7 168.1 L192.3 167.7 L190.7 167.1 L189.1 166.4 L187.5 165.7 L186.2 165.0 L185.1 164.2 L184.2 163.4 L183.3 162.6 L182.4 161.6 L181.6 160.6 L180.7 159.5 L179.8 158.3 L178.8 156.9 L177.9 155.5 L177.0 154.0 L176.0 152.5 L175.1 151.1 L174.1 149.6 L173.1 148.1 L172.1 146.6 L171.2 145.2 L170.3 143.9 L169.5 142.8 L168.9 142.2 L168.5 141.9 L168.1 141.9 L167.8 141.7 L167.4 141.2 L166.8 140.0 L166.1 138.0 L165.2 135.4 L164.3 132.5 L163.3 129.4 L162.2 126.5 L161.2 124.1 L160.1 122.0 L159.0 120.2 L157.9 118.5 L156.7 116.9 L155.5 115.5 L154.2 114.3 L152.7 113.2 L151.0 112.3 L149.3 111.6 L147.6 111.0 L146.2 110.5 L145.2 110.1" stroke="url(#g46)" stroke-width="2.10"/>
<path d="M95.8 160.2 L96.4 160.7 L97.3 161.5 L98.2 162.4 L99.3 163.4 L100.4 164.3 L101.4 165.0 L102.4 165.6 L103.5 166.2 L104.6 166.7 L105.5 167.1 L106.4 167.5 L107.0 167.8" stroke="url(#g47)" stroke-width="2.10"/>
<path d="M194.6 160.2 L194.0 160.7 L193.1 161.5 L192.1 162.4 L191.1 163.4 L190.0 164.3 L189.0 165.0 L188.0 165.6 L186.9 166.2 L185.8 166.7 L184.9 167.1 L184.0 167.5 L183.4 167.8" stroke="url(#g48)" stroke-width="2.10"/>
<path d="M95.8 169.2 L96.9 169.1 L98.4 168.9 L100.3 168.6 L102.2 168.4 L104.0 168.1 L105.6 167.8 L106.9 167.5 L108.1 167.2 L109.1 166.9 L110.2 166.6 L111.3 166.2 L112.5 165.7 L113.8 165.0 L115.2 164.2 L116.7 163.2 L118.1 162.4 L119.6 161.8 L120.9 161.6 L122.2 161.8 L123.4 162.4 L124.6 163.3 L125.7 164.2 L126.8 165.2 L128.0 166.0 L129.1 166.8 L130.2 167.5 L131.2 168.3 L132.3 169.1 L133.5 169.9 L134.8 170.6 L136.4 171.4 L138.4 172.2 L140.4 173.0 L142.4 173.7 L144.0 174.3 L145.2 174.8" stroke="#7bff7b" stroke-width="2.10"/>
<path d="M194.6 169.2 L193.5 169.1 L192.0 168.9 L190.1 168.6 L188.2 168.4 L186.4 168.1 L184.8 167.8 L183.5 167.5 L182.3 167.2 L181.3 166.9 L180.2 166.6 L179.1 166.2 L177.9 165.7 L176.6 165.0 L175.2 164.2 L173.7 163.2 L172.3 162.4 L170.8 161.8 L169.5 161.6 L168.2 161.8 L167.0 162.4 L165.8 163.3 L164.7 164.2 L163.6 165.2 L162.4 166.0 L161.3 166.8 L160.2 167.5 L159.2 168.3 L158.1 169.1 L156.9 169.9 L155.6 170.6 L154.0 171.4 L152.0 172.2 L150.0 173.0 L148.0 173.7 L146.4 174.3 L145.2 174.8" stroke="#7bff7b" stroke-width="2.10"/>
</g>
<g clip-path="url(#clipb)" fill="none" stroke-linecap="round" stroke-linejoin="round">
<path d="M224.6 41.7 L225.3 41.9 L226.2 42.2 L227.3 42.5 L228.5 42.8 L229.8 42.9 L231.0 42.8 L232.2 42.5 L233.5 41.9 L234.8 41.2 L236.1 40.5 L237.6 39.6 L239.1 38.8 L240.7 37.9 L242.5 36.8 L244.4 35.7 L246.2 34.6 L248.1 33.6 L249.8 32.7 L251.5 32.0 L253.1 31.3 L254.7 30.8 L256.2 30.3 L257.7 29.9 L259.2 29.6 L260.7 29.3 L262.1 29.1 L263.6 29.0 L264.9 28.9 L266.2 28.9 L267.3 29.1 L268.2 29.4 L269.1 29.9 L269.8 30.4 L270.4 31.0 L270.9 31.6 L271.5 32.2 L272.0 32.7 L272.4 33.2 L272.8 33.8 L273.2 34.3 L273.6 34.9 L274.0 35.5 L274.4 36.1 L274.9 36.7 L275.3 37.4 L275.8 38.1 L276.3 38.9 L277.0 39.9 L277.8 41.1 L278.6 42.5 L279.6 44.1 L280.6 45.6 L281.6 47.0 L282.5 48.2 L283.4 49.1 L284.4 49.9 L285.4 50.5 L286.3 51.1 L287.2 51.5 L288.0 51.9 L288.8 52.2 L289.6 52.4 L290.3 52.4 L290.9 52.5 L291.5 52.5 L291.9 52.5" stroke="url(#g51)" stroke-width="2.10"/>
<path d="M224.6 42.8 L225.3 43.1 L226.3 43.4 L227.5 43.9 L228.7 44.4 L229.9 44.9 L231.0 45.5 L232.0 46.2 L232.9 46.9 L233.8 47.8 L234.6 48.6 L235.5 49.4 L236.4 50.1 L237.3 50.8 L238.2 51.5 L239.1 52.2 L240.0 52.8 L240.9 53.2 L241.8 53.5 L242.7 53.6 L243.6 53.6 L244.4 53.5 L245.3 53.2 L246.2 52.8 L247.1 52.2 L248.0 51.4 L248.8 50.4 L249.7 49.2 L250.6 47.9 L251.5 46.7 L252.5 45.5 L253.5 44.3 L254.6 43.2 L255.7 42.0 L256.8 40.8 L258.0 39.7 L259.2 38.8 L260.5 38.0 L261.9 37.3 L263.4 36.6 L264.8 36.0 L266.1 35.5 L267.3 35.0 L268.3 34.6 L269.3 34.2 L270.1 33.9 L270.9 33.6 L271.6 33.3 L272.3 33.0 L272.9 32.6 L273.3 32.2 L273.7 31.8 L274.1 31.4 L274.5 30.9 L275.0 30.5 L275.5 30.1 L276.1 29.7 L276.6 29.3 L277.2 28.9 L277.9 28.5 L278.8 27.9 L279.8 27.2 L281.1 26.4 L282.4 25.5 L283.7 24.6 L285.0 23.8 L286.2 23.2 L287.3 22.7 L288.4 22.3 L289.5 22.0 L290.5 21.8 L291.3 21.6 L291.9 21.4" stroke="url(#g52)" stroke-width="2.10"/>
<path d="M224.6 45.5 L225.3 45.7 L226.2 45.9 L227.4 46.2 L228.6 46.6 L229.8 47.0 L231.0 47.5 L232.1 48.1 L233.2 48.9 L234.4 49.7 L235.5 50.5 L236.7 51.4 L237.8 52.2 L238.9 53.0 L240.0 53.8 L241.2 54.6 L242.3 55.4 L243.4 56.2 L244.5 56.9 L245.6 57.6 L246.7 58.4 L247.8 59.1 L249.0 59.8 L250.1 60.4 L251.2 60.9 L252.3 61.3 L253.3 61.6 L254.4 61.8 L255.5 61.9 L256.6 62.0 L257.9 62.2 L259.4 62.4 L261.0 62.5 L262.7 62.6 L264.4 62.7 L266.0 62.8 L267.3 62.9 L268.4 62.9 L269.3 62.9 L270.0 62.9 L270.7 62.8 L271.4 62.8 L272.0 62.8 L272.5 62.8 L272.9 62.7 L273.3 62.7 L273.7 62.7 L274.2 62.8 L275.1 63.0 L276.3 63.3 L277.8 63.8 L279.4 64.3 L281.1 64.8 L282.8 65.3 L284.3 65.8 L285.7 66.3 L287.2 66.7 L288.7 67.2 L290.0 67.6 L291.1 67.9 L291.9 68.2" stroke="url(#g53)" stroke-width="2.10"/>
<path d="M224.6 46.8 L225.3 47.1 L226.3 47.4 L227.5 47.8 L228.7 48.3 L229.9 48.9 L231.0 49.5 L232.0 50.2 L232.9 51.1 L233.8 52.0 L234.6 52.9 L235.5 53.9 L236.4 54.8 L237.3 55.7 L238.3 56.7 L239.2 57.7 L240.1 58.6 L241.0 59.5 L241.8 60.2 L242.5 60.8 L243.2 61.4 L243.8 61.9 L244.4 62.3 L245.1 62.6 L245.8 62.9 L246.6 63.1 L247.4 63.2 L248.3 63.3 L249.3 63.3 L250.2 63.1 L251.2 62.9 L252.3 62.5 L253.4 62.0 L254.6 61.4 L255.7 60.7 L256.8 60.1 L257.9 59.5 L258.9 59.0 L259.8 58.5 L260.7 58.0 L261.6 57.6 L262.4 57.2 L263.2 56.9 L263.9 56.7 L264.6 56.6 L265.2 56.5 L265.8 56.4 L266.5 56.3 L267.3 56.2 L268.2 56.0 L269.1 55.9 L270.0 55.8 L271.1 55.5 L272.1 55.2 L273.2 54.7 L274.3 54.0 L275.6 53.1 L276.8 52.2 L278.1 51.1 L279.3 50.1 L280.6 49.1 L281.9 48.1 L283.2 47.1 L284.5 46.0 L285.8 45.1 L287.0 44.2 L288.0 43.6 L288.9 43.2 L289.7 43.0 L290.4 42.9 L291.0 42.9 L291.5 42.9 L291.9 42.9" stroke="url(#g54)" stroke-width="2.10"/>
<path d="M267.3 57.4 L267.9 57.3 L268.8 57.2 L269.8 57.0 L270.9 56.8 L272.1 56.5 L273.2 56.0 L274.3 55.3 L275.6 54.5 L276.8 53.5 L278.1 52.5 L279.3 51.5 L280.6 50.5 L281.9 49.5 L283.2 48.5 L284.5 47.4 L285.8 46.5 L287.0 45.6 L288.0 45.0 L288.9 44.6 L289.7 44.4 L290.4 44.3 L291.0 44.3 L291.5 44.3 L291.9 44.3" stroke="url(#g55)" stroke-width="2.10"/>
<path d="M278.8 29.2 L279.6 28.7 L280.8 27.9 L282.1 27.0 L283.6 26.0 L285.0 25.2 L286.2 24.5 L287.3 24.0 L288.4 23.6 L289.5 23.3 L290.5 23.1 L291.3 22.9 L291.9 22.7" stroke="url(#g56)" stroke-width="2.10"/>
<path d="M225.1 95.7 L225.9 95.7 L226.9 95.7 L228.2 95.7 L229.6 95.8 L230.9 95.9 L232.2 96.2 L233.4 96.6 L234.6 97.1 L235.9 97.7 L237.1 98.4 L238.3 99.1 L239.4 99.8 L240.5 100.5 L241.6 101.4 L242.6 102.2 L243.6 103.0 L244.6 103.8 L245.5 104.4 L246.4 104.9 L247.2 105.4 L248.0 105.8 L248.9 106.1 L249.7 106.3 L250.6 106.4 L251.6 106.3 L252.6 106.1 L253.6 105.7 L254.7 105.3 L255.8 104.8 L256.8 104.4 L257.8 103.9 L258.9 103.4 L260.0 102.8 L261.0 102.2 L262.0 101.7 L262.9 101.3 L263.7 101.1 L264.4 101.1 L265.0 101.1 L265.6 101.2 L266.3 101.1 L267.0 100.8 L267.8 100.3 L268.6 99.6 L269.4 98.8 L270.3 98.0 L271.3 97.2 L272.4 96.5 L273.6 96.0 L274.9 95.5 L276.3 95.0 L277.8 94.6 L279.3 94.2 L280.9 93.7 L282.7 93.1 L284.8 92.5 L286.9 91.8 L289.0 91.1 L290.7 90.6 L291.9 90.2" stroke="url(#g57)" stroke-width="2.10"/>
<path d="M267.0 101.2 L267.6 100.8 L268.3 100.2 L269.2 99.5 L270.2 98.8 L271.3 98.2 L272.4 97.6 L273.6 97.2 L274.9 96.8 L276.3 96.5 L277.8 96.2 L279.3 95.9 L280.9 95.5 L282.7 95.0 L284.8 94.4 L286.9 93.8 L289.0 93.2 L290.7 92.7 L291.9 92.3" stroke="url(#g58)" stroke-width="2.10"/>
<path d="M225.1 106.9 L225.9 106.8 L226.9 106.7 L228.2 106.6 L229.6 106.4 L230.9 106.4 L232.2 106.4 L233.4 106.5 L234.6 106.7 L235.8 107.0 L237.0 107.3 L238.2 107.6 L239.4 108.0 L240.6 108.5 L241.8 109.1 L243.0 109.8 L244.2 110.4 L245.4 110.9 L246.5 111.0 L247.6 110.8 L248.6 110.3 L249.5 109.6 L250.5 108.9 L251.6 108.1 L252.7 107.4 L254.0 106.7 L255.4 105.9 L256.8 105.2 L258.2 104.4 L259.6 103.8 L260.9 103.3 L262.0 102.9 L263.1 102.5 L264.1 102.2 L265.1 102.1 L266.0 102.2 L267.0 102.6 L267.9 103.3 L268.8 104.3 L269.7 105.5 L270.6 106.9 L271.5 108.4 L272.4 109.9 L273.4 111.6 L274.4 113.5 L275.4 115.5 L276.4 117.5 L277.3 119.4 L278.1 121.2 L278.8 122.8 L279.4 124.2 L279.9 125.6 L280.4 127.0 L280.9 128.4 L281.5 130.0 L282.2 131.8 L282.9 133.8 L283.7 135.9 L284.4 137.8 L285.3 139.6 L286.1 141.0 L287.1 142.0 L288.1 142.7 L289.2 143.2 L290.3 143.5 L291.2 143.8 L291.8 144.0" stroke="url(#g59)" stroke-width="2.10"/>
<path d="M225.1 110.0 L225.9 110.2 L226.9 110.5 L228.2 110.9 L229.6 111.4 L230.9 111.9 L232.2 112.5 L233.4 113.2 L234.6 114.1 L235.8 115.0 L237.0 116.0 L238.2 117.0 L239.4 118.0 L240.6 119.0 L241.7 120.1 L242.9 121.1 L244.1 122.2 L245.3 123.3 L246.5 124.3 L247.8 125.3 L249.2 126.3 L250.5 127.4 L251.9 128.3 L253.3 129.2 L254.7 130.0 L256.1 130.7 L257.6 131.3 L259.1 131.8 L260.5 132.2 L261.8 132.6 L262.9 133.0 L263.7 133.3 L264.3 133.5 L264.8 133.6 L265.3 133.7 L266.0 133.8 L267.0 134.0 L268.4 134.2 L270.1 134.4 L272.0 134.7 L273.9 134.9 L275.7 135.1 L277.3 135.3 L278.6 135.5 L279.8 135.7 L280.8 135.8 L281.8 136.0 L282.9 136.1 L284.0 136.2 L285.3 136.3 L286.8 136.4 L288.4 136.4 L289.8 136.4 L291.0 136.5 L291.9 136.5" stroke="url(#g60)" stroke-width="2.10"/>
<path d="M275.0 135.0 L275.5 135.1 L276.3 135.3 L277.2 135.5 L278.1 135.7 L279.1 136.0 L280.0 136.3 L280.8 136.6 L281.6 137.0 L282.4 137.4 L283.2 137.8 L284.1 138.2 L285.0 138.6 L286.1 138.9 L287.4 139.2 L288.8 139.5 L290.0 139.8 L291.1 140.0 L291.9 140.2" stroke="url(#g61)" stroke-width="2.10"/>
<path d="M225.1 119.7 L225.9 120.0 L227.0 120.6 L228.3 121.2 L229.6 121.7 L231.0 122.1 L232.2 122.3 L233.3 122.2 L234.3 121.9 L235.3 121.5 L236.3 120.9 L237.3 120.3 L238.4 119.7 L239.6 118.9 L240.8 118.0 L242.1 116.9 L243.4 115.9 L244.5 115.1 L245.5 114.6 L246.2 114.4 L246.7 114.4 L247.1 114.6 L247.4 114.8 L247.9 115.2 L248.6 115.6 L249.6 116.1 L250.7 116.7 L251.9 117.4 L253.2 118.1 L254.5 118.7 L255.7 119.2 L256.9 119.6 L258.2 119.9 L259.5 120.2 L260.7 120.4 L261.9 120.6 L262.9 120.7 L263.7 120.8 L264.3 120.8 L264.9 120.8 L265.4 120.7 L266.1 120.7 L267.0 120.7 L268.1 120.7 L269.4 120.7 L270.9 120.7 L272.3 120.8 L273.8 120.8 L275.3 120.9 L276.7 121.0 L278.2 121.2 L279.7 121.4 L281.2 121.6 L282.6 121.8 L284.0 122.0 L285.4 122.3 L286.9 122.6 L288.4 122.9 L289.7 123.2 L290.9 123.5 L291.7 123.7" stroke="url(#g62)" stroke-width="2.10"/>
<path d="M225.1 124.3 L225.9 124.6 L227.0 125.0 L228.3 125.5 L229.6 126.0 L231.0 126.7 L232.2 127.4 L233.3 128.2 L234.4 129.2 L235.5 130.3 L236.5 131.3 L237.5 132.4 L238.4 133.5 L239.2 134.5 L239.9 135.6 L240.6 136.6 L241.2 137.7 L241.8 138.7 L242.4 139.7 L243.0 140.7 L243.6 141.6 L244.2 142.5 L244.7 143.4 L245.3 144.3 L246.0 145.2 L246.7 146.2 L247.5 147.3 L248.2 148.4 L249.0 149.4 L249.9 150.2 L250.8 150.8 L251.7 151.1 L252.7 151.1 L253.6 150.9 L254.7 150.6 L255.8 150.4 L257.1 150.3 L258.5 150.3 L260.0 150.3 L261.6 150.4 L263.3 150.5 L265.1 150.5 L266.8 150.4 L268.6 150.2 L270.5 150.0 L272.5 149.8 L274.5 149.5 L276.3 149.2 L277.9 149.0 L279.3 148.8 L280.5 148.5 L281.7 148.2 L282.7 148.0 L283.8 148.0 L284.9 148.3 L286.1 148.9 L287.5 149.9 L288.8 151.1 L290.0 152.2 L291.1 153.2 L291.8 153.9" stroke="url(#g63)" stroke-width="2.10"/>
<path d="M225.1 125.5 L225.9 125.8 L227.0 126.2 L228.3 126.6 L229.6 127.2 L231.0 127.8 L232.2 128.5 L233.3 129.3 L234.4 130.3 L235.5 131.3 L236.5 132.4 L237.5 133.5 L238.4 134.5 L239.2 135.5 L239.9 136.5 L240.6 137.5 L241.2 138.5 L241.8 139.5 L242.4 140.5 L243.0 141.4 L243.6 142.4 L244.2 143.3 L244.7 144.2 L245.3 145.1 L246.0 146.0 L246.7 146.9 L247.5 147.8 L248.2 148.7 L249.0 149.6 L249.9 150.5 L250.8 151.5 L251.7 152.5 L252.7 153.6 L253.6 154.7 L254.7 155.9 L255.8 157.0 L257.1 158.0 L258.5 159.0 L260.1 160.1 L261.8 161.1 L263.5 162.0 L265.1 162.9 L266.7 163.6 L268.2 164.2 L269.5 164.6 L270.9 164.9 L272.2 165.2 L273.6 165.4 L275.1 165.7 L276.7 166.0 L278.4 166.2 L280.1 166.4 L281.8 166.6 L283.4 166.8 L284.9 167.0 L286.3 167.3 L287.7 167.5 L289.0 167.8 L290.1 168.1 L291.1 168.3 L291.8 168.5" stroke="url(#g64)" stroke-width="2.10"/>
<path d="M275.1 165.5 L276.2 165.4 L277.7 165.4 L279.6 165.3 L281.5 165.1 L283.3 164.9 L284.9 164.5 L286.3 163.9 L287.7 163.2 L289.0 162.3 L290.1 161.4 L291.1 160.7 L291.8 160.2" stroke="url(#g65)" stroke-width="2.10"/>
<path d="M225.2 175.2 L226.2 174.7 L227.6 173.9 L229.2 173.0 L231.1 172.1 L232.9 171.0 L234.8 170.0 L236.7 168.8 L238.7 167.3 L240.9 165.7 L243.0 164.3 L245.0 163.3 L246.8 163.0 L248.4 163.4 L249.9 164.5 L251.3 166.0 L252.7 167.6 L254.0 169.3 L255.5 170.7 L257.1 172.0 L258.9 173.4 L260.7 174.7 L262.4 176.0 L263.9 177.1 L265.1 177.9 L265.9 178.4 L266.2 178.8 L266.4 178.9 L266.6 178.9 L266.9 178.8 L267.5 178.7 L268.4 178.5 L269.6 178.2 L270.8 177.8 L272.2 177.3 L273.6 176.8 L275.1 176.2 L276.6 175.6 L278.3 174.9 L280.0 174.1 L281.8 173.4 L283.4 172.6 L284.9 172.0 L286.3 171.4 L287.7 170.9 L289.0 170.3 L290.1 169.9 L291.1 169.5 L291.8 169.2" stroke="url(#g66)" stroke-width="2.10"/>
<path d="M291.9 21.4 L292.9 21.7 L294.3 22.1 L296.0 22.6 L297.8 23.1 L299.6 23.6 L301.1 24.2 L302.4 24.8 L303.7 25.4 L305.0 26.0 L306.2 26.7 L307.4 27.3 L308.6 27.9 L309.8 28.4 L311.1 28.8 L312.3 29.2 L313.5 29.7 L314.8 30.1 L316.0 30.7 L317.2 31.3 L318.5 32.0 L319.7 32.8 L320.9 33.6 L322.2 34.4 L323.4 35.3 L324.7 36.3 L325.9 37.3 L327.2 38.4 L328.5 39.5 L329.7 40.5 L330.8 41.3 L331.9 42.0 L332.9 42.5 L333.8 42.9 L334.7 43.3 L335.6 43.6 L336.5 43.9 L337.4 44.1 L338.3 44.3 L339.2 44.4 L340.0 44.4 L340.7 44.5 L341.2 44.5" stroke="url(#g67)" stroke-width="2.10"/>
<path d="M390.5 21.4 L389.5 21.7 L388.1 22.1 L386.4 22.6 L384.6 23.1 L382.8 23.6 L381.3 24.2 L380.0 24.8 L378.7 25.4 L377.4 26.0 L376.2 26.7 L375.0 27.3 L373.8 27.9 L372.6 28.4 L371.3 28.8 L370.1 29.2 L368.9 29.7 L367.6 30.1 L366.4 30.7 L365.2 31.3 L363.9 32.0 L362.7 32.8 L361.5 33.6 L360.2 34.4 L359.0 35.3 L357.7 36.3 L356.5 37.3 L355.2 38.4 L353.9 39.5 L352.7 40.5 L351.6 41.3 L350.5 42.0 L349.5 42.5 L348.6 42.9 L347.7 43.3 L346.8 43.6 L345.9 43.9 L345.0 44.1 L344.1 44.3 L343.2 44.4 L342.4 44.4 L341.7 44.5 L341.2 44.5" stroke="url(#g68)" stroke-width="2.10"/>
<path d="M291.9 43.3 L292.5 43.6 L293.3 44.0 L294.3 44.5 L295.4 45.1 L296.4 45.7 L297.4 46.5 L298.3 47.4 L299.3 48.5 L300.2 49.7 L301.1 50.9 L302.1 52.0 L303.0 53.0 L303.9 53.8 L304.8 54.5 L305.7 55.2 L306.6 55.8 L307.6 56.3 L308.6 56.7 L309.7 57.0 L310.9 57.3 L312.2 57.5 L313.5 57.6 L314.7 57.7 L316.0 57.6 L317.2 57.5 L318.5 57.4 L319.7 57.2 L320.9 56.8 L322.2 56.3 L323.4 55.5 L324.7 54.3 L325.9 52.7 L327.2 51.0 L328.5 49.2 L329.7 47.5 L330.8 46.2 L331.9 45.2 L332.9 44.4 L333.8 43.7 L334.7 43.1 L335.6 42.7 L336.5 42.3 L337.4 42.0 L338.3 41.9 L339.2 41.8 L340.0 41.8 L340.7 41.8 L341.2 41.8" stroke="url(#g69)" stroke-width="2.10"/>
<path d="M390.5 43.3 L389.9 43.6 L389.1 44.0 L388.1 44.5 L387.0 45.1 L386.0 45.7 L385.0 46.5 L384.1 47.4 L383.1 48.5 L382.2 49.7 L381.3 50.9 L380.3 52.0 L379.4 53.0 L378.5 53.8 L377.6 54.5 L376.7 55.2 L375.8 55.8 L374.8 56.3 L373.8 56.7 L372.7 57.0 L371.5 57.3 L370.2 57.5 L368.9 57.6 L367.7 57.7 L366.4 57.6 L365.2 57.5 L363.9 57.4 L362.7 57.2 L361.5 56.8 L360.2 56.3 L359.0 55.5 L357.7 54.3 L356.5 52.7 L355.2 51.0 L353.9 49.2 L352.7 47.5 L351.6 46.2 L350.5 45.2 L349.5 44.4 L348.6 43.7 L347.7 43.1 L346.8 42.7 L345.9 42.3 L345.0 42.0 L344.1 41.9 L343.2 41.8 L342.4 41.8 L341.7 41.8 L341.2 41.8" stroke="url(#g70)" stroke-width="2.10"/>
<path d="M291.9 52.6 L292.9 52.4 L294.3 52.1 L296.0 51.8 L297.8 51.5 L299.6 51.2 L301.1 51.1 L302.4 51.1 L303.7 51.1 L304.9 51.2 L306.0 51.3 L307.3 51.6 L308.6 52.0 L310.1 52.6 L311.7 53.4 L313.3 54.3 L314.9 55.3 L316.5 56.1 L317.8 56.7 L318.9 57.2 L319.9 57.6 L320.7 57.9 L321.5 58.1 L322.4 58.0 L323.4 57.8 L324.5 57.2 L325.8 56.4 L327.1 55.3 L328.4 54.2 L329.6 53.1 L330.8 52.2 L331.9 51.4 L332.9 50.6 L333.8 49.9 L334.7 49.2 L335.6 48.7 L336.5 48.2 L337.4 47.9 L338.3 47.7 L339.2 47.7 L340.0 47.6 L340.7 47.6 L341.2 47.6" stroke="url(#g71)" stroke-width="2.10"/>
<path d="M390.5 52.6 L389.5 52.4 L388.1 52.1 L386.4 51.8 L384.6 51.5 L382.8 51.2 L381.3 51.1 L380.0 51.1 L378.7 51.1 L377.5 51.2 L376.4 51.3 L375.1 51.6 L373.8 52.0 L372.3 52.6 L370.7 53.4 L369.1 54.3 L367.5 55.3 L365.9 56.1 L364.6 56.7 L363.5 57.2 L362.5 57.6 L361.7 57.9 L360.9 58.1 L360.0 58.0 L359.0 57.8 L357.9 57.2 L356.6 56.4 L355.3 55.3 L354.0 54.2 L352.8 53.1 L351.6 52.2 L350.5 51.4 L349.5 50.6 L348.6 49.9 L347.7 49.2 L346.8 48.7 L345.9 48.2 L345.0 47.9 L344.1 47.7 L343.2 47.7 L342.4 47.6 L341.7 47.6 L341.2 47.6" stroke="url(#g72)" stroke-width="2.10"/>
<path d="M291.9 68.2 L292.7 67.8 L293.9 67.3 L295.3 66.8 L296.7 66.1 L298.1 65.5 L299.3 65.0 L300.3 64.5 L301.3 64.0 L302.2 63.5 L303.0 63.0 L303.9 62.7 L304.8 62.6 L305.7 62.7 L306.7 63.1 L307.6 63.5 L308.5 64.1 L309.5 64.6 L310.4 65.0 L311.3 65.4 L312.2 65.9 L313.1 66.4 L314.0 66.8 L315.0 67.0 L316.0 66.9 L317.1 66.6 L318.3 66.2 L319.6 65.6 L320.9 64.8 L322.1 63.7 L323.4 62.5 L324.7 60.9 L325.9 58.9 L327.2 56.7 L328.5 54.4 L329.7 52.3 L330.8 50.5 L331.9 49.0 L332.9 47.6 L333.8 46.3 L334.7 45.2 L335.6 44.3 L336.5 43.5 L337.4 43.0 L338.3 42.7 L339.2 42.6 L340.0 42.6 L340.7 42.6 L341.2 42.6" stroke="url(#g73)" stroke-width="2.10"/>
<path d="M390.5 68.2 L389.7 67.8 L388.5 67.3 L387.1 66.8 L385.7 66.1 L384.3 65.5 L383.1 65.0 L382.1 64.5 L381.1 64.0 L380.2 63.5 L379.4 63.0 L378.5 62.7 L377.6 62.6 L376.7 62.7 L375.7 63.1 L374.8 63.5 L373.9 64.1 L372.9 64.6 L372.0 65.0 L371.1 65.4 L370.2 65.9 L369.3 66.4 L368.4 66.8 L367.4 67.0 L366.4 66.9 L365.3 66.6 L364.1 66.2 L362.8 65.6 L361.5 64.8 L360.3 63.7 L359.0 62.5 L357.7 60.9 L356.5 58.9 L355.2 56.7 L353.9 54.4 L352.7 52.3 L351.6 50.5 L350.5 49.0 L349.5 47.6 L348.6 46.3 L347.7 45.2 L346.8 44.3 L345.9 43.5 L345.0 43.0 L344.1 42.7 L343.2 42.6 L342.4 42.6 L341.7 42.6 L341.2 42.6" stroke="url(#g74)" stroke-width="2.10"/>
<path d="M291.9 44.5 L292.5 44.8 L293.3 45.2 L294.3 45.8 L295.4 46.3 L296.4 47.0 L297.4 47.8 L298.3 48.7 L299.3 49.8 L300.2 51.0 L301.1 52.2 L302.1 53.3 L303.0 54.2 L304.0 55.0 L305.1 55.7 L306.1 56.3 L307.1 56.8 L308.0 57.3 L308.6 57.6" stroke="url(#g75)" stroke-width="2.10"/>
<path d="M390.5 44.5 L389.9 44.8 L389.1 45.2 L388.1 45.8 L387.0 46.3 L386.0 47.0 L385.0 47.8 L384.1 48.7 L383.1 49.8 L382.2 51.0 L381.3 52.2 L380.3 53.3 L379.4 54.2 L378.4 55.0 L377.3 55.7 L376.2 56.3 L375.3 56.8 L374.4 57.3 L373.8 57.6" stroke="url(#g76)" stroke-width="2.10"/>
<path d="M291.9 22.7 L292.9 23.0 L294.3 23.4 L296.0 23.9 L297.8 24.4 L299.6 25.0 L301.1 25.5 L302.5 26.1 L304.0 26.7 L305.4 27.4 L306.7 28.1 L307.8 28.6 L308.6 29.0" stroke="url(#g77)" stroke-width="2.10"/>
<path d="M390.5 22.7 L389.5 23.0 L388.1 23.4 L386.4 23.9 L384.6 24.4 L382.8 25.0 L381.3 25.5 L379.9 26.1 L378.4 26.7 L377.0 27.4 L375.7 28.1 L374.6 28.6 L373.8 29.0" stroke="url(#g78)" stroke-width="2.10"/>
<path d="M291.9 90.2 L292.9 90.6 L294.2 91.3 L295.7 92.0 L297.4 92.8 L299.1 93.6 L300.6 94.4 L302.0 95.2 L303.5 96.1 L304.9 97.0 L306.3 97.9 L307.7 98.7 L309.0 99.4 L310.2 100.1 L311.4 100.7 L312.5 101.3 L313.6 101.8 L314.8 102.1 L316.0 102.2 L317.3 102.0 L318.7 101.5 L320.1 100.8 L321.5 100.0 L323.0 99.3 L324.5 98.7 L326.1 98.2 L327.8 97.7 L329.5 97.2 L331.2 96.8 L332.8 96.4 L334.3 96.1 L335.7 95.9 L337.1 95.8 L338.4 95.8 L339.5 95.8 L340.5 95.8 L341.2 95.8" stroke="url(#g79)" stroke-width="2.10"/>
<path d="M390.5 90.2 L389.5 90.6 L388.2 91.3 L386.7 92.0 L385.0 92.8 L383.3 93.6 L381.8 94.4 L380.4 95.2 L378.9 96.1 L377.5 97.0 L376.1 97.9 L374.7 98.7 L373.4 99.4 L372.2 100.1 L371.0 100.7 L369.9 101.3 L368.8 101.8 L367.6 102.1 L366.4 102.2 L365.1 102.0 L363.7 101.5 L362.3 100.8 L360.9 100.0 L359.4 99.3 L357.9 98.7 L356.3 98.2 L354.6 97.7 L352.9 97.2 L351.2 96.8 L349.6 96.4 L348.1 96.1 L346.7 95.9 L345.3 95.8 L344.0 95.8 L342.9 95.8 L341.9 95.8 L341.2 95.8" stroke="url(#g80)" stroke-width="2.10"/>
<path d="M291.9 92.3 L292.9 92.7 L294.2 93.3 L295.7 94.0 L297.4 94.8 L299.1 95.6 L300.6 96.4 L302.0 97.2 L303.5 98.1 L304.9 99.0 L306.3 99.9 L307.7 100.7 L309.0 101.4 L310.2 102.0 L311.4 102.6 L312.5 103.2 L313.6 103.6 L314.8 103.8 L316.0 103.8 L317.3 103.5 L318.7 103.0 L320.1 102.2 L321.5 101.5 L323.0 100.7 L324.5 100.0 L326.1 99.4 L327.8 98.8 L329.5 98.2 L331.2 97.6 L332.8 97.2 L334.3 96.8 L335.7 96.6 L337.1 96.4 L338.4 96.3 L339.5 96.3 L340.5 96.3 L341.2 96.3" stroke="url(#g81)" stroke-width="2.10"/>
<path d="M390.5 92.3 L389.5 92.7 L388.2 93.3 L386.7 94.0 L385.0 94.8 L383.3 95.6 L381.8 96.4 L380.4 97.2 L378.9 98.1 L377.5 99.0 L376.1 99.9 L374.7 100.7 L373.4 101.4 L372.2 102.0 L371.0 102.6 L369.9 103.2 L368.8 103.6 L367.6 103.8 L366.4 103.8 L365.1 103.5 L363.7 103.0 L362.3 102.2 L360.9 101.5 L359.4 100.7 L357.9 100.0 L356.3 99.4 L354.6 98.8 L352.9 98.2 L351.2 97.6 L349.6 97.2 L348.1 96.8 L346.7 96.6 L345.3 96.4 L344.0 96.3 L342.9 96.3 L341.9 96.3 L341.2 96.3" stroke="url(#g82)" stroke-width="2.10"/>
<path d="M291.7 123.7 L292.7 123.3 L294.0 122.8 L295.6 122.2 L297.3 121.5 L299.0 120.7 L300.6 119.8 L302.0 118.8 L303.4 117.6 L304.8 116.4 L306.2 115.1 L307.6 113.9 L309.0 112.7 L310.4 111.6 L311.8 110.4 L313.3 109.3 L314.7 108.2 L316.1 107.2 L317.4 106.4 L318.6 105.7 L319.8 105.2 L320.9 104.7 L322.0 104.4 L323.2 104.1 L324.5 104.0 L326.0 104.0 L327.7 104.2 L329.4 104.6 L331.1 105.0 L332.8 105.3 L334.3 105.7 L335.7 106.1 L337.1 106.4 L338.4 106.9 L339.5 107.2 L340.5 107.6 L341.2 107.8" stroke="url(#g83)" stroke-width="2.10"/>
<path d="M390.7 123.7 L389.7 123.3 L388.4 122.8 L386.8 122.2 L385.1 121.5 L383.4 120.7 L381.8 119.8 L380.4 118.8 L379.0 117.6 L377.6 116.4 L376.2 115.1 L374.8 113.9 L373.4 112.7 L372.0 111.6 L370.6 110.4 L369.1 109.3 L367.7 108.2 L366.3 107.2 L365.0 106.4 L363.8 105.7 L362.6 105.2 L361.5 104.7 L360.4 104.4 L359.2 104.1 L357.9 104.0 L356.4 104.0 L354.7 104.2 L353.0 104.6 L351.3 105.0 L349.6 105.3 L348.1 105.7 L346.7 106.1 L345.3 106.4 L344.0 106.9 L342.9 107.2 L341.9 107.6 L341.2 107.8" stroke="url(#g84)" stroke-width="2.10"/>
<path d="M291.7 125.0 L292.7 124.6 L294.0 124.1 L295.6 123.5 L297.3 122.8 L299.0 122.1 L300.6 121.2 L302.0 120.2 L303.4 119.1 L304.8 117.8 L306.2 116.6 L307.6 115.4 L309.0 114.2 L310.4 113.1 L311.8 111.9 L313.3 110.8 L314.7 109.8 L316.1 108.8 L317.4 108.0 L318.6 107.3 L319.8 106.8 L320.9 106.3 L322.0 106.0 L323.2 105.7 L324.5 105.6 L326.0 105.6 L327.7 105.9 L329.4 106.2 L331.1 106.6 L332.8 107.0 L334.3 107.3 L335.7 107.6 L337.1 108.0 L338.4 108.4 L339.5 108.7 L340.5 109.0 L341.2 109.2" stroke="url(#g85)" stroke-width="2.10"/>
<path d="M390.7 125.0 L389.7 124.6 L388.4 124.1 L386.8 123.5 L385.1 122.8 L383.4 122.1 L381.8 121.2 L380.4 120.2 L379.0 119.1 L377.6 117.8 L376.2 116.6 L374.8 115.4 L373.4 114.2 L372.0 113.1 L370.6 111.9 L369.1 110.8 L367.7 109.8 L366.3 108.8 L365.0 108.0 L363.8 107.3 L362.6 106.8 L361.5 106.3 L360.4 106.0 L359.2 105.7 L357.9 105.6 L356.4 105.6 L354.7 105.9 L353.0 106.2 L351.3 106.6 L349.6 107.0 L348.1 107.3 L346.7 107.6 L345.3 108.0 L344.0 108.4 L342.9 108.7 L341.9 109.0 L341.2 109.2" stroke="url(#g86)" stroke-width="2.10"/>
<path d="M291.8 144.0 L292.8 143.7 L294.2 143.4 L295.8 142.9 L297.5 142.4 L299.0 141.7 L300.3 141.0 L301.2 140.2 L302.0 139.2 L302.6 138.2 L303.2 137.1 L303.8 135.8 L304.6 134.5 L305.5 133.0 L306.5 131.2 L307.6 129.4 L308.7 127.5 L309.9 125.7 L311.1 124.1 L312.4 122.6 L313.9 121.0 L315.4 119.5 L316.9 118.2 L318.3 117.1 L319.5 116.4 L320.5 116.1 L321.3 116.2 L322.0 116.6 L322.7 117.0 L323.3 117.6 L324.0 118.0 L324.6 118.4 L325.0 118.9 L325.5 119.4 L326.0 119.9 L326.8 120.3 L328.0 120.6 L329.8 120.8 L332.2 120.8 L334.9 120.8 L337.4 120.7 L339.7 120.6 L341.2 120.6" stroke="url(#g87)" stroke-width="2.10"/>
<path d="M390.6 144.0 L389.6 143.7 L388.2 143.4 L386.6 142.9 L384.9 142.4 L383.4 141.7 L382.1 141.0 L381.2 140.2 L380.4 139.2 L379.8 138.2 L379.2 137.1 L378.6 135.8 L377.8 134.5 L376.9 133.0 L375.9 131.2 L374.8 129.4 L373.7 127.5 L372.5 125.7 L371.3 124.1 L370.0 122.6 L368.5 121.0 L367.0 119.5 L365.5 118.2 L364.1 117.1 L362.9 116.4 L361.9 116.1 L361.1 116.2 L360.4 116.6 L359.7 117.0 L359.1 117.6 L358.4 118.0 L357.8 118.4 L357.4 118.9 L356.9 119.4 L356.4 119.9 L355.6 120.3 L354.4 120.6 L352.6 120.8 L350.2 120.8 L347.5 120.8 L345.0 120.7 L342.7 120.6 L341.2 120.6" stroke="url(#g88)" stroke-width="2.10"/>
<path d="M291.9 136.5 L292.8 136.5 L294.0 136.5 L295.4 136.6 L297.0 136.6 L298.6 136.7 L300.0 136.8 L301.4 137.0 L302.8 137.2 L304.2 137.4 L305.6 137.6 L306.8 137.8 L308.0 138.0 L309.0 138.2 L309.9 138.4 L310.6 138.5 L311.4 138.6 L312.2 138.6 L313.0 138.3 L313.9 137.8 L314.8 137.0 L315.7 136.2 L316.7 135.2 L317.7 134.2 L318.8 133.3 L320.0 132.4 L321.4 131.5 L322.8 130.5 L324.3 129.6 L325.7 128.7 L327.0 128.0 L328.2 127.4 L329.4 126.9 L330.6 126.5 L331.7 126.1 L332.8 125.8 L334.0 125.5 L335.3 125.3 L336.7 125.1 L338.0 125.0 L339.3 124.9 L340.4 124.9 L341.2 124.8" stroke="url(#g89)" stroke-width="2.10"/>
<path d="M390.5 136.5 L389.6 136.5 L388.4 136.5 L386.9 136.6 L385.4 136.6 L383.8 136.7 L382.4 136.8 L381.0 137.0 L379.6 137.2 L378.2 137.4 L376.8 137.6 L375.6 137.8 L374.4 138.0 L373.4 138.2 L372.5 138.4 L371.8 138.5 L371.0 138.6 L370.2 138.6 L369.4 138.3 L368.5 137.8 L367.6 137.0 L366.7 136.2 L365.7 135.2 L364.7 134.2 L363.6 133.3 L362.4 132.4 L361.0 131.5 L359.6 130.5 L358.1 129.6 L356.7 128.7 L355.4 128.0 L354.2 127.4 L353.0 126.9 L351.8 126.5 L350.7 126.1 L349.6 125.8 L348.4 125.5 L347.1 125.3 L345.7 125.1 L344.4 125.0 L343.1 124.9 L342.0 124.9 L341.2 124.8" stroke="url(#g90)" stroke-width="2.10"/>
<path d="M291.9 140.2 L292.8 140.3 L294.0 140.3 L295.4 140.4 L297.0 140.5 L298.6 140.6 L300.0 140.6 L301.4 140.5 L302.8 140.4 L304.3 140.3 L305.6 140.1 L306.9 139.9 L308.0 139.8 L308.9 139.7 L309.6 139.6 L310.2 139.6 L310.8 139.5 L311.4 139.4 L312.0 139.2 L312.7 138.9 L313.5 138.5 L314.2 138.1 L315.0 137.6 L315.6 137.3 L316.0 137.0" stroke="url(#g91)" stroke-width="2.10"/>
<path d="M390.5 140.2 L389.6 140.3 L388.4 140.3 L386.9 140.4 L385.4 140.5 L383.8 140.6 L382.4 140.6 L381.0 140.5 L379.6 140.4 L378.1 140.3 L376.8 140.1 L375.5 139.9 L374.4 139.8 L373.5 139.7 L372.8 139.6 L372.1 139.6 L371.6 139.5 L371.0 139.4 L370.4 139.2 L369.7 138.9 L368.9 138.5 L368.1 138.1 L367.4 137.6 L366.8 137.3 L366.4 137.0" stroke="url(#g92)" stroke-width="2.10"/>
<path d="M291.8 153.9 L292.6 153.1 L293.6 151.9 L294.9 150.5 L296.2 149.1 L297.6 147.9 L298.8 147.0 L300.0 146.5 L301.1 146.2 L302.2 146.0 L303.4 146.1 L304.5 146.1 L305.7 146.3 L306.9 146.6 L308.1 147.1 L309.4 147.7 L310.6 148.2 L311.7 148.7 L312.7 149.0 L313.6 149.1 L314.3 149.2 L314.9 149.2 L315.6 149.0 L316.3 148.6 L317.0 148.0 L317.8 147.1 L318.6 146.0 L319.4 144.7 L320.2 143.2 L321.2 141.6 L322.4 140.0 L323.8 138.2 L325.4 136.1 L327.1 133.9 L328.8 131.7 L330.6 129.8 L332.2 128.3 L333.9 127.2 L335.6 126.4 L337.3 125.8 L338.9 125.4 L340.2 125.1 L341.2 124.8" stroke="url(#g93)" stroke-width="2.10"/>
<path d="M390.6 153.9 L389.8 153.1 L388.8 151.9 L387.5 150.5 L386.2 149.1 L384.8 147.9 L383.6 147.0 L382.4 146.5 L381.3 146.2 L380.1 146.0 L379.0 146.1 L377.9 146.1 L376.7 146.3 L375.5 146.6 L374.3 147.1 L373.0 147.7 L371.8 148.2 L370.7 148.7 L369.7 149.0 L368.8 149.1 L368.1 149.2 L367.4 149.2 L366.8 149.0 L366.1 148.6 L365.4 148.0 L364.6 147.1 L363.8 146.0 L363.0 144.7 L362.2 143.2 L361.2 141.6 L360.0 140.0 L358.6 138.2 L357.0 136.1 L355.3 133.9 L353.6 131.7 L351.8 129.8 L350.2 128.3 L348.5 127.2 L346.8 126.4 L345.1 125.8 L343.5 125.4 L342.2 125.1 L341.2 124.8" stroke="url(#g94)" stroke-width="2.10"/>
<path d="M291.8 168.5 L292.7 168.1 L294.1 167.7 L295.7 167.1 L297.3 166.4 L298.9 165.7 L300.2 165.0 L301.3 164.2 L302.2 163.4 L303.1 162.6 L304.0 161.6 L304.8 160.6 L305.7 159.5 L306.6 158.3 L307.6 156.9 L308.5 155.5 L309.4 154.0 L310.4 152.5 L311.3 151.1 L312.3 149.6 L313.3 148.1 L314.3 146.6 L315.2 145.2 L316.1 143.9 L316.9 142.8 L317.5 142.2 L317.9 141.9 L318.2 141.9 L318.6 141.7 L319.0 141.2 L319.6 140.0 L320.3 138.0 L321.2 135.4 L322.1 132.5 L323.1 129.4 L324.2 126.5 L325.2 124.1 L326.3 122.0 L327.4 120.2 L328.5 118.5 L329.7 116.9 L330.9 115.5 L332.2 114.3 L333.7 113.2 L335.4 112.3 L337.1 111.6 L338.8 111.0 L340.2 110.5 L341.2 110.1" stroke="url(#g95)" stroke-width="2.10"/>
<path d="M390.6 168.5 L389.7 168.1 L388.3 167.7 L386.7 167.1 L385.1 166.4 L383.5 165.7 L382.2 165.0 L381.1 164.2 L380.2 163.4 L379.3 162.6 L378.4 161.6 L377.6 160.6 L376.7 159.5 L375.8 158.3 L374.8 156.9 L373.9 155.5 L373.0 154.0 L372.0 152.5 L371.1 151.1 L370.1 149.6 L369.1 148.1 L368.1 146.6 L367.2 145.2 L366.3 143.9 L365.5 142.8 L364.9 142.2 L364.5 141.9 L364.1 141.9 L363.8 141.7 L363.4 141.2 L362.8 140.0 L362.1 138.0 L361.2 135.4 L360.3 132.5 L359.3 129.4 L358.2 126.5 L357.2 124.1 L356.1 122.0 L355.0 120.2 L353.9 118.5 L352.7 116.9 L351.5 115.5 L350.2 114.3 L348.7 113.2 L347.0 112.3 L345.3 111.6 L343.6 111.0 L342.2 110.5 L341.2 110.1" stroke="url(#g96)" stroke-width="2.10"/>
<path d="M291.8 160.2 L292.4 160.7 L293.3 161.5 L294.2 162.4 L295.3 163.4 L296.4 164.3 L297.4 165.0 L298.4 165.6 L299.5 166.2 L300.6 166.7 L301.5 167.1 L302.4 167.5 L303.0 167.8" stroke="url(#g97)" stroke-width="2.10"/>
<path d="M390.6 160.2 L390.0 160.7 L389.1 161.5 L388.1 162.4 L387.1 163.4 L386.0 164.3 L385.0 165.0 L384.0 165.6 L382.9 166.2 L381.8 166.7 L380.9 167.1 L380.0 167.5 L379.4 167.8" stroke="url(#g98)" stroke-width="2.10"/>
<path d="M291.8 169.2 L292.9 169.1 L294.4 168.9 L296.3 168.6 L298.2 168.4 L300.0 168.1 L301.6 167.8 L302.9 167.5 L304.1 167.2 L305.1 166.9 L306.2 166.6 L307.3 166.2 L308.5 165.7 L309.8 165.0 L311.2 164.2 L312.7 163.2 L314.1 162.4 L315.6 161.8 L316.9 161.6 L318.2 161.8 L319.4 162.4 L320.6 163.3 L321.7 164.2 L322.8 165.2 L324.0 166.0 L325.1 166.8 L326.2 167.5 L327.2 168.3 L328.3 169.1 L329.5 169.9 L330.8 170.6 L332.4 171.4 L334.4 172.2 L336.4 173.0 L338.4 173.7 L340.0 174.3 L341.2 174.8" stroke="url(#g99)" stroke-width="2.10"/>
<path d="M390.6 169.2 L389.5 169.1 L388.0 168.9 L386.1 168.6 L384.2 168.4 L382.4 168.1 L380.8 167.8 L379.5 167.5 L378.3 167.2 L377.3 166.9 L376.2 166.6 L375.1 166.2 L373.9 165.7 L372.6 165.0 L371.2 164.2 L369.7 163.2 L368.3 162.4 L366.8 161.8 L365.5 161.6 L364.2 161.8 L363.0 162.4 L361.8 163.3 L360.7 164.2 L359.6 165.2 L358.4 166.0 L357.3 166.8 L356.2 167.5 L355.2 168.3 L354.1 169.1 L352.9 169.9 L351.6 170.6 L350.0 171.4 L348.0 172.2 L346.0 173.0 L344.0 173.7 L342.4 174.3 L341.2 174.8" stroke="url(#g100)" stroke-width="2.10"/>
</g>
<g clip-path="url(#clipc)" fill="none" stroke-linecap="round" stroke-linejoin="round">
<path d="M410.0 57.6 L410.7 57.0 L411.6 56.1 L412.6 55.0 L413.8 53.9 L414.9 52.8 L416.0 51.7 L417.0 50.7 L418.0 49.6 L419.0 48.6 L420.0 47.6 L421.0 46.6 L422.0 45.8 L423.1 45.1 L424.1 44.4 L425.2 43.7 L426.3 43.2 L427.4 42.9 L428.4 42.8 L429.4 42.9 L430.4 43.3 L431.3 43.8 L432.3 44.4 L433.2 45.1 L434.0 45.8 L434.8 46.5 L435.4 47.4 L436.1 48.2 L436.7 49.1 L437.3 50.0 L438.0 50.7 L438.7 51.4 L439.4 52.0 L440.1 52.6 L440.8 53.2 L441.6 53.6 L442.3 53.9 L443.1 54.1 L443.9 54.2 L444.7 54.2 L445.5 54.0 L446.3 53.7 L447.0 53.3 L447.7 52.7 L448.3 51.9 L448.9 50.9 L449.4 49.8 L450.0 48.7 L450.5 47.5 L451.0 46.2 L451.5 44.8 L452.0 43.4 L452.5 41.9 L453.0 40.4 L453.5 39.0 L454.1 37.6 L454.6 36.3 L455.2 34.9 L455.8 33.6 L456.4 32.3 L457.0 31.0 L457.6 29.8 L458.2 28.7 L458.8 27.6 L459.5 26.4 L460.1 25.3 L460.8 24.0 L461.6 22.5 L462.5 20.9 L463.4 19.2 L464.2 17.5 L465.0 16.2 L465.5 15.2" stroke="url(#g101)" stroke-width="3.10"/>
<path d="M548.8 57.6 L548.1 57.0 L547.2 56.1 L546.2 55.0 L545.0 53.9 L543.9 52.8 L542.8 51.7 L541.8 50.7 L540.8 49.6 L539.8 48.6 L538.8 47.6 L537.8 46.6 L536.8 45.8 L535.7 45.1 L534.7 44.4 L533.6 43.7 L532.5 43.2 L531.4 42.9 L530.4 42.8 L529.4 42.9 L528.4 43.3 L527.5 43.8 L526.5 44.4 L525.6 45.1 L524.8 45.8 L524.0 46.5 L523.4 47.4 L522.7 48.2 L522.1 49.1 L521.5 50.0 L520.8 50.7 L520.1 51.4 L519.4 52.0 L518.7 52.6 L518.0 53.2 L517.2 53.6 L516.5 53.9 L515.7 54.1 L514.9 54.2 L514.1 54.2 L513.3 54.0 L512.5 53.7 L511.8 53.3 L511.1 52.7 L510.5 51.9 L509.9 50.9 L509.4 49.8 L508.8 48.7 L508.3 47.5 L507.8 46.2 L507.3 44.8 L506.8 43.4 L506.3 41.9 L505.8 40.4 L505.3 39.0 L504.7 37.6 L504.2 36.3 L503.6 34.9 L503.0 33.6 L502.4 32.3 L501.8 31.0 L501.2 29.8 L500.6 28.7 L500.0 27.6 L499.3 26.4 L498.7 25.3 L498.0 24.0 L497.2 22.5 L496.3 20.9 L495.4 19.2 L494.6 17.5 L493.8 16.2 L493.3 15.2" stroke="url(#g102)" stroke-width="3.10"/>
<path d="M410.0 56.4 L410.7 55.8 L411.6 54.9 L412.6 53.8 L413.8 52.7 L414.9 51.6 L416.0 50.5 L417.0 49.5 L418.0 48.4 L419.0 47.3 L420.0 46.3 L421.0 45.3 L422.0 44.5 L423.1 43.8 L424.1 43.1 L425.2 42.5 L426.3 42.0 L427.4 41.7 L428.4 41.6 L429.4 41.7 L430.4 42.1 L431.3 42.6 L432.3 43.2 L433.2 43.8 L434.0 44.5 L434.8 45.2 L435.4 46.1 L436.1 47.0 L436.7 47.9 L437.3 48.7 L438.0 49.5 L438.7 50.2 L439.4 50.8 L440.1 51.4 L440.8 52.0 L441.6 52.4 L442.3 52.7 L443.1 52.9 L443.9 53.1 L444.7 53.1 L445.5 53.0 L446.3 52.7 L447.0 52.3 L447.7 51.6 L448.4 50.7 L449.1 49.7 L449.7 48.5 L450.4 47.2 L451.0 46.0 L451.6 44.7 L452.1 43.3 L452.7 41.9 L453.2 40.4 L453.7 38.9 L454.3 37.5 L454.9 36.1 L455.5 34.8 L456.1 33.4 L456.8 32.1 L457.4 30.8 L458.0 29.5 L458.6 28.3 L459.2 27.2 L459.8 26.0 L460.4 24.9 L461.0 23.8 L461.7 22.6 L462.5 21.3 L463.3 19.8 L464.2 18.3 L465.1 16.9 L465.8 15.7 L466.3 14.8" stroke="url(#g103)" stroke-width="3.10"/>
<path d="M548.8 56.4 L548.1 55.8 L547.2 54.9 L546.2 53.8 L545.0 52.7 L543.9 51.6 L542.8 50.5 L541.8 49.5 L540.8 48.4 L539.8 47.3 L538.8 46.3 L537.8 45.3 L536.8 44.5 L535.7 43.8 L534.7 43.1 L533.6 42.5 L532.5 42.0 L531.4 41.7 L530.4 41.6 L529.4 41.7 L528.4 42.1 L527.5 42.6 L526.5 43.2 L525.6 43.8 L524.8 44.5 L524.0 45.2 L523.4 46.1 L522.7 47.0 L522.1 47.9 L521.5 48.7 L520.8 49.5 L520.1 50.2 L519.4 50.8 L518.7 51.4 L518.0 52.0 L517.2 52.4 L516.5 52.7 L515.7 52.9 L514.9 53.1 L514.1 53.1 L513.3 53.0 L512.5 52.7 L511.8 52.3 L511.1 51.6 L510.4 50.7 L509.7 49.7 L509.1 48.5 L508.4 47.2 L507.8 46.0 L507.2 44.7 L506.7 43.3 L506.1 41.9 L505.6 40.4 L505.1 38.9 L504.5 37.5 L503.9 36.1 L503.3 34.8 L502.7 33.4 L502.0 32.1 L501.4 30.8 L500.8 29.5 L500.2 28.3 L499.6 27.2 L499.0 26.0 L498.4 24.9 L497.8 23.8 L497.1 22.6 L496.3 21.3 L495.5 19.8 L494.6 18.3 L493.7 16.9 L493.0 15.7 L492.5 14.8" stroke="url(#g104)" stroke-width="3.10"/>
<path d="M423.9 14.8 L424.2 15.4 L424.5 16.3 L424.9 17.4 L425.4 18.5 L426.0 19.6 L426.5 20.5 L427.1 21.3 L427.7 22.2 L428.3 23.0 L429.0 23.7 L429.7 24.4 L430.5 25.0 L431.3 25.5 L432.2 26.0 L433.1 26.4 L434.1 26.8 L435.0 27.1 L436.0 27.3 L437.0 27.5 L438.0 27.6 L439.0 27.7 L440.1 27.7 L441.1 27.6 L442.0 27.5 L442.9 27.3 L443.8 26.9 L444.7 26.5 L445.5 26.0 L446.3 25.5 L447.0 25.0 L447.7 24.5 L448.3 23.9 L448.9 23.3 L449.5 22.7 L450.0 22.1 L450.5 21.5 L451.0 20.8 L451.4 20.2 L451.8 19.4 L452.2 18.8 L452.6 18.1 L453.0 17.5 L453.4 16.9 L453.8 16.4 L454.2 15.9 L454.5 15.5 L454.8 15.1 L455.0 14.8" stroke="url(#g105)" stroke-width="3.10"/>
<path d="M534.9 14.8 L534.6 15.4 L534.3 16.3 L533.8 17.4 L533.4 18.5 L532.8 19.6 L532.3 20.5 L531.7 21.3 L531.1 22.2 L530.5 23.0 L529.8 23.7 L529.1 24.4 L528.3 25.0 L527.5 25.5 L526.6 26.0 L525.7 26.4 L524.7 26.8 L523.8 27.1 L522.8 27.3 L521.8 27.5 L520.8 27.6 L519.8 27.7 L518.7 27.7 L517.7 27.6 L516.8 27.5 L515.9 27.3 L515.0 26.9 L514.1 26.5 L513.3 26.0 L512.5 25.5 L511.8 25.0 L511.1 24.5 L510.5 23.9 L509.9 23.3 L509.3 22.7 L508.8 22.1 L508.3 21.5 L507.8 20.8 L507.4 20.2 L507.0 19.4 L506.6 18.8 L506.2 18.1 L505.8 17.5 L505.4 16.9 L505.0 16.4 L504.6 15.9 L504.3 15.5 L504.0 15.1 L503.8 14.8" stroke="url(#g106)" stroke-width="3.10"/>
<path d="M425.3 14.8 L425.6 15.5 L426.0 16.4 L426.4 17.6 L426.9 18.7 L427.4 19.9 L428.0 20.8 L428.6 21.6 L429.2 22.3 L429.9 23.0 L430.5 23.6 L431.3 24.1 L432.0 24.6 L432.8 25.0 L433.6 25.4 L434.4 25.6 L435.3 25.9 L436.1 26.1 L437.0 26.2 L437.9 26.3 L438.8 26.4 L439.8 26.5 L440.7 26.5 L441.6 26.4 L442.5 26.2 L443.3 25.9 L444.1 25.5 L444.9 25.1 L445.7 24.6 L446.5 24.0 L447.3 23.4 L448.2 22.7 L449.1 21.9 L450.0 21.1 L450.9 20.3 L451.8 19.5 L452.6 18.7 L453.3 18.0 L454.1 17.2 L454.7 16.5 L455.3 15.8 L455.8 15.2 L456.2 14.8" stroke="#00dbff" stroke-width="3.10"/>
<path d="M533.5 14.8 L533.2 15.5 L532.8 16.4 L532.4 17.6 L531.9 18.7 L531.4 19.9 L530.8 20.8 L530.2 21.6 L529.6 22.3 L528.9 23.0 L528.3 23.6 L527.5 24.1 L526.8 24.6 L526.0 25.0 L525.2 25.4 L524.4 25.6 L523.5 25.9 L522.7 26.1 L521.8 26.2 L520.9 26.3 L520.0 26.4 L519.0 26.5 L518.1 26.5 L517.2 26.4 L516.3 26.2 L515.5 25.9 L514.7 25.5 L513.9 25.1 L513.1 24.6 L512.3 24.0 L511.5 23.4 L510.6 22.7 L509.7 21.9 L508.8 21.1 L507.9 20.3 L507.0 19.5 L506.2 18.7 L505.5 18.0 L504.7 17.2 L504.1 16.5 L503.5 15.8 L503.0 15.2 L502.6 14.8" stroke="#ffec00" stroke-width="3.10"/>
<path d="M438.0 14.8 L438.4 15.4 L439.1 16.3 L439.8 17.3 L440.6 18.4 L441.4 19.4 L442.1 20.3 L442.8 21.1 L443.5 21.8 L444.2 22.6 L444.9 23.2 L445.6 23.9 L446.3 24.5 L447.0 25.1 L447.7 25.7 L448.4 26.2 L449.2 26.7 L449.8 27.1 L450.5 27.4 L451.1 27.5 L451.7 27.6 L452.3 27.5 L452.9 27.4 L453.4 27.2 L454.0 27.0 L454.6 26.8 L455.2 26.5 L455.8 26.2 L456.3 25.9 L456.9 25.5 L457.5 25.0 L458.1 24.5 L458.6 24.0 L459.2 23.4 L459.8 22.8 L460.4 22.1 L461.0 21.3 L461.7 20.3 L462.4 19.2 L463.2 17.9 L463.9 16.7 L464.6 15.7 L465.0 15.0" stroke="url(#g109)" stroke-width="3.10"/>
<path d="M520.8 14.8 L520.4 15.4 L519.7 16.3 L519.0 17.3 L518.2 18.4 L517.4 19.4 L516.7 20.3 L516.0 21.1 L515.3 21.8 L514.6 22.6 L513.9 23.2 L513.2 23.9 L512.5 24.5 L511.8 25.1 L511.1 25.7 L510.4 26.2 L509.6 26.7 L509.0 27.1 L508.3 27.4 L507.7 27.5 L507.1 27.6 L506.5 27.5 L505.9 27.4 L505.4 27.2 L504.8 27.0 L504.2 26.8 L503.6 26.5 L503.0 26.2 L502.5 25.9 L501.9 25.5 L501.3 25.0 L500.7 24.5 L500.2 24.0 L499.6 23.4 L499.0 22.8 L498.4 22.1 L497.8 21.3 L497.1 20.3 L496.4 19.2 L495.6 17.9 L494.9 16.7 L494.2 15.7 L493.8 15.0" stroke="url(#g110)" stroke-width="3.10"/>
<path d="M441.1 14.8 L441.6 15.3 L442.2 16.0 L443.0 16.8 L443.8 17.7 L444.6 18.5 L445.3 19.3 L445.9 20.0 L446.4 20.8 L447.0 21.5 L447.4 22.2 L447.9 22.8 L448.4 23.4 L448.8 24.0 L449.3 24.5 L449.6 25.0 L450.0 25.4 L450.5 25.7 L451.0 26.0 L451.6 26.2 L452.2 26.2 L452.9 26.2 L453.7 26.1 L454.3 26.0 L455.0 25.8 L455.6 25.6 L456.2 25.3 L456.8 24.9 L457.4 24.5 L457.9 24.0 L458.5 23.5 L459.1 22.9 L459.7 22.3 L460.3 21.6 L460.9 20.9 L461.5 20.2 L462.0 19.5 L462.5 18.7 L463.0 17.9 L463.5 17.0 L463.9 16.2 L464.2 15.5 L464.5 15.0" stroke="url(#g111)" stroke-width="3.10"/>
<path d="M517.7 14.8 L517.2 15.3 L516.6 16.0 L515.8 16.8 L515.0 17.7 L514.2 18.5 L513.5 19.3 L512.9 20.0 L512.4 20.8 L511.8 21.5 L511.4 22.2 L510.9 22.8 L510.4 23.4 L510.0 24.0 L509.5 24.5 L509.2 25.0 L508.8 25.4 L508.3 25.7 L507.8 26.0 L507.2 26.2 L506.6 26.2 L505.9 26.2 L505.1 26.1 L504.5 26.0 L503.8 25.8 L503.2 25.6 L502.6 25.3 L502.0 24.9 L501.4 24.5 L500.9 24.0 L500.3 23.5 L499.7 22.9 L499.1 22.3 L498.5 21.6 L497.9 20.9 L497.3 20.2 L496.8 19.5 L496.3 18.7 L495.8 17.9 L495.3 17.0 L494.9 16.2 L494.6 15.5 L494.3 15.0" stroke="url(#g112)" stroke-width="3.10"/>
<path d="M410.3 117.8 L410.7 117.9 L411.2 117.9 L411.9 118.0 L412.5 118.2 L413.3 118.4 L414.0 118.6 L414.7 118.9 L415.5 119.1 L416.3 119.4 L417.1 119.8 L418.0 120.3 L418.8 121.0 L419.6 121.9 L420.5 122.9 L421.3 124.1 L422.2 125.3 L423.1 126.6 L424.0 128.0 L424.9 129.5 L425.9 131.1 L426.9 132.8 L427.9 134.4 L428.9 136.0 L430.0 137.5 L431.1 138.8 L432.3 140.1 L433.5 141.3 L434.6 142.4 L435.8 143.4 L436.8 144.3 L437.8 145.1 L438.6 145.8 L439.5 146.5 L440.3 147.0 L441.1 147.5 L442.0 148.0 L442.9 148.4 L443.7 148.9 L444.6 149.2 L445.5 149.5 L446.4 149.7 L447.3 149.7 L448.2 149.6 L449.1 149.4 L450.0 149.0 L451.0 148.6 L451.9 148.1 L453.0 147.5 L454.1 146.8 L455.2 145.9 L456.4 145.0 L457.6 144.0 L459.0 143.0 L460.4 142.0 L462.0 141.0 L463.7 139.9 L465.5 138.8 L467.4 137.7 L469.1 136.8 L470.8 136.0 L472.4 135.4 L474.1 135.1 L475.8 134.8 L477.2 134.6 L478.5 134.4 L479.4 134.3" stroke="url(#g113)" stroke-width="3.10"/>
<path d="M548.5 117.8 L548.1 117.9 L547.6 117.9 L546.9 118.0 L546.3 118.2 L545.5 118.4 L544.8 118.6 L544.1 118.9 L543.3 119.1 L542.5 119.4 L541.7 119.8 L540.8 120.3 L540.0 121.0 L539.2 121.9 L538.3 122.9 L537.5 124.1 L536.6 125.3 L535.7 126.6 L534.8 128.0 L533.9 129.5 L532.9 131.1 L531.9 132.8 L530.9 134.4 L529.9 136.0 L528.8 137.5 L527.7 138.8 L526.5 140.1 L525.3 141.3 L524.2 142.4 L523.0 143.4 L522.0 144.3 L521.0 145.1 L520.2 145.8 L519.3 146.5 L518.5 147.0 L517.7 147.5 L516.8 148.0 L515.9 148.4 L515.1 148.9 L514.2 149.2 L513.3 149.5 L512.4 149.7 L511.5 149.7 L510.6 149.6 L509.7 149.4 L508.8 149.0 L507.8 148.6 L506.9 148.1 L505.8 147.5 L504.7 146.8 L503.6 145.9 L502.4 145.0 L501.2 144.0 L499.8 143.0 L498.4 142.0 L496.8 141.0 L495.1 139.9 L493.3 138.8 L491.4 137.7 L489.7 136.8 L488.0 136.0 L486.4 135.4 L484.7 135.1 L483.0 134.8 L481.6 134.6 L480.3 134.4 L479.4 134.3" stroke="url(#g114)" stroke-width="3.10"/>
<path d="M410.3 125.3 L410.7 125.4 L411.2 125.5 L411.9 125.6 L412.5 125.7 L413.3 125.9 L414.0 126.2 L414.7 126.5 L415.5 126.8 L416.3 127.1 L417.1 127.5 L418.0 128.0 L418.8 128.7 L419.6 129.6 L420.5 130.6 L421.3 131.7 L422.2 132.9 L423.1 134.2 L424.0 135.5 L424.9 136.8 L425.9 138.3 L426.9 139.8 L427.9 141.3 L428.9 142.7 L430.0 144.0 L431.1 145.2 L432.3 146.3 L433.5 147.3 L434.6 148.3 L435.8 149.2 L436.8 150.0 L437.8 150.7 L438.6 151.3 L439.5 151.8 L440.3 152.3 L441.1 152.7 L442.0 153.0 L442.9 153.3 L443.7 153.6 L444.6 153.8 L445.5 154.0 L446.4 154.0 L447.3 153.9 L448.2 153.7 L449.1 153.3 L450.0 152.9 L451.0 152.3 L451.9 151.7 L453.0 151.0 L454.1 150.3 L455.2 149.4 L456.4 148.5 L457.6 147.6 L459.0 146.6 L460.4 145.5 L462.0 144.3 L463.7 143.0 L465.5 141.6 L467.4 140.2 L469.1 139.0 L470.8 138.0 L472.4 137.3 L474.1 136.7 L475.8 136.3 L477.2 136.0 L478.5 135.7 L479.4 135.5" stroke="url(#g115)" stroke-width="3.10"/>
<path d="M548.5 125.3 L548.1 125.4 L547.6 125.5 L546.9 125.6 L546.3 125.7 L545.5 125.9 L544.8 126.2 L544.1 126.5 L543.3 126.8 L542.5 127.1 L541.7 127.5 L540.8 128.0 L540.0 128.7 L539.2 129.6 L538.3 130.6 L537.5 131.7 L536.6 132.9 L535.7 134.2 L534.8 135.5 L533.9 136.8 L532.9 138.3 L531.9 139.8 L530.9 141.3 L529.9 142.7 L528.8 144.0 L527.7 145.2 L526.5 146.3 L525.3 147.3 L524.2 148.3 L523.0 149.2 L522.0 150.0 L521.0 150.7 L520.2 151.3 L519.3 151.8 L518.5 152.3 L517.7 152.7 L516.8 153.0 L515.9 153.3 L515.1 153.6 L514.2 153.8 L513.3 154.0 L512.4 154.0 L511.5 153.9 L510.6 153.7 L509.7 153.3 L508.8 152.9 L507.8 152.3 L506.9 151.7 L505.8 151.0 L504.7 150.3 L503.6 149.4 L502.4 148.5 L501.2 147.6 L499.8 146.6 L498.4 145.5 L496.8 144.3 L495.1 143.0 L493.3 141.6 L491.4 140.2 L489.7 139.0 L488.0 138.0 L486.4 137.3 L484.7 136.7 L483.0 136.3 L481.6 136.0 L480.3 135.7 L479.4 135.5" stroke="url(#g116)" stroke-width="3.10"/>
<path d="M432.9 182.0 L433.5 181.1 L434.2 179.9 L435.2 178.5 L436.2 177.0 L437.1 175.4 L438.0 174.0 L438.8 172.6 L439.5 171.3 L440.3 169.9 L441.0 168.5 L441.7 167.2 L442.5 166.0 L443.3 164.9 L444.1 163.8 L444.9 162.8 L445.7 161.9 L446.5 161.0 L447.3 160.2 L448.1 159.4 L448.8 158.7 L449.6 158.1 L450.4 157.5 L451.2 157.0 L452.0 156.5 L452.9 156.1 L453.8 155.7 L454.8 155.4 L455.8 155.1 L456.8 155.0 L457.7 155.0 L458.6 155.2 L459.5 155.5 L460.4 156.0 L461.3 156.5 L462.1 157.0 L463.0 157.5 L463.9 158.0 L464.7 158.6 L465.6 159.1 L466.4 159.7 L467.2 160.3 L468.0 160.8 L468.8 161.3 L469.6 161.8 L470.3 162.3 L471.1 162.7 L471.8 163.1 L472.5 163.5 L473.2 163.8 L473.9 164.1 L474.6 164.3 L475.3 164.5 L475.9 164.7 L476.5 164.8 L477.1 164.9 L477.7 165.0 L478.2 165.1 L478.7 165.1 L479.1 165.2 L479.4 165.2" stroke="url(#g117)" stroke-width="3.10"/>
<path d="M525.9 182.0 L525.3 181.1 L524.6 179.9 L523.6 178.5 L522.6 177.0 L521.7 175.4 L520.8 174.0 L520.0 172.6 L519.3 171.3 L518.5 169.9 L517.8 168.5 L517.1 167.2 L516.3 166.0 L515.5 164.9 L514.7 163.8 L513.9 162.8 L513.1 161.9 L512.3 161.0 L511.5 160.2 L510.7 159.4 L510.0 158.7 L509.2 158.1 L508.4 157.5 L507.6 157.0 L506.8 156.5 L505.9 156.1 L505.0 155.7 L504.0 155.4 L503.0 155.1 L502.0 155.0 L501.1 155.0 L500.2 155.2 L499.3 155.5 L498.4 156.0 L497.5 156.5 L496.7 157.0 L495.8 157.5 L494.9 158.0 L494.1 158.6 L493.2 159.1 L492.4 159.7 L491.6 160.3 L490.8 160.8 L490.0 161.3 L489.2 161.8 L488.5 162.3 L487.7 162.7 L487.0 163.1 L486.3 163.5 L485.6 163.8 L484.9 164.1 L484.2 164.3 L483.5 164.5 L482.9 164.7 L482.3 164.8 L481.7 164.9 L481.1 165.0 L480.6 165.1 L480.1 165.1 L479.7 165.2 L479.4 165.2" stroke="url(#g118)" stroke-width="3.10"/>
<path d="M435.5 182.0 L436.0 181.3 L436.6 180.3 L437.4 179.2 L438.3 177.9 L439.2 176.7 L440.0 175.5 L440.8 174.3 L441.6 173.1 L442.5 171.9 L443.3 170.7 L444.2 169.5 L445.0 168.5 L445.8 167.6 L446.7 166.7 L447.5 166.0 L448.3 165.3 L449.2 164.6 L450.0 164.0 L450.8 163.5 L451.7 163.0 L452.6 162.5 L453.4 162.2 L454.2 161.9 L455.0 161.6 L455.7 161.4 L456.4 161.3 L457.0 161.2 L457.6 161.2 L458.3 161.2 L459.0 161.2 L459.8 161.3 L460.6 161.4 L461.5 161.5 L462.4 161.7 L463.2 161.8 L464.0 162.0 L464.7 162.2 L465.4 162.3 L466.1 162.5 L466.8 162.6 L467.5 162.8 L468.2 163.0 L468.9 163.2 L469.7 163.4 L470.5 163.7 L471.3 163.9 L472.1 164.2 L473.0 164.4 L474.0 164.6 L475.3 164.8 L476.5 165.0 L477.7 165.2 L478.7 165.4 L479.4 165.5" stroke="url(#g119)" stroke-width="3.10"/>
<path d="M523.3 182.0 L522.8 181.3 L522.2 180.3 L521.4 179.2 L520.5 177.9 L519.6 176.7 L518.8 175.5 L518.0 174.3 L517.2 173.1 L516.3 171.9 L515.5 170.7 L514.6 169.5 L513.8 168.5 L513.0 167.6 L512.1 166.7 L511.3 166.0 L510.5 165.3 L509.6 164.6 L508.8 164.0 L508.0 163.5 L507.1 163.0 L506.2 162.5 L505.4 162.2 L504.6 161.9 L503.8 161.6 L503.1 161.4 L502.4 161.3 L501.8 161.2 L501.2 161.2 L500.5 161.2 L499.8 161.2 L499.0 161.3 L498.2 161.4 L497.3 161.5 L496.4 161.7 L495.6 161.8 L494.8 162.0 L494.1 162.2 L493.4 162.3 L492.7 162.5 L492.0 162.6 L491.3 162.8 L490.6 163.0 L489.9 163.2 L489.1 163.4 L488.3 163.7 L487.5 163.9 L486.7 164.2 L485.8 164.4 L484.8 164.6 L483.5 164.8 L482.3 165.0 L481.1 165.2 L480.1 165.4 L479.4 165.5" stroke="url(#g120)" stroke-width="3.10"/>
<path d="M466.0 182.0 L466.3 181.4 L466.7 180.5 L467.2 179.5 L467.8 178.4 L468.4 177.4 L469.0 176.5 L469.6 175.8 L470.3 175.1 L471.0 174.5 L471.7 173.9 L472.4 173.4 L473.0 173.0 L473.6 172.7 L474.2 172.5 L474.8 172.3 L475.4 172.2 L476.0 172.1 L476.5 172.0 L477.1 171.9 L477.6 171.8 L478.2 171.7 L478.7 171.7 L479.1 171.6 L479.4 171.6" stroke="url(#g121)" stroke-width="3.10"/>
<path d="M492.8 182.0 L492.5 181.4 L492.1 180.5 L491.5 179.5 L491.0 178.4 L490.4 177.4 L489.8 176.5 L489.2 175.8 L488.5 175.1 L487.8 174.5 L487.1 173.9 L486.4 173.4 L485.8 173.0 L485.2 172.7 L484.6 172.5 L484.0 172.3 L483.4 172.2 L482.8 172.1 L482.3 172.0 L481.7 171.9 L481.2 171.8 L480.6 171.7 L480.1 171.7 L479.7 171.6 L479.4 171.6" stroke="url(#g122)" stroke-width="3.10"/>
<path d="M470.5 182.0 L470.7 181.5 L471.0 180.9 L471.3 180.2 L471.7 179.4 L472.1 178.6 L472.5 178.0 L472.9 177.5 L473.4 177.0 L473.9 176.5 L474.4 176.1 L474.9 175.8 L475.5 175.5 L476.1 175.3 L476.9 175.2 L477.6 175.1 L478.4 175.1 L479.0 175.0 L479.4 175.0" stroke="url(#g123)" stroke-width="3.10"/>
<path d="M488.3 182.0 L488.1 181.5 L487.8 180.9 L487.5 180.2 L487.1 179.4 L486.7 178.6 L486.3 178.0 L485.9 177.5 L485.4 177.0 L484.9 176.5 L484.4 176.1 L483.9 175.8 L483.3 175.5 L482.7 175.3 L481.9 175.2 L481.2 175.1 L480.4 175.1 L479.8 175.0 L479.4 175.0" stroke="url(#g124)" stroke-width="3.10"/>
</g>
<g stroke="#000" stroke-width="1.3" fill="none">
<line x1="24.9" y1="30.0" x2="28.5" y2="30.0"/>
<line x1="194.5" y1="30.0" x2="198.1" y2="30.0"/>
<line x1="24.9" y1="60.1" x2="28.5" y2="60.1"/>
<line x1="194.5" y1="60.1" x2="198.1" y2="60.1"/>
<line x1="24.9" y1="90.2" x2="28.5" y2="90.2"/>
<line x1="194.5" y1="90.2" x2="198.1" y2="90.2"/>
<line x1="24.9" y1="120.3" x2="28.5" y2="120.3"/>
<line x1="194.5" y1="120.3" x2="198.1" y2="120.3"/>
<line x1="24.9" y1="150.4" x2="28.5" y2="150.4"/>
<line x1="194.5" y1="150.4" x2="198.1" y2="150.4"/>
<line x1="24.9" y1="180.5" x2="28.5" y2="180.5"/>
<line x1="194.5" y1="180.5" x2="198.1" y2="180.5"/>
<line x1="29.0" y1="90.5" x2="194.5" y2="90.5" stroke-width="1" stroke="#222" stroke-dasharray="1 1.05"/>
<line x1="71.2" y1="14.6" x2="71.2" y2="180.5"/>
<line x1="95.9" y1="14.6" x2="95.9" y2="180.5"/>
<line x1="145.2" y1="14.6" x2="145.2" y2="180.5"/>
<rect x="28.5" y="14.6" width="166.0" height="165.9" fill="none"/>
<line x1="220.9" y1="30.0" x2="224.5" y2="30.0"/>
<line x1="390.3" y1="30.0" x2="393.9" y2="30.0"/>
<line x1="220.9" y1="60.1" x2="224.5" y2="60.1"/>
<line x1="390.3" y1="60.1" x2="393.9" y2="60.1"/>
<line x1="220.9" y1="90.2" x2="224.5" y2="90.2"/>
<line x1="390.3" y1="90.2" x2="393.9" y2="90.2"/>
<line x1="220.9" y1="120.3" x2="224.5" y2="120.3"/>
<line x1="390.3" y1="120.3" x2="393.9" y2="120.3"/>
<line x1="220.9" y1="150.4" x2="224.5" y2="150.4"/>
<line x1="390.3" y1="150.4" x2="393.9" y2="150.4"/>
<line x1="220.9" y1="180.5" x2="224.5" y2="180.5"/>
<line x1="390.3" y1="180.5" x2="393.9" y2="180.5"/>
<line x1="225.0" y1="90.5" x2="390.3" y2="90.5" stroke-width="1" stroke="#222" stroke-dasharray="1 1.05"/>
<line x1="267.1" y1="14.6" x2="267.1" y2="180.5"/>
<line x1="291.8" y1="14.6" x2="291.8" y2="180.5"/>
<line x1="341.1" y1="14.6" x2="341.1" y2="180.5"/>
<rect x="224.5" y="14.6" width="165.8" height="165.9" fill="none"/>
<line x1="406.2" y1="33.6" x2="409.8" y2="33.6"/>
<line x1="406.2" y1="75.6" x2="409.8" y2="75.6"/>
<line x1="406.2" y1="117.6" x2="409.8" y2="117.6"/>
<line x1="406.2" y1="159.6" x2="409.8" y2="159.6"/>
<line x1="479.4" y1="14.6" x2="479.4" y2="180.5"/>
<rect x="409.8" y="14.6" width="138.5" height="165.9" fill="none"/>
</g>
<rect x="553" y="35.2" width="8.2" height="129.2" fill="url(#cbar)" stroke="#000" stroke-width="1.1"/>
<text x="20.4" y="33.2" font-size="9.20" text-anchor="end" font-family="Liberation Serif" fill="#000"  >4</text>
<text x="20.4" y="63.3" font-size="9.20" text-anchor="end" font-family="Liberation Serif" fill="#000"  >2</text>
<text x="20.4" y="93.4" font-size="9.20" text-anchor="end" font-family="Liberation Serif" fill="#000"  >0</text>
<text x="20.4" y="123.5" font-size="9.20" text-anchor="end" font-family="Liberation Serif" fill="#000"  >−2</text>
<text x="20.4" y="153.6" font-size="9.20" text-anchor="end" font-family="Liberation Serif" fill="#000"  >−4</text>
<text x="20.4" y="183.7" font-size="9.20" text-anchor="end" font-family="Liberation Serif" fill="#000"  >−6</text>
<text x="216.4" y="33.2" font-size="9.20" text-anchor="end" font-family="Liberation Serif" fill="#000"  >4</text>
<text x="216.4" y="63.3" font-size="9.20" text-anchor="end" font-family="Liberation Serif" fill="#000"  >2</text>
<text x="216.4" y="93.4" font-size="9.20" text-anchor="end" font-family="Liberation Serif" fill="#000"  >0</text>
<text x="216.4" y="123.5" font-size="9.20" text-anchor="end" font-family="Liberation Serif" fill="#000"  >−2</text>
<text x="216.4" y="153.6" font-size="9.20" text-anchor="end" font-family="Liberation Serif" fill="#000"  >−4</text>
<text x="216.4" y="183.7" font-size="9.20" text-anchor="end" font-family="Liberation Serif" fill="#000"  >−6</text>
<text x="405.5" y="36.8" font-size="9.20" text-anchor="end" font-family="Liberation Serif" fill="#000"  >2</text>
<text x="405.5" y="78.8" font-size="9.20" text-anchor="end" font-family="Liberation Serif" fill="#000"  >1</text>
<text x="405.5" y="120.8" font-size="9.20" text-anchor="end" font-family="Liberation Serif" fill="#000"  >0</text>
<text x="405.5" y="162.8" font-size="9.20" text-anchor="end" font-family="Liberation Serif" fill="#000"  >−1</text>
<text x="28.5" y="192.3" font-size="9.30" text-anchor="middle" font-family="Liberation Serif" fill="#000"  >Γ</text>
<text x="71.2" y="192.3" font-size="9.30" text-anchor="middle" font-family="Liberation Serif" fill="#000"  >M</text>
<text x="95.9" y="192.3" font-size="9.30" text-anchor="middle" font-family="Liberation Serif" fill="#000"  >K</text>
<text x="145.2" y="192.3" font-size="9.30" text-anchor="middle" font-family="Liberation Serif" fill="#000"  >Γ</text>
<text x="193.3" y="192.3" font-size="9.30" text-anchor="middle" font-family="Liberation Serif" fill="#000"  >−K</text>
<text x="224.5" y="192.3" font-size="9.30" text-anchor="middle" font-family="Liberation Serif" fill="#000"  >Γ</text>
<text x="267.1" y="192.3" font-size="9.30" text-anchor="middle" font-family="Liberation Serif" fill="#000"  >M</text>
<text x="291.8" y="192.3" font-size="9.30" text-anchor="middle" font-family="Liberation Serif" fill="#000"  >K</text>
<text x="341.1" y="192.3" font-size="9.30" text-anchor="middle" font-family="Liberation Serif" fill="#000"  >Γ</text>
<text x="389.1" y="192.3" font-size="9.30" text-anchor="middle" font-family="Liberation Serif" fill="#000"  >−K</text>
<text x="409.8" y="192.3" font-size="9.30" text-anchor="middle" font-family="Liberation Serif" fill="#000"  >K</text>
<text x="445.5" y="192.3" font-size="9.30" text-anchor="middle" font-family="Liberation Serif" fill="#000"  >Λ</text>
<text x="479.4" y="192.3" font-size="9.30" text-anchor="middle" font-family="Liberation Serif" fill="#000"  >Γ</text>
<text x="519.5" y="192.3" font-size="9.30" text-anchor="middle" font-family="Liberation Serif" fill="#000"  >−Λ</text>
<text x="546.0" y="192.3" font-size="9.30" text-anchor="middle" font-family="Liberation Serif" fill="#000"  >−K</text>
<text x="0.2" y="10.8" font-size="9.50" text-anchor="start" font-family="Liberation Serif" fill="#000"  >a)</text>
<text x="206.0" y="10.1" font-size="9.50" text-anchor="start" font-family="Liberation Serif" fill="#000"  >b)</text>
<text x="396.5" y="10.3" font-size="9.50" text-anchor="start" font-family="Liberation Serif" fill="#000"  >c)</text>
<text x="1.0" y="205.0" font-size="9.50" text-anchor="start" font-family="Liberation Serif" fill="#000"  >d)</text>
<text x="100" y="9.8" font-family="Liberation Serif" font-size="12.5" font-style="italic">m</text>
<text x="109.4" y="5.6" font-family="Liberation Serif" font-size="7.6">orb,loc</text>
<text x="302.2" y="9.8" font-family="Liberation Serif" font-size="12.5" font-style="italic">m</text>
<text x="311.6" y="5.6" font-family="Liberation Serif" font-size="7.6">orb</text>
<text x="442.8" y="9.8" font-family="Liberation Serif" font-size="12.5" font-style="italic">m</text>
<text x="456.8" y="9.8" font-family="Liberation Serif" font-size="11.5">=</text>
<text x="468.6" y="9.8" font-family="Liberation Serif" font-size="12.5" font-style="italic">m</text>
<text x="477.8" y="5.6" font-family="Liberation Serif" font-size="7.2">orb</text>
<text x="487.6" y="9.8" font-family="Liberation Serif" font-size="11.5">+</text>
<text x="495.4" y="9.8" font-family="Liberation Serif" font-size="12.5" font-style="italic">m</text>
<text x="504.8" y="5.6" font-family="Liberation Serif" font-size="7.6">spin</text>
<text transform="translate(8.2,98.3) rotate(-90)" text-anchor="middle" font-family="Liberation Serif" font-size="9.8">Energy (eV)</text>
<line x1="561.2" y1="48.1" x2="564.2" y2="48.1" stroke="#000" stroke-width="1"/>
<text x="567.4" y="51.9" font-size="9.20" text-anchor="start" font-family="Liberation Serif" fill="#000"  >4</text>
<line x1="561.2" y1="74.0" x2="564.2" y2="74.0" stroke="#000" stroke-width="1"/>
<text x="567.4" y="77.8" font-size="9.20" text-anchor="start" font-family="Liberation Serif" fill="#000"  >2</text>
<line x1="561.2" y1="99.8" x2="564.2" y2="99.8" stroke="#000" stroke-width="1"/>
<text x="567.4" y="103.6" font-size="9.20" text-anchor="start" font-family="Liberation Serif" fill="#000"  >0</text>
<line x1="561.2" y1="125.6" x2="564.2" y2="125.6" stroke="#000" stroke-width="1"/>
<text x="566.2" y="129.4" font-size="9.20" text-anchor="start" font-family="Liberation Serif" fill="#000"  >−2</text>
<line x1="561.2" y1="151.5" x2="564.2" y2="151.5" stroke="#000" stroke-width="1"/>
<text x="566.2" y="155.3" font-size="9.20" text-anchor="start" font-family="Liberation Serif" fill="#000"  >−4</text>
<polygon points="511.3,64.0 532.3,76.0 532.3,100.0 511.3,112.0 490.5,100.0 490.5,76.0" fill="none" stroke="#000" stroke-width="1.45"/>
<circle cx="511.8" cy="88.0" r="1.4" fill="#000"/>
<circle cx="532.3" cy="76.0" r="1.4" fill="#000"/>
<circle cx="532.3" cy="88.0" r="1.4" fill="#000"/>
<circle cx="532.3" cy="100.0" r="1.4" fill="#000"/>
<text x="503.8" y="91.4" font-size="9.30" text-anchor="start" font-family="Liberation Serif" fill="#000"  >Γ</text>
<text x="534.3" y="78.3" font-size="9.30" text-anchor="start" font-family="Liberation Serif" fill="#000"  >K</text>
<text x="533.6" y="91.4" font-size="9.30" text-anchor="start" font-family="Liberation Serif" fill="#000"  >M</text>
<text x="534.3" y="107.0" font-size="9.30" text-anchor="start" font-family="Liberation Serif" fill="#000"  >K</text>
<path d="M46.6 222.6 L48.2 225.4 L49.8 228.2 L51.4 230.9 L53.0 233.5 L54.6 236.0 L56.2 238.3 L57.8 240.4 L59.4 242.3 L61.0 243.9 L62.6 245.2 L64.2 245.9 L65.8 246.2 L67.4 245.9 L69.0 245.2 L70.6 243.9 L72.2 242.3 L73.8 240.4 L75.4 238.3 L77.0 236.0 L78.6 233.5 L80.2 230.9 L81.8 228.2 L83.4 225.4 L85.0 222.6" fill="none" stroke="#0a0aa0" stroke-width="1.7"/>
<path d="M49.4 222.6 L50.8 225.8 L52.1 229.0 L53.5 232.1 L54.9 235.0 L56.2 237.9 L57.6 240.6 L59.0 243.0 L60.3 245.2 L61.7 247.0 L63.1 248.4 L64.4 249.3 L65.8 249.6 L67.2 249.3 L68.5 248.4 L69.9 247.0 L71.3 245.2 L72.6 243.0 L74.0 240.6 L75.4 237.9 L76.7 235.0 L78.1 232.1 L79.5 229.0 L80.8 225.8 L82.2 222.6" fill="none" stroke="#9c0a0a" stroke-width="1.7"/>
<path d="M46.2 303.4 L47.8 300.6 L49.5 297.8 L51.1 295.1 L52.7 292.5 L54.4 290.0 L56.0 287.7 L57.6 285.6 L59.3 283.7 L60.9 282.1 L62.5 280.8 L64.2 280.1 L65.8 279.8 L67.4 280.1 L69.1 280.8 L70.7 282.1 L72.3 283.7 L74.0 285.6 L75.6 287.7 L77.2 290.0 L78.9 292.5 L80.5 295.1 L82.1 297.8 L83.8 300.6 L85.4 303.4" fill="none" stroke="#9c0a0a" stroke-width="1.7"/>
<path d="M55.2 303.4 L56.1 302.0 L57.0 300.7 L57.8 299.3 L58.7 298.1 L59.6 296.8 L60.5 295.7 L61.4 294.6 L62.3 293.7 L63.1 292.9 L64.0 292.3 L64.9 291.9 L65.8 291.8 L66.7 291.9 L67.6 292.3 L68.5 292.9 L69.3 293.7 L70.2 294.6 L71.1 295.7 L72.0 296.8 L72.9 298.1 L73.8 299.3 L74.6 300.7 L75.5 302.0 L76.4 303.4" fill="none" stroke="#0a0aa0" stroke-width="1.7"/>
<line x1="65.8" y1="217" x2="65.8" y2="303.6" stroke="#000" stroke-width="1.3"/>
<path d="M65.8 209.3 Q67.0 214 68.9 220.6 Q66.8 218.2 65.8 217.6 Q64.8 218.2 62.7 220.6 Q64.6 214 65.8 209.3 Z" fill="#000"/>
<text x="69.2" y="225.0" font-family="Liberation Serif" font-size="10.4" font-style="italic">E</text>
<text x="65.8" y="311.8" font-family="Liberation Serif" font-size="10" text-anchor="middle">K</text>
<text x="50.8" y="205.6" font-family="Liberation Sans" font-size="10" font-weight="bold">MoSe<tspan font-size="6.8" dy="2.4">2</tspan></text>
<text x="2.5" y="237.7" font-family="Liberation Serif" font-size="9.3" font-style="italic" fill="#8f0000" textLength="7.4" lengthAdjust="spacingAndGlyphs">m</text>
<text x="10.0" y="233.5" font-family="Liberation Serif" font-size="6.3" fill="#8f0000">spin</text>
<path d="M20.8 233.1H27.2M20.8 235.4H27.2" stroke="#8f0000" stroke-width="0.75" fill="none"/>
<path d="M27.3 234.2H33.8M30.5 231.0V237.5" stroke="#8f0000" stroke-width="0.75" fill="none"/>
<text x="34.7" y="237.7" font-family="Liberation Serif" font-size="10" fill="#8f0000">1</text>
<text x="2.5" y="247.5" font-family="Liberation Serif" font-size="9.3" font-style="italic" fill="#8f0000" textLength="7.4" lengthAdjust="spacingAndGlyphs">m</text>
<text x="10.2" y="242.9" font-family="Liberation Serif" font-size="6.3" fill="#8f0000">orb</text>
<text x="10.6" y="248.7" font-family="Liberation Serif" font-size="6.3" fill="#8f0000">loc</text>
<path d="M20.8 242.9H27.2M20.8 245.2H27.2" stroke="#8f0000" stroke-width="0.75" fill="none"/>
<path d="M27.3 244.1H32.9" stroke="#8f0000" stroke-width="0.75" fill="none"/>
<text x="33.0" y="247.5" font-family="Liberation Serif" font-size="10" fill="#8f0000">0.1</text>
<text x="2.5" y="257.3" font-family="Liberation Serif" font-size="9.3" font-style="italic" fill="#8f0000" textLength="7.4" lengthAdjust="spacingAndGlyphs">m</text>
<text x="10.0" y="253.1" font-family="Liberation Serif" font-size="6.3" fill="#8f0000">val</text>
<path d="M20.8 252.7H27.2M20.8 255.0H27.2" stroke="#8f0000" stroke-width="0.75" fill="none"/>
<text x="27.6" y="257.3" font-family="Liberation Serif" font-size="10" fill="#8f0000">1.8</text>
<path d="M41.2 231.8 Q45.2 231.8 45.2 235.0 L45.2 241.5 Q45.2 244.7 50.4 244.7 Q45.2 244.7 45.2 247.9 L45.2 254.4 Q45.2 257.6 41.2 257.6" fill="none" stroke="#8f0000" stroke-width="1.35"/>
<text x="91.7" y="232.2" font-family="Liberation Serif" font-size="9.3" font-style="italic" fill="#00008f" textLength="7.4" lengthAdjust="spacingAndGlyphs">m</text>
<text x="99.2" y="228.0" font-family="Liberation Serif" font-size="6.3" fill="#00008f">spin</text>
<path d="M110.0 227.6H116.4M110.0 229.9H116.4" stroke="#00008f" stroke-width="0.75" fill="none"/>
<path d="M116.5 228.8H122.1" stroke="#00008f" stroke-width="0.75" fill="none"/>
<text x="122.2" y="232.2" font-family="Liberation Serif" font-size="10" fill="#00008f">1</text>
<text x="91.7" y="241.8" font-family="Liberation Serif" font-size="9.3" font-style="italic" fill="#00008f" textLength="7.4" lengthAdjust="spacingAndGlyphs">m</text>
<text x="99.4" y="237.2" font-family="Liberation Serif" font-size="6.3" fill="#00008f">orb</text>
<text x="99.8" y="243.0" font-family="Liberation Serif" font-size="6.3" fill="#00008f">loc</text>
<path d="M110.0 237.2H116.4M110.0 239.5H116.4" stroke="#00008f" stroke-width="0.75" fill="none"/>
<path d="M116.5 238.3H122.1" stroke="#00008f" stroke-width="0.75" fill="none"/>
<text x="122.2" y="241.8" font-family="Liberation Serif" font-size="10" fill="#00008f">0.1</text>
<text x="91.7" y="252.0" font-family="Liberation Serif" font-size="9.3" font-style="italic" fill="#00008f" textLength="7.4" lengthAdjust="spacingAndGlyphs">m</text>
<text x="99.2" y="247.8" font-family="Liberation Serif" font-size="6.3" fill="#00008f">val</text>
<path d="M110.0 247.4H116.4M110.0 249.7H116.4" stroke="#00008f" stroke-width="0.75" fill="none"/>
<text x="116.8" y="252.0" font-family="Liberation Serif" font-size="10" fill="#00008f">1.6</text>
<path d="M91.2 226.9 Q86.6 226.9 86.6 230.1 L86.6 236.3 Q86.6 239.5 82.0 239.5 Q86.6 239.5 86.6 242.7 L86.6 249.0 Q86.6 252.2 91.2 252.2" fill="none" stroke="#00008f" stroke-width="1.35"/>
<text x="3.1" y="279.4" font-family="Liberation Serif" font-size="9.3" font-style="italic" fill="#8f0000" textLength="7.4" lengthAdjust="spacingAndGlyphs">m</text>
<text x="10.6" y="275.2" font-family="Liberation Serif" font-size="6.3" fill="#8f0000">spin</text>
<path d="M21.4 274.8H27.8M21.4 277.1H27.8" stroke="#8f0000" stroke-width="0.75" fill="none"/>
<path d="M27.9 276.0H34.4M31.1 272.7V279.2" stroke="#8f0000" stroke-width="0.75" fill="none"/>
<text x="35.3" y="279.4" font-family="Liberation Serif" font-size="10" fill="#8f0000">1</text>
<text x="3.1" y="288.6" font-family="Liberation Serif" font-size="9.3" font-style="italic" fill="#8f0000" textLength="7.4" lengthAdjust="spacingAndGlyphs">m</text>
<text x="10.8" y="284.0" font-family="Liberation Serif" font-size="6.3" fill="#8f0000">orb</text>
<text x="11.2" y="289.8" font-family="Liberation Serif" font-size="6.3" fill="#8f0000">loc</text>
<path d="M21.4 284.0H27.8M21.4 286.3H27.8" stroke="#8f0000" stroke-width="0.75" fill="none"/>
<text x="28.2" y="288.6" font-family="Liberation Serif" font-size="10" fill="#8f0000">1.9</text>
<text x="3.1" y="299.2" font-family="Liberation Serif" font-size="9.3" font-style="italic" fill="#8f0000" textLength="7.4" lengthAdjust="spacingAndGlyphs">m</text>
<text x="10.6" y="295.0" font-family="Liberation Serif" font-size="6.3" fill="#8f0000">val</text>
<path d="M21.4 294.6H27.8M21.4 296.9H27.8" stroke="#8f0000" stroke-width="0.75" fill="none"/>
<text x="28.2" y="299.2" font-family="Liberation Serif" font-size="10" fill="#8f0000">2.1</text>
<path d="M41.2 273.8 Q45.0 273.8 45.0 277.0 L45.0 283.4 Q45.0 286.6 50.2 286.6 Q45.0 286.6 45.0 289.8 L45.0 296.1 Q45.0 299.3 41.2 299.3" fill="none" stroke="#8f0000" stroke-width="1.35"/>
<text x="92.3" y="285.0" font-family="Liberation Serif" font-size="9.3" font-style="italic" fill="#00008f" textLength="7.4" lengthAdjust="spacingAndGlyphs">m</text>
<text x="99.8" y="280.8" font-family="Liberation Serif" font-size="6.3" fill="#00008f">spin</text>
<path d="M110.6 280.4H117.0M110.6 282.7H117.0" stroke="#00008f" stroke-width="0.75" fill="none"/>
<path d="M117.1 281.6H122.7" stroke="#00008f" stroke-width="0.75" fill="none"/>
<text x="122.8" y="285.0" font-family="Liberation Serif" font-size="10" fill="#00008f">1</text>
<text x="92.3" y="294.9" font-family="Liberation Serif" font-size="9.3" font-style="italic" fill="#00008f" textLength="7.4" lengthAdjust="spacingAndGlyphs">m</text>
<text x="100.0" y="290.3" font-family="Liberation Serif" font-size="6.3" fill="#00008f">orb</text>
<text x="100.4" y="296.1" font-family="Liberation Serif" font-size="6.3" fill="#00008f">loc</text>
<path d="M110.6 290.3H117.0M110.6 292.6H117.0" stroke="#00008f" stroke-width="0.75" fill="none"/>
<text x="117.4" y="294.9" font-family="Liberation Serif" font-size="10" fill="#00008f">1.9</text>
<text x="92.3" y="305.1" font-family="Liberation Serif" font-size="9.3" font-style="italic" fill="#00008f" textLength="7.4" lengthAdjust="spacingAndGlyphs">m</text>
<text x="99.8" y="300.9" font-family="Liberation Serif" font-size="6.3" fill="#00008f">val</text>
<path d="M110.6 300.5H117.0M110.6 302.8H117.0" stroke="#00008f" stroke-width="0.75" fill="none"/>
<text x="117.4" y="305.1" font-family="Liberation Serif" font-size="10" fill="#00008f">1.9</text>
<path d="M91.6 279.6 Q87.2 279.6 87.2 282.8 L87.2 289.4 Q87.2 292.6 83.4 292.6 Q87.2 292.6 87.2 295.8 L87.2 302.4 Q87.2 305.6 91.6 305.6" fill="none" stroke="#00008f" stroke-width="1.35"/>
<path d="M190.9 222.6 L192.5 225.4 L194.1 228.2 L195.7 230.9 L197.3 233.5 L198.9 236.0 L200.5 238.4 L202.1 240.5 L203.7 242.4 L205.3 244.0 L206.9 245.3 L208.5 246.0 L210.1 246.3 L211.7 246.0 L213.3 245.3 L214.9 244.0 L216.5 242.4 L218.1 240.5 L219.7 238.4 L221.3 236.0 L222.9 233.5 L224.5 230.9 L226.1 228.2 L227.7 225.4 L229.3 222.6" fill="none" stroke="#0a0aa0" stroke-width="1.7"/>
<path d="M193.7 222.6 L195.1 225.8 L196.4 229.0 L197.8 232.0 L199.2 235.0 L200.5 237.8 L201.9 240.5 L203.3 242.9 L204.6 245.1 L206.0 246.9 L207.4 248.3 L208.7 249.2 L210.1 249.5 L211.5 249.2 L212.8 248.3 L214.2 246.9 L215.6 245.1 L216.9 242.9 L218.3 240.5 L219.7 237.8 L221.0 235.0 L222.4 232.0 L223.8 229.0 L225.1 225.8 L226.5 222.6" fill="none" stroke="#9c0a0a" stroke-width="1.7"/>
<path d="M190.5 303.4 L192.1 300.6 L193.8 297.8 L195.4 295.1 L197.0 292.5 L198.7 290.0 L200.3 287.7 L201.9 285.6 L203.6 283.7 L205.2 282.1 L206.8 280.8 L208.5 280.1 L210.1 279.8 L211.7 280.1 L213.4 280.8 L215.0 282.1 L216.6 283.7 L218.3 285.6 L219.9 287.7 L221.5 290.0 L223.2 292.5 L224.8 295.1 L226.4 297.8 L228.1 300.6 L229.7 303.4" fill="none" stroke="#9c0a0a" stroke-width="1.7"/>
<path d="M199.5 303.4 L200.4 302.0 L201.3 300.7 L202.2 299.3 L203.0 298.1 L203.9 296.8 L204.8 295.7 L205.7 294.6 L206.6 293.7 L207.4 292.9 L208.3 292.3 L209.2 291.9 L210.1 291.8 L211.0 291.9 L211.9 292.3 L212.8 292.9 L213.6 293.7 L214.5 294.6 L215.4 295.7 L216.3 296.8 L217.2 298.1 L218.0 299.3 L218.9 300.7 L219.8 302.0 L220.7 303.4" fill="none" stroke="#0a0aa0" stroke-width="1.7"/>
<line x1="210.1" y1="217" x2="210.1" y2="303.6" stroke="#000" stroke-width="1.3"/>
<path d="M210.1 209.3 Q211.3 214 213.2 220.6 Q211.1 218.2 210.1 217.6 Q209.1 218.2 207.0 220.6 Q208.9 214 210.1 209.3 Z" fill="#000"/>
<text x="213.5" y="225.0" font-family="Liberation Serif" font-size="10.4" font-style="italic">E</text>
<text x="210.1" y="311.8" font-family="Liberation Serif" font-size="10" text-anchor="middle">K</text>
<text x="197.7" y="205.6" font-family="Liberation Sans" font-size="10" font-weight="bold">MoS<tspan font-size="6.8" dy="2.4">2</tspan></text>
<text x="146.8" y="237.7" font-family="Liberation Serif" font-size="9.3" font-style="italic" fill="#8f0000" textLength="7.4" lengthAdjust="spacingAndGlyphs">m</text>
<text x="154.3" y="233.5" font-family="Liberation Serif" font-size="6.3" fill="#8f0000">spin</text>
<path d="M165.1 233.1H171.5M165.1 235.4H171.5" stroke="#8f0000" stroke-width="0.75" fill="none"/>
<path d="M171.6 234.2H178.1M174.8 231.0V237.5" stroke="#8f0000" stroke-width="0.75" fill="none"/>
<text x="179.0" y="237.7" font-family="Liberation Serif" font-size="10" fill="#8f0000">1</text>
<text x="146.8" y="247.5" font-family="Liberation Serif" font-size="9.3" font-style="italic" fill="#8f0000" textLength="7.4" lengthAdjust="spacingAndGlyphs">m</text>
<text x="154.5" y="242.9" font-family="Liberation Serif" font-size="6.3" fill="#8f0000">orb</text>
<text x="154.9" y="248.7" font-family="Liberation Serif" font-size="6.3" fill="#8f0000">loc</text>
<path d="M165.1 242.9H171.5M165.1 245.2H171.5" stroke="#8f0000" stroke-width="0.75" fill="none"/>
<path d="M171.6 244.1H177.2" stroke="#8f0000" stroke-width="0.75" fill="none"/>
<text x="177.3" y="247.5" font-family="Liberation Serif" font-size="10" fill="#8f0000">0.1</text>
<text x="146.8" y="257.3" font-family="Liberation Serif" font-size="9.3" font-style="italic" fill="#8f0000" textLength="7.4" lengthAdjust="spacingAndGlyphs">m</text>
<text x="154.3" y="253.1" font-family="Liberation Serif" font-size="6.3" fill="#8f0000">val</text>
<path d="M165.1 252.7H171.5M165.1 255.0H171.5" stroke="#8f0000" stroke-width="0.75" fill="none"/>
<text x="171.9" y="257.3" font-family="Liberation Serif" font-size="10" fill="#8f0000">2.1</text>
<path d="M185.5 231.8 Q189.5 231.8 189.5 235.0 L189.5 241.5 Q189.5 244.7 194.7 244.7 Q189.5 244.7 189.5 247.9 L189.5 254.4 Q189.5 257.6 185.5 257.6" fill="none" stroke="#8f0000" stroke-width="1.35"/>
<text x="236.0" y="232.2" font-family="Liberation Serif" font-size="9.3" font-style="italic" fill="#00008f" textLength="7.4" lengthAdjust="spacingAndGlyphs">m</text>
<text x="243.5" y="228.0" font-family="Liberation Serif" font-size="6.3" fill="#00008f">spin</text>
<path d="M254.3 227.6H260.7M254.3 229.9H260.7" stroke="#00008f" stroke-width="0.75" fill="none"/>
<path d="M260.8 228.8H266.4" stroke="#00008f" stroke-width="0.75" fill="none"/>
<text x="266.5" y="232.2" font-family="Liberation Serif" font-size="10" fill="#00008f">1</text>
<text x="236.0" y="241.8" font-family="Liberation Serif" font-size="9.3" font-style="italic" fill="#00008f" textLength="7.4" lengthAdjust="spacingAndGlyphs">m</text>
<text x="243.7" y="237.2" font-family="Liberation Serif" font-size="6.3" fill="#00008f">orb</text>
<text x="244.1" y="243.0" font-family="Liberation Serif" font-size="6.3" fill="#00008f">loc</text>
<path d="M254.3 237.2H260.7M254.3 239.5H260.7" stroke="#00008f" stroke-width="0.75" fill="none"/>
<path d="M260.8 238.3H266.4" stroke="#00008f" stroke-width="0.75" fill="none"/>
<text x="266.5" y="241.8" font-family="Liberation Serif" font-size="10" fill="#00008f">0.1</text>
<text x="236.0" y="252.0" font-family="Liberation Serif" font-size="9.3" font-style="italic" fill="#00008f" textLength="7.4" lengthAdjust="spacingAndGlyphs">m</text>
<text x="243.5" y="247.8" font-family="Liberation Serif" font-size="6.3" fill="#00008f">val</text>
<path d="M254.3 247.4H260.7M254.3 249.7H260.7" stroke="#00008f" stroke-width="0.75" fill="none"/>
<text x="261.1" y="252.0" font-family="Liberation Serif" font-size="10" fill="#00008f">1.9</text>
<path d="M235.5 226.9 Q230.9 226.9 230.9 230.1 L230.9 236.3 Q230.9 239.5 226.3 239.5 Q230.9 239.5 230.9 242.7 L230.9 249.0 Q230.9 252.2 235.5 252.2" fill="none" stroke="#00008f" stroke-width="1.35"/>
<text x="147.4" y="279.4" font-family="Liberation Serif" font-size="9.3" font-style="italic" fill="#8f0000" textLength="7.4" lengthAdjust="spacingAndGlyphs">m</text>
<text x="154.9" y="275.2" font-family="Liberation Serif" font-size="6.3" fill="#8f0000">spin</text>
<path d="M165.7 274.8H172.1M165.7 277.1H172.1" stroke="#8f0000" stroke-width="0.75" fill="none"/>
<path d="M172.2 276.0H178.7M175.4 272.7V279.2" stroke="#8f0000" stroke-width="0.75" fill="none"/>
<text x="179.6" y="279.4" font-family="Liberation Serif" font-size="10" fill="#8f0000">1</text>
<text x="147.4" y="288.6" font-family="Liberation Serif" font-size="9.3" font-style="italic" fill="#8f0000" textLength="7.4" lengthAdjust="spacingAndGlyphs">m</text>
<text x="155.1" y="284.0" font-family="Liberation Serif" font-size="6.3" fill="#8f0000">orb</text>
<text x="155.5" y="289.8" font-family="Liberation Serif" font-size="6.3" fill="#8f0000">loc</text>
<path d="M165.7 284.0H172.1M165.7 286.3H172.1" stroke="#8f0000" stroke-width="0.75" fill="none"/>
<text x="172.5" y="288.6" font-family="Liberation Serif" font-size="10" fill="#8f0000">1.9</text>
<text x="147.4" y="299.2" font-family="Liberation Serif" font-size="9.3" font-style="italic" fill="#8f0000" textLength="7.4" lengthAdjust="spacingAndGlyphs">m</text>
<text x="154.9" y="295.0" font-family="Liberation Serif" font-size="6.3" fill="#8f0000">val</text>
<path d="M165.7 294.6H172.1M165.7 296.9H172.1" stroke="#8f0000" stroke-width="0.75" fill="none"/>
<text x="172.5" y="299.2" font-family="Liberation Serif" font-size="10" fill="#8f0000">2.2</text>
<path d="M185.5 273.8 Q189.3 273.8 189.3 277.0 L189.3 283.4 Q189.3 286.6 194.5 286.6 Q189.3 286.6 189.3 289.8 L189.3 296.1 Q189.3 299.3 185.5 299.3" fill="none" stroke="#8f0000" stroke-width="1.35"/>
<text x="236.6" y="285.0" font-family="Liberation Serif" font-size="9.3" font-style="italic" fill="#00008f" textLength="7.4" lengthAdjust="spacingAndGlyphs">m</text>
<text x="244.1" y="280.8" font-family="Liberation Serif" font-size="6.3" fill="#00008f">spin</text>
<path d="M254.9 280.4H261.3M254.9 282.7H261.3" stroke="#00008f" stroke-width="0.75" fill="none"/>
<path d="M261.4 281.6H267.0" stroke="#00008f" stroke-width="0.75" fill="none"/>
<text x="267.1" y="285.0" font-family="Liberation Serif" font-size="10" fill="#00008f">1</text>
<text x="236.6" y="294.9" font-family="Liberation Serif" font-size="9.3" font-style="italic" fill="#00008f" textLength="7.4" lengthAdjust="spacingAndGlyphs">m</text>
<text x="244.3" y="290.3" font-family="Liberation Serif" font-size="6.3" fill="#00008f">orb</text>
<text x="244.7" y="296.1" font-family="Liberation Serif" font-size="6.3" fill="#00008f">loc</text>
<path d="M254.9 290.3H261.3M254.9 292.6H261.3" stroke="#00008f" stroke-width="0.75" fill="none"/>
<text x="261.7" y="294.9" font-family="Liberation Serif" font-size="10" fill="#00008f">1.9</text>
<text x="236.6" y="305.1" font-family="Liberation Serif" font-size="9.3" font-style="italic" fill="#00008f" textLength="7.4" lengthAdjust="spacingAndGlyphs">m</text>
<text x="244.1" y="300.9" font-family="Liberation Serif" font-size="6.3" fill="#00008f">val</text>
<path d="M254.9 300.5H261.3M254.9 302.8H261.3" stroke="#00008f" stroke-width="0.75" fill="none"/>
<text x="261.7" y="305.1" font-family="Liberation Serif" font-size="10" fill="#00008f">2.0</text>
<path d="M235.9 279.6 Q231.5 279.6 231.5 282.8 L231.5 289.4 Q231.5 292.6 227.7 292.6 Q231.5 292.6 231.5 295.8 L231.5 302.4 Q231.5 305.6 235.9 305.6" fill="none" stroke="#00008f" stroke-width="1.35"/>
<path d="M334.1 222.6 L335.8 225.3 L337.4 227.9 L339.0 230.5 L340.7 233.0 L342.3 235.4 L344.0 237.6 L345.6 239.7 L347.3 241.5 L348.9 243.0 L350.6 244.2 L352.2 244.9 L353.9 245.2 L355.5 244.9 L357.2 244.2 L358.8 243.0 L360.5 241.5 L362.1 239.7 L363.8 237.6 L365.4 235.4 L367.1 233.0 L368.8 230.5 L370.4 227.9 L372.0 225.3 L373.7 222.6" fill="none" stroke="#0a0aa0" stroke-width="1.7"/>
<path d="M341.6 222.6 L342.6 224.8 L343.6 226.9 L344.7 228.9 L345.7 230.9 L346.7 232.8 L347.8 234.6 L348.8 236.2 L349.8 237.7 L350.8 238.9 L351.8 239.8 L352.9 240.4 L353.9 240.6 L354.9 240.4 L355.9 239.8 L357.0 238.9 L358.0 237.7 L359.0 236.2 L360.0 234.6 L361.1 232.8 L362.1 230.9 L363.1 228.9 L364.1 226.9 L365.2 224.8 L366.2 222.6" fill="none" stroke="#9c0a0a" stroke-width="1.7"/>
<path d="M334.5 303.4 L336.1 300.5 L337.7 297.7 L339.3 294.9 L341.0 292.2 L342.6 289.6 L344.2 287.2 L345.8 285.0 L347.4 283.1 L349.0 281.4 L350.7 280.2 L352.3 279.4 L353.9 279.1 L355.5 279.4 L357.1 280.2 L358.8 281.4 L360.4 283.1 L362.0 285.0 L363.6 287.2 L365.2 289.6 L366.8 292.2 L368.4 294.9 L370.1 297.7 L371.7 300.5 L373.3 303.4" fill="none" stroke="#9c0a0a" stroke-width="1.7"/>
<path d="M346.4 303.4 L347.0 302.6 L347.6 301.9 L348.3 301.2 L348.9 300.5 L349.5 299.8 L350.1 299.1 L350.8 298.6 L351.4 298.0 L352.0 297.6 L352.6 297.3 L353.3 297.1 L353.9 297.0 L354.5 297.1 L355.1 297.3 L355.8 297.6 L356.4 298.0 L357.0 298.6 L357.6 299.1 L358.3 299.8 L358.9 300.5 L359.5 301.2 L360.1 301.9 L360.8 302.6 L361.4 303.4" fill="none" stroke="#0a0aa0" stroke-width="1.7"/>
<line x1="353.9" y1="217" x2="353.9" y2="303.6" stroke="#000" stroke-width="1.3"/>
<path d="M353.9 209.3 Q355.1 214 357.0 220.6 Q354.9 218.2 353.9 217.6 Q352.9 218.2 350.8 220.6 Q352.7 214 353.9 209.3 Z" fill="#000"/>
<text x="357.3" y="225.0" font-family="Liberation Serif" font-size="10.4" font-style="italic">E</text>
<text x="353.9" y="311.8" font-family="Liberation Serif" font-size="10" text-anchor="middle">K</text>
<text x="341.4" y="205.6" font-family="Liberation Sans" font-size="10" font-weight="bold">WSe<tspan font-size="6.8" dy="2.4">2</tspan></text>
<text x="290.6" y="231.4" font-family="Liberation Serif" font-size="9.3" font-style="italic" fill="#8f0000" textLength="7.4" lengthAdjust="spacingAndGlyphs">m</text>
<text x="298.1" y="227.2" font-family="Liberation Serif" font-size="6.3" fill="#8f0000">spin</text>
<path d="M308.9 226.8H315.3M308.9 229.1H315.3" stroke="#8f0000" stroke-width="0.75" fill="none"/>
<path d="M315.4 228.0H321.9M318.6 224.7V231.2" stroke="#8f0000" stroke-width="0.75" fill="none"/>
<text x="322.8" y="231.4" font-family="Liberation Serif" font-size="10" fill="#8f0000">1</text>
<text x="290.6" y="241.2" font-family="Liberation Serif" font-size="9.3" font-style="italic" fill="#8f0000" textLength="7.4" lengthAdjust="spacingAndGlyphs">m</text>
<text x="298.3" y="236.6" font-family="Liberation Serif" font-size="6.3" fill="#8f0000">orb</text>
<text x="298.7" y="242.4" font-family="Liberation Serif" font-size="6.3" fill="#8f0000">loc</text>
<path d="M308.9 236.6H315.3M308.9 238.9H315.3" stroke="#8f0000" stroke-width="0.75" fill="none"/>
<text x="315.7" y="241.2" font-family="Liberation Serif" font-size="10" fill="#8f0000">0.0</text>
<text x="290.6" y="251.0" font-family="Liberation Serif" font-size="9.3" font-style="italic" fill="#8f0000" textLength="7.4" lengthAdjust="spacingAndGlyphs">m</text>
<text x="298.1" y="246.8" font-family="Liberation Serif" font-size="6.3" fill="#8f0000">val</text>
<path d="M308.9 246.4H315.3M308.9 248.7H315.3" stroke="#8f0000" stroke-width="0.75" fill="none"/>
<text x="315.7" y="251.0" font-family="Liberation Serif" font-size="10" fill="#8f0000">3.0</text>
<path d="M329.3 225.5 Q333.3 225.5 333.3 228.7 L333.3 235.2 Q333.3 238.4 338.5 238.4 Q333.3 238.4 333.3 241.6 L333.3 248.1 Q333.3 251.3 329.3 251.3" fill="none" stroke="#8f0000" stroke-width="1.35"/>
<text x="379.8" y="236.6" font-family="Liberation Serif" font-size="9.3" font-style="italic" fill="#00008f" textLength="7.4" lengthAdjust="spacingAndGlyphs">m</text>
<text x="387.3" y="232.4" font-family="Liberation Serif" font-size="6.3" fill="#00008f">spin</text>
<path d="M398.1 232.0H404.5M398.1 234.3H404.5" stroke="#00008f" stroke-width="0.75" fill="none"/>
<path d="M404.6 233.2H410.2" stroke="#00008f" stroke-width="0.75" fill="none"/>
<text x="410.3" y="236.6" font-family="Liberation Serif" font-size="10" fill="#00008f">0.9</text>
<text x="379.8" y="246.2" font-family="Liberation Serif" font-size="9.3" font-style="italic" fill="#00008f" textLength="7.4" lengthAdjust="spacingAndGlyphs">m</text>
<text x="387.5" y="241.6" font-family="Liberation Serif" font-size="6.3" fill="#00008f">orb</text>
<text x="387.9" y="247.4" font-family="Liberation Serif" font-size="6.3" fill="#00008f">loc</text>
<path d="M398.1 241.6H404.5M398.1 243.9H404.5" stroke="#00008f" stroke-width="0.75" fill="none"/>
<text x="404.9" y="246.2" font-family="Liberation Serif" font-size="10" fill="#00008f">0.0</text>
<text x="379.8" y="256.4" font-family="Liberation Serif" font-size="9.3" font-style="italic" fill="#00008f" textLength="7.4" lengthAdjust="spacingAndGlyphs">m</text>
<text x="387.3" y="252.2" font-family="Liberation Serif" font-size="6.3" fill="#00008f">val</text>
<path d="M398.1 251.8H404.5M398.1 254.1H404.5" stroke="#00008f" stroke-width="0.75" fill="none"/>
<text x="404.9" y="256.4" font-family="Liberation Serif" font-size="10" fill="#00008f">1.9</text>
<path d="M379.3 231.3 Q374.7 231.3 374.7 234.5 L374.7 240.8 Q374.7 243.9 370.1 243.9 Q374.7 243.9 374.7 247.1 L374.7 253.4 Q374.7 256.6 379.3 256.6" fill="none" stroke="#00008f" stroke-width="1.35"/>
<text x="291.2" y="278.6" font-family="Liberation Serif" font-size="9.3" font-style="italic" fill="#8f0000" textLength="7.4" lengthAdjust="spacingAndGlyphs">m</text>
<text x="298.7" y="274.4" font-family="Liberation Serif" font-size="6.3" fill="#8f0000">spin</text>
<path d="M309.5 274.0H315.9M309.5 276.3H315.9" stroke="#8f0000" stroke-width="0.75" fill="none"/>
<path d="M316.0 275.2H322.5M319.2 271.9V278.4" stroke="#8f0000" stroke-width="0.75" fill="none"/>
<text x="323.4" y="278.6" font-family="Liberation Serif" font-size="10" fill="#8f0000">1</text>
<text x="291.2" y="287.8" font-family="Liberation Serif" font-size="9.3" font-style="italic" fill="#8f0000" textLength="7.4" lengthAdjust="spacingAndGlyphs">m</text>
<text x="298.9" y="283.2" font-family="Liberation Serif" font-size="6.3" fill="#8f0000">orb</text>
<text x="299.3" y="289.0" font-family="Liberation Serif" font-size="6.3" fill="#8f0000">loc</text>
<path d="M309.5 283.2H315.9M309.5 285.5H315.9" stroke="#8f0000" stroke-width="0.75" fill="none"/>
<text x="316.3" y="287.8" font-family="Liberation Serif" font-size="10" fill="#8f0000">1.8</text>
<text x="291.2" y="298.4" font-family="Liberation Serif" font-size="9.3" font-style="italic" fill="#8f0000" textLength="7.4" lengthAdjust="spacingAndGlyphs">m</text>
<text x="298.7" y="294.2" font-family="Liberation Serif" font-size="6.3" fill="#8f0000">val</text>
<path d="M309.5 293.8H315.9M309.5 296.1H315.9" stroke="#8f0000" stroke-width="0.75" fill="none"/>
<text x="316.3" y="298.4" font-family="Liberation Serif" font-size="10" fill="#8f0000">3.1</text>
<path d="M329.3 273.0 Q333.1 273.0 333.1 276.2 L333.1 282.6 Q333.1 285.8 338.3 285.8 Q333.1 285.8 333.1 288.9 L333.1 295.3 Q333.1 298.5 329.3 298.5" fill="none" stroke="#8f0000" stroke-width="1.35"/>
<text x="380.4" y="284.2" font-family="Liberation Serif" font-size="9.3" font-style="italic" fill="#00008f" textLength="7.4" lengthAdjust="spacingAndGlyphs">m</text>
<text x="387.9" y="280.0" font-family="Liberation Serif" font-size="6.3" fill="#00008f">spin</text>
<path d="M398.7 279.6H405.1M398.7 281.9H405.1" stroke="#00008f" stroke-width="0.75" fill="none"/>
<path d="M405.2 280.8H410.8" stroke="#00008f" stroke-width="0.75" fill="none"/>
<text x="410.9" y="284.2" font-family="Liberation Serif" font-size="10" fill="#00008f">1</text>
<text x="380.4" y="294.1" font-family="Liberation Serif" font-size="9.3" font-style="italic" fill="#00008f" textLength="7.4" lengthAdjust="spacingAndGlyphs">m</text>
<text x="388.1" y="289.5" font-family="Liberation Serif" font-size="6.3" fill="#00008f">orb</text>
<text x="388.5" y="295.3" font-family="Liberation Serif" font-size="6.3" fill="#00008f">loc</text>
<path d="M398.7 289.5H405.1M398.7 291.8H405.1" stroke="#00008f" stroke-width="0.75" fill="none"/>
<text x="405.5" y="294.1" font-family="Liberation Serif" font-size="10" fill="#00008f">1.9</text>
<text x="380.4" y="304.3" font-family="Liberation Serif" font-size="9.3" font-style="italic" fill="#00008f" textLength="7.4" lengthAdjust="spacingAndGlyphs">m</text>
<text x="387.9" y="300.1" font-family="Liberation Serif" font-size="6.3" fill="#00008f">val</text>
<path d="M398.7 299.7H405.1M398.7 302.0H405.1" stroke="#00008f" stroke-width="0.75" fill="none"/>
<text x="405.5" y="304.3" font-family="Liberation Serif" font-size="10" fill="#00008f">2.3</text>
<path d="M379.7 278.8 Q375.3 278.8 375.3 282.0 L375.3 288.6 Q375.3 291.8 371.5 291.8 Q375.3 291.8 375.3 295.0 L375.3 301.6 Q375.3 304.8 379.7 304.8" fill="none" stroke="#00008f" stroke-width="1.35"/>
<path d="M481.5 222.6 L483.1 225.3 L484.8 228.0 L486.4 230.6 L488.0 233.1 L489.7 235.6 L491.3 237.8 L492.9 239.9 L494.6 241.8 L496.2 243.3 L497.8 244.5 L499.5 245.2 L501.1 245.5 L502.7 245.2 L504.4 244.5 L506.0 243.3 L507.6 241.8 L509.3 239.9 L510.9 237.8 L512.5 235.6 L514.2 233.1 L515.8 230.6 L517.4 228.0 L519.1 225.3 L520.7 222.6" fill="none" stroke="#0a0aa0" stroke-width="1.7"/>
<path d="M488.7 222.6 L489.7 224.8 L490.8 226.9 L491.8 228.9 L492.8 230.9 L493.9 232.8 L494.9 234.6 L495.9 236.2 L497.0 237.7 L498.0 238.9 L499.0 239.8 L500.1 240.4 L501.1 240.6 L502.1 240.4 L503.2 239.8 L504.2 238.9 L505.2 237.7 L506.3 236.2 L507.3 234.6 L508.3 232.8 L509.4 230.9 L510.4 228.9 L511.4 226.9 L512.5 224.8 L513.5 222.6" fill="none" stroke="#9c0a0a" stroke-width="1.7"/>
<path d="M481.7 303.4 L483.3 300.5 L484.9 297.7 L486.6 294.9 L488.2 292.2 L489.8 289.6 L491.4 287.2 L493.0 285.0 L494.6 283.1 L496.2 281.4 L497.9 280.2 L499.5 279.4 L501.1 279.1 L502.7 279.4 L504.3 280.2 L506.0 281.4 L507.6 283.1 L509.2 285.0 L510.8 287.2 L512.4 289.6 L514.0 292.2 L515.6 294.9 L517.3 297.7 L518.9 300.5 L520.5 303.4" fill="none" stroke="#9c0a0a" stroke-width="1.7"/>
<path d="M493.6 303.4 L494.2 302.6 L494.9 301.9 L495.5 301.2 L496.1 300.5 L496.7 299.8 L497.4 299.1 L498.0 298.6 L498.6 298.0 L499.2 297.6 L499.9 297.3 L500.5 297.1 L501.1 297.0 L501.7 297.1 L502.4 297.3 L503.0 297.6 L503.6 298.0 L504.2 298.6 L504.9 299.1 L505.5 299.8 L506.1 300.5 L506.7 301.2 L507.4 301.9 L508.0 302.6 L508.6 303.4" fill="none" stroke="#0a0aa0" stroke-width="1.7"/>
<line x1="501.1" y1="217" x2="501.1" y2="303.6" stroke="#000" stroke-width="1.3"/>
<path d="M501.1 209.3 Q502.3 214 504.2 220.6 Q502.1 218.2 501.1 217.6 Q500.1 218.2 498.0 220.6 Q499.9 214 501.1 209.3 Z" fill="#000"/>
<text x="504.5" y="225.0" font-family="Liberation Serif" font-size="10.4" font-style="italic">E</text>
<text x="501.1" y="311.8" font-family="Liberation Serif" font-size="10" text-anchor="middle">K</text>
<text x="492.0" y="205.6" font-family="Liberation Sans" font-size="10" font-weight="bold">WS<tspan font-size="6.8" dy="2.4">2</tspan></text>
<text x="437.8" y="231.4" font-family="Liberation Serif" font-size="9.3" font-style="italic" fill="#8f0000" textLength="7.4" lengthAdjust="spacingAndGlyphs">m</text>
<text x="445.3" y="227.2" font-family="Liberation Serif" font-size="6.3" fill="#8f0000">spin</text>
<path d="M456.1 226.8H462.5M456.1 229.1H462.5" stroke="#8f0000" stroke-width="0.75" fill="none"/>
<path d="M462.6 228.0H469.1M465.9 224.7V231.2" stroke="#8f0000" stroke-width="0.75" fill="none"/>
<text x="470.0" y="231.4" font-family="Liberation Serif" font-size="10" fill="#8f0000">1</text>
<text x="437.8" y="241.2" font-family="Liberation Serif" font-size="9.3" font-style="italic" fill="#8f0000" textLength="7.4" lengthAdjust="spacingAndGlyphs">m</text>
<text x="445.5" y="236.6" font-family="Liberation Serif" font-size="6.3" fill="#8f0000">orb</text>
<text x="445.9" y="242.4" font-family="Liberation Serif" font-size="6.3" fill="#8f0000">loc</text>
<path d="M456.1 236.6H462.5M456.1 238.9H462.5" stroke="#8f0000" stroke-width="0.75" fill="none"/>
<text x="462.9" y="241.2" font-family="Liberation Serif" font-size="10" fill="#8f0000">0.0</text>
<text x="437.8" y="251.0" font-family="Liberation Serif" font-size="9.3" font-style="italic" fill="#8f0000" textLength="7.4" lengthAdjust="spacingAndGlyphs">m</text>
<text x="445.3" y="246.8" font-family="Liberation Serif" font-size="6.3" fill="#8f0000">val</text>
<path d="M456.1 246.4H462.5M456.1 248.7H462.5" stroke="#8f0000" stroke-width="0.75" fill="none"/>
<text x="462.9" y="251.0" font-family="Liberation Serif" font-size="10" fill="#8f0000">3.2</text>
<path d="M476.5 225.5 Q480.5 225.5 480.5 228.7 L480.5 235.2 Q480.5 238.4 485.7 238.4 Q480.5 238.4 480.5 241.6 L480.5 248.1 Q480.5 251.3 476.5 251.3" fill="none" stroke="#8f0000" stroke-width="1.35"/>
<text x="527.0" y="236.6" font-family="Liberation Serif" font-size="9.3" font-style="italic" fill="#00008f" textLength="7.4" lengthAdjust="spacingAndGlyphs">m</text>
<text x="534.5" y="232.4" font-family="Liberation Serif" font-size="6.3" fill="#00008f">spin</text>
<path d="M545.3 232.0H551.7M545.3 234.3H551.7" stroke="#00008f" stroke-width="0.75" fill="none"/>
<path d="M551.8 233.2H557.4" stroke="#00008f" stroke-width="0.75" fill="none"/>
<text x="557.5" y="236.6" font-family="Liberation Serif" font-size="10" fill="#00008f">0.9</text>
<text x="527.0" y="246.2" font-family="Liberation Serif" font-size="9.3" font-style="italic" fill="#00008f" textLength="7.4" lengthAdjust="spacingAndGlyphs">m</text>
<text x="534.7" y="241.6" font-family="Liberation Serif" font-size="6.3" fill="#00008f">orb</text>
<text x="535.1" y="247.4" font-family="Liberation Serif" font-size="6.3" fill="#00008f">loc</text>
<path d="M545.3 241.6H551.7M545.3 243.9H551.7" stroke="#00008f" stroke-width="0.75" fill="none"/>
<text x="552.1" y="246.2" font-family="Liberation Serif" font-size="10" fill="#00008f">0.0</text>
<text x="527.0" y="256.4" font-family="Liberation Serif" font-size="9.3" font-style="italic" fill="#00008f" textLength="7.4" lengthAdjust="spacingAndGlyphs">m</text>
<text x="534.5" y="252.2" font-family="Liberation Serif" font-size="6.3" fill="#00008f">val</text>
<path d="M545.3 251.8H551.7M545.3 254.1H551.7" stroke="#00008f" stroke-width="0.75" fill="none"/>
<text x="552.1" y="256.4" font-family="Liberation Serif" font-size="10" fill="#00008f">2.3</text>
<path d="M526.5 231.3 Q521.9 231.3 521.9 234.5 L521.9 240.8 Q521.9 243.9 517.3 243.9 Q521.9 243.9 521.9 247.1 L521.9 253.4 Q521.9 256.6 526.5 256.6" fill="none" stroke="#00008f" stroke-width="1.35"/>
<text x="438.4" y="278.6" font-family="Liberation Serif" font-size="9.3" font-style="italic" fill="#8f0000" textLength="7.4" lengthAdjust="spacingAndGlyphs">m</text>
<text x="445.9" y="274.4" font-family="Liberation Serif" font-size="6.3" fill="#8f0000">spin</text>
<path d="M456.7 274.0H463.1M456.7 276.3H463.1" stroke="#8f0000" stroke-width="0.75" fill="none"/>
<path d="M463.2 275.2H469.7M466.4 271.9V278.4" stroke="#8f0000" stroke-width="0.75" fill="none"/>
<text x="470.6" y="278.6" font-family="Liberation Serif" font-size="10" fill="#8f0000">1</text>
<text x="438.4" y="287.8" font-family="Liberation Serif" font-size="9.3" font-style="italic" fill="#8f0000" textLength="7.4" lengthAdjust="spacingAndGlyphs">m</text>
<text x="446.1" y="283.2" font-family="Liberation Serif" font-size="6.3" fill="#8f0000">orb</text>
<text x="446.5" y="289.0" font-family="Liberation Serif" font-size="6.3" fill="#8f0000">loc</text>
<path d="M456.7 283.2H463.1M456.7 285.5H463.1" stroke="#8f0000" stroke-width="0.75" fill="none"/>
<text x="463.5" y="287.8" font-family="Liberation Serif" font-size="10" fill="#8f0000">1.8</text>
<text x="438.4" y="298.4" font-family="Liberation Serif" font-size="9.3" font-style="italic" fill="#8f0000" textLength="7.4" lengthAdjust="spacingAndGlyphs">m</text>
<text x="445.9" y="294.2" font-family="Liberation Serif" font-size="6.3" fill="#8f0000">val</text>
<path d="M456.7 293.8H463.1M456.7 296.1H463.1" stroke="#8f0000" stroke-width="0.75" fill="none"/>
<text x="463.5" y="298.4" font-family="Liberation Serif" font-size="10" fill="#8f0000">3.1</text>
<path d="M476.5 273.0 Q480.3 273.0 480.3 276.2 L480.3 282.6 Q480.3 285.8 485.5 285.8 Q480.3 285.8 480.3 288.9 L480.3 295.3 Q480.3 298.5 476.5 298.5" fill="none" stroke="#8f0000" stroke-width="1.35"/>
<text x="527.6" y="284.2" font-family="Liberation Serif" font-size="9.3" font-style="italic" fill="#00008f" textLength="7.4" lengthAdjust="spacingAndGlyphs">m</text>
<text x="535.1" y="280.0" font-family="Liberation Serif" font-size="6.3" fill="#00008f">spin</text>
<path d="M545.9 279.6H552.3M545.9 281.9H552.3" stroke="#00008f" stroke-width="0.75" fill="none"/>
<path d="M552.4 280.8H558.0" stroke="#00008f" stroke-width="0.75" fill="none"/>
<text x="558.1" y="284.2" font-family="Liberation Serif" font-size="10" fill="#00008f">1</text>
<text x="527.6" y="294.1" font-family="Liberation Serif" font-size="9.3" font-style="italic" fill="#00008f" textLength="7.4" lengthAdjust="spacingAndGlyphs">m</text>
<text x="535.3" y="289.5" font-family="Liberation Serif" font-size="6.3" fill="#00008f">orb</text>
<text x="535.7" y="295.3" font-family="Liberation Serif" font-size="6.3" fill="#00008f">loc</text>
<path d="M545.9 289.5H552.3M545.9 291.8H552.3" stroke="#00008f" stroke-width="0.75" fill="none"/>
<text x="552.7" y="294.1" font-family="Liberation Serif" font-size="10" fill="#00008f">1.9</text>
<text x="527.6" y="304.3" font-family="Liberation Serif" font-size="9.3" font-style="italic" fill="#00008f" textLength="7.4" lengthAdjust="spacingAndGlyphs">m</text>
<text x="535.1" y="300.1" font-family="Liberation Serif" font-size="6.3" fill="#00008f">val</text>
<path d="M545.9 299.7H552.3M545.9 302.0H552.3" stroke="#00008f" stroke-width="0.75" fill="none"/>
<text x="552.7" y="304.3" font-family="Liberation Serif" font-size="10" fill="#00008f">2.4</text>
<path d="M526.9 278.8 Q522.5 278.8 522.5 282.0 L522.5 288.6 Q522.5 291.8 518.7 291.8 Q522.5 291.8 522.5 295.0 L522.5 301.6 Q522.5 304.8 526.9 304.8" fill="none" stroke="#00008f" stroke-width="1.35"/>
<line x1="139.5" y1="223" x2="139.5" y2="308.5" stroke="#333" stroke-width="0.9" stroke-dasharray="1 1.05"/>
<line x1="284.9" y1="223" x2="284.9" y2="308.5" stroke="#333" stroke-width="0.9" stroke-dasharray="1 1.05"/>
<line x1="429.4" y1="223" x2="429.4" y2="308.5" stroke="#333" stroke-width="0.9" stroke-dasharray="1 1.05"/>
</svg>
</body></html>
